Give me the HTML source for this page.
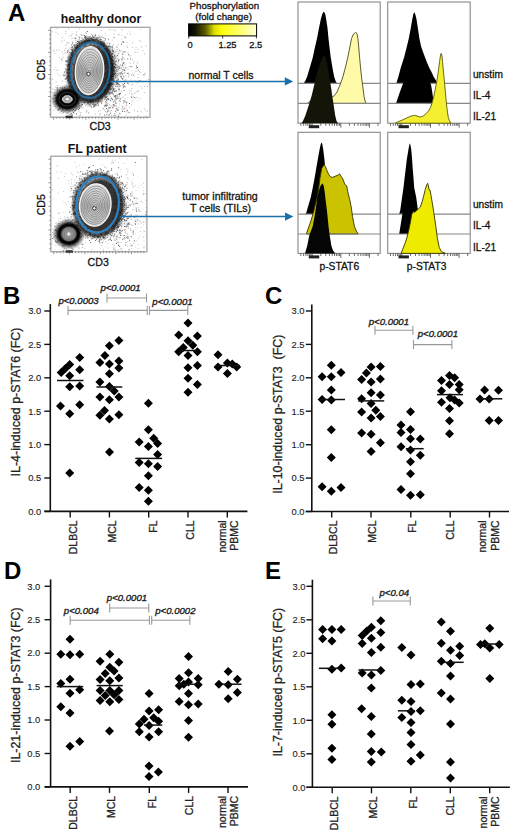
<!DOCTYPE html>
<html><head><meta charset="utf-8"><style>
html,body{margin:0;padding:0;background:#fff;}
svg{display:block;}
text{font-family:"Liberation Sans", sans-serif;}
</style></head><body>
<svg width="520" height="835" viewBox="0 0 520 835">
<defs>
<filter id="bl1" x="-30%" y="-30%" width="160%" height="160%"><feGaussianBlur stdDeviation="1.6"/></filter>
<filter id="bl05" x="-30%" y="-30%" width="160%" height="160%"><feGaussianBlur stdDeviation="0.8"/></filter>
</defs>
<rect width="520" height="835" fill="#fff"/>
<text x="8" y="21" font-size="24" text-anchor="start" fill="#000" font-weight="bold">A</text>
<text x="101" y="22.6" font-size="12.2" text-anchor="middle" fill="#111" font-weight="bold">healthy donor</text>
<text x="97.2" y="152.6" font-size="12.4" text-anchor="middle" fill="#111" font-weight="bold">FL patient</text>
<rect x="50.6" y="27.3" width="99.4" height="89.9" fill="#fff" stroke="#aaa" stroke-width="1.4"/>
<defs><radialGradient id="hg1" cx="0.5" cy="0.5" r="0.5"><stop offset="0" stop-color="#222" stop-opacity="0.9"/><stop offset="0.70" stop-color="#111" stop-opacity="0.85"/><stop offset="0.80" stop-color="#222" stop-opacity="0.5"/><stop offset="0.90" stop-color="#444" stop-opacity="0.15"/><stop offset="1" stop-color="#666" stop-opacity="0"/></radialGradient><radialGradient id="sg1" cx="0.5" cy="0.5" r="0.5"><stop offset="0" stop-color="#fafafa"/><stop offset="0.015" stop-color="#ddd"/><stop offset="0.045" stop-color="#a0a0a0"/><stop offset="0.090" stop-color="#8a8a8a"/><stop offset="0.140" stop-color="#1a1a1a"/><stop offset="0.200" stop-color="#000"/><stop offset="0.64" stop-color="#000" stop-opacity="0.95"/><stop offset="0.78" stop-color="#222" stop-opacity="0.55"/><stop offset="1" stop-color="#444" stop-opacity="0"/></radialGradient><linearGradient id="ig1" x1="0" y1="0" x2="0" y2="1"><stop offset="0" stop-color="#dedede"/><stop offset="0.5" stop-color="#c0c0c0"/><stop offset="1" stop-color="#d0d0d0"/></linearGradient></defs>
<path d="M58.7 75.4h0.9v0.9h-0.9zM57.2 72.9h0.9v0.9h-0.9zM93.8 34.4h0.9v0.9h-0.9zM92.9 101.0h0.9v0.9h-0.9zM56.1 103.8h0.9v0.9h-0.9zM113.8 61.0h0.9v0.9h-0.9zM57.7 33.5h0.9v0.9h-0.9zM117.9 65.9h0.9v0.9h-0.9zM108.6 68.1h0.9v0.9h-0.9zM129.0 89.7h0.9v0.9h-0.9zM107.5 74.5h0.9v0.9h-0.9zM66.4 71.3h0.9v0.9h-0.9zM116.7 95.5h0.9v0.9h-0.9zM109.5 79.3h0.9v0.9h-0.9zM79.3 62.2h0.9v0.9h-0.9zM53.8 68.9h0.9v0.9h-0.9zM64.2 50.1h0.9v0.9h-0.9zM66.3 43.8h0.9v0.9h-0.9zM74.3 70.9h0.9v0.9h-0.9zM87.6 78.1h0.9v0.9h-0.9zM118.9 73.6h0.9v0.9h-0.9zM89.8 63.4h0.9v0.9h-0.9zM113.4 33.8h0.9v0.9h-0.9zM71.9 42.6h0.9v0.9h-0.9zM56.7 28.3h0.9v0.9h-0.9zM61.5 60.3h0.9v0.9h-0.9zM136.8 82.3h0.9v0.9h-0.9zM76.2 58.8h0.9v0.9h-0.9zM97.0 70.8h0.9v0.9h-0.9zM61.6 58.4h0.9v0.9h-0.9zM132.3 42.5h0.9v0.9h-0.9zM144.2 74.7h0.9v0.9h-0.9zM77.0 60.5h0.9v0.9h-0.9zM131.3 93.3h0.9v0.9h-0.9zM102.0 59.6h0.9v0.9h-0.9zM54.3 52.9h0.9v0.9h-0.9zM119.1 112.4h0.9v0.9h-0.9zM87.1 47.7h0.9v0.9h-0.9zM115.2 98.6h0.9v0.9h-0.9zM124.7 70.3h0.9v0.9h-0.9zM143.8 92.0h0.9v0.9h-0.9zM147.1 86.1h0.9v0.9h-0.9zM105.0 39.8h0.9v0.9h-0.9zM132.1 46.9h0.9v0.9h-0.9zM76.9 65.1h0.9v0.9h-0.9zM108.4 107.8h0.9v0.9h-0.9zM105.8 57.0h0.9v0.9h-0.9zM105.7 97.2h0.9v0.9h-0.9zM106.2 50.1h0.9v0.9h-0.9zM126.8 72.9h0.9v0.9h-0.9zM125.6 108.5h0.9v0.9h-0.9zM111.3 72.7h0.9v0.9h-0.9zM119.1 68.1h0.9v0.9h-0.9zM137.0 111.1h0.9v0.9h-0.9zM58.7 49.5h0.9v0.9h-0.9zM73.0 112.0h0.9v0.9h-0.9zM67.3 66.2h0.9v0.9h-0.9zM84.6 45.5h0.9v0.9h-0.9zM112.4 73.3h0.9v0.9h-0.9zM61.8 51.6h0.9v0.9h-0.9zM127.5 52.1h0.9v0.9h-0.9zM107.2 89.9h0.9v0.9h-0.9zM57.2 88.8h0.9v0.9h-0.9zM84.6 76.9h0.9v0.9h-0.9zM74.8 37.9h0.9v0.9h-0.9zM81.3 95.1h0.9v0.9h-0.9zM100.3 43.9h0.9v0.9h-0.9zM53.4 50.3h0.9v0.9h-0.9zM123.0 76.7h0.9v0.9h-0.9zM97.8 110.5h0.9v0.9h-0.9zM131.4 66.3h0.9v0.9h-0.9zM132.9 62.9h0.9v0.9h-0.9zM118.6 114.7h0.9v0.9h-0.9zM91.0 58.8h0.9v0.9h-0.9zM76.5 42.6h0.9v0.9h-0.9zM79.1 49.6h0.9v0.9h-0.9zM96.4 42.1h0.9v0.9h-0.9zM81.7 59.6h0.9v0.9h-0.9zM88.8 70.0h0.9v0.9h-0.9zM71.2 72.7h0.9v0.9h-0.9zM74.3 79.8h0.9v0.9h-0.9zM124.7 86.1h0.9v0.9h-0.9zM137.2 62.5h0.9v0.9h-0.9zM100.7 101.7h0.9v0.9h-0.9zM118.1 89.2h0.9v0.9h-0.9zM112.7 83.3h0.9v0.9h-0.9zM124.5 72.5h0.9v0.9h-0.9zM76.2 34.8h0.9v0.9h-0.9zM98.3 88.4h0.9v0.9h-0.9zM111.7 84.8h0.9v0.9h-0.9zM81.3 78.2h0.9v0.9h-0.9zM119.0 87.7h0.9v0.9h-0.9zM101.9 69.1h0.9v0.9h-0.9zM63.1 106.9h0.9v0.9h-0.9zM146.9 110.6h0.9v0.9h-0.9zM95.4 51.9h0.9v0.9h-0.9zM64.5 100.4h0.9v0.9h-0.9zM138.0 90.1h0.9v0.9h-0.9zM139.0 71.0h0.9v0.9h-0.9zM81.0 40.7h0.9v0.9h-0.9zM82.4 102.2h0.9v0.9h-0.9zM124.7 102.1h0.9v0.9h-0.9zM79.8 61.0h0.9v0.9h-0.9zM93.3 52.5h0.9v0.9h-0.9zM61.5 101.7h0.9v0.9h-0.9zM142.7 50.2h0.9v0.9h-0.9zM101.4 45.0h0.9v0.9h-0.9zM105.1 91.6h0.9v0.9h-0.9zM114.4 53.5h0.9v0.9h-0.9zM80.9 77.3h0.9v0.9h-0.9zM67.9 42.5h0.9v0.9h-0.9zM139.8 72.0h0.9v0.9h-0.9zM65.2 45.2h0.9v0.9h-0.9zM84.9 36.3h0.9v0.9h-0.9zM124.6 64.6h0.9v0.9h-0.9zM102.7 61.4h0.9v0.9h-0.9zM135.6 47.3h0.9v0.9h-0.9zM75.8 63.4h0.9v0.9h-0.9zM75.8 37.9h0.9v0.9h-0.9zM102.5 88.3h0.9v0.9h-0.9zM121.9 85.2h0.9v0.9h-0.9zM96.1 76.8h0.9v0.9h-0.9zM114.5 55.0h0.9v0.9h-0.9zM76.1 84.2h0.9v0.9h-0.9zM108.4 62.4h0.9v0.9h-0.9zM110.1 29.2h0.9v0.9h-0.9zM137.7 70.1h0.9v0.9h-0.9zM117.3 65.2h0.9v0.9h-0.9zM116.6 109.6h0.9v0.9h-0.9zM123.6 72.7h0.9v0.9h-0.9zM80.3 112.0h0.9v0.9h-0.9zM69.8 47.9h0.9v0.9h-0.9zM116.4 111.7h0.9v0.9h-0.9zM65.4 32.9h0.9v0.9h-0.9zM88.5 61.2h0.9v0.9h-0.9zM85.8 112.3h0.9v0.9h-0.9zM131.6 100.6h0.9v0.9h-0.9zM56.4 69.9h0.9v0.9h-0.9zM130.7 95.7h0.9v0.9h-0.9zM82.4 52.5h0.9v0.9h-0.9zM89.2 50.4h0.9v0.9h-0.9zM99.7 109.9h0.9v0.9h-0.9zM126.9 81.7h0.9v0.9h-0.9zM75.7 34.0h0.9v0.9h-0.9zM137.7 115.1h0.9v0.9h-0.9zM120.7 67.6h0.9v0.9h-0.9zM92.2 82.8h0.9v0.9h-0.9zM63.4 102.2h0.9v0.9h-0.9zM106.8 61.1h0.9v0.9h-0.9zM71.0 50.0h0.9v0.9h-0.9zM115.2 115.4h0.9v0.9h-0.9zM97.8 100.3h0.9v0.9h-0.9zM108.4 110.1h0.9v0.9h-0.9zM136.0 67.8h0.9v0.9h-0.9zM127.4 111.4h0.9v0.9h-0.9zM109.7 82.8h0.9v0.9h-0.9zM87.5 40.7h0.9v0.9h-0.9zM76.4 81.0h0.9v0.9h-0.9zM117.7 44.6h0.9v0.9h-0.9zM71.4 98.2h0.9v0.9h-0.9zM105.2 84.5h0.9v0.9h-0.9zM67.5 89.4h0.9v0.9h-0.9zM82.0 78.1h0.9v0.9h-0.9zM92.9 100.4h0.9v0.9h-0.9zM137.6 68.8h0.9v0.9h-0.9zM87.7 72.6h0.9v0.9h-0.9zM145.8 45.6h0.9v0.9h-0.9zM67.2 97.4h0.9v0.9h-0.9zM69.4 47.5h0.9v0.9h-0.9zM102.0 62.0h0.9v0.9h-0.9zM55.3 102.0h0.9v0.9h-0.9zM110.0 76.6h0.9v0.9h-0.9zM81.4 65.2h0.9v0.9h-0.9zM93.1 86.2h0.9v0.9h-0.9zM127.6 68.6h0.9v0.9h-0.9zM97.7 37.7h0.9v0.9h-0.9zM88.4 111.9h0.9v0.9h-0.9zM67.1 107.1h0.9v0.9h-0.9zM141.2 46.6h0.9v0.9h-0.9zM100.9 56.3h0.9v0.9h-0.9zM117.8 107.0h0.9v0.9h-0.9zM105.7 79.3h0.9v0.9h-0.9zM90.0 98.4h0.9v0.9h-0.9zM148.1 79.0h0.9v0.9h-0.9zM126.1 67.2h0.9v0.9h-0.9zM108.7 86.6h0.9v0.9h-0.9zM51.8 31.3h0.9v0.9h-0.9zM111.6 66.3h0.9v0.9h-0.9zM138.8 39.9h0.9v0.9h-0.9zM115.2 30.3h0.9v0.9h-0.9zM86.2 37.6h0.9v0.9h-0.9zM73.4 79.6h0.9v0.9h-0.9zM71.5 83.1h0.9v0.9h-0.9zM64.7 110.6h0.9v0.9h-0.9zM136.5 97.1h0.9v0.9h-0.9zM106.4 59.1h0.9v0.9h-0.9zM75.8 107.7h0.9v0.9h-0.9zM103.4 64.0h0.9v0.9h-0.9zM57.3 96.8h0.9v0.9h-0.9zM105.3 111.0h0.9v0.9h-0.9zM71.0 81.8h0.9v0.9h-0.9zM114.1 99.8h0.9v0.9h-0.9zM81.7 54.7h0.9v0.9h-0.9zM96.9 93.5h0.9v0.9h-0.9zM73.6 37.6h0.9v0.9h-0.9zM77.5 77.0h0.9v0.9h-0.9zM128.4 74.3h0.9v0.9h-0.9zM114.1 113.1h0.9v0.9h-0.9zM113.0 89.2h0.9v0.9h-0.9zM119.5 103.7h0.9v0.9h-0.9zM122.2 78.4h0.9v0.9h-0.9zM72.2 83.0h0.9v0.9h-0.9zM140.3 41.0h0.9v0.9h-0.9zM62.0 110.0h0.9v0.9h-0.9zM65.4 30.8h0.9v0.9h-0.9zM119.1 84.0h0.9v0.9h-0.9zM87.0 100.2h0.9v0.9h-0.9zM140.7 111.3h0.9v0.9h-0.9zM71.6 38.1h0.9v0.9h-0.9zM132.0 83.8h0.9v0.9h-0.9zM71.6 56.4h0.9v0.9h-0.9zM53.6 50.9h0.9v0.9h-0.9zM121.3 60.6h0.9v0.9h-0.9zM94.1 96.2h0.9v0.9h-0.9zM120.2 75.6h0.9v0.9h-0.9zM68.2 28.4h0.9v0.9h-0.9zM125.8 114.3h0.9v0.9h-0.9zM99.4 71.5h0.9v0.9h-0.9zM69.6 71.8h0.9v0.9h-0.9zM128.2 83.5h0.9v0.9h-0.9zM60.0 106.4h0.9v0.9h-0.9zM100.4 61.6h0.9v0.9h-0.9zM74.4 68.8h0.9v0.9h-0.9zM125.1 94.5h0.9v0.9h-0.9zM85.5 57.0h0.9v0.9h-0.9zM108.0 39.4h0.9v0.9h-0.9zM137.8 49.2h0.9v0.9h-0.9zM81.0 90.1h0.9v0.9h-0.9zM66.7 42.0h0.9v0.9h-0.9zM83.4 74.2h0.9v0.9h-0.9zM129.0 92.8h0.9v0.9h-0.9zM70.7 84.4h0.9v0.9h-0.9zM71.7 62.4h0.9v0.9h-0.9zM90.5 97.8h0.9v0.9h-0.9zM100.3 83.9h0.9v0.9h-0.9zM65.4 81.4h0.9v0.9h-0.9zM123.8 108.1h0.9v0.9h-0.9zM107.5 94.1h0.9v0.9h-0.9zM117.8 84.7h0.9v0.9h-0.9zM82.1 83.5h0.9v0.9h-0.9zM92.5 97.1h0.9v0.9h-0.9zM112.9 50.3h0.9v0.9h-0.9zM95.9 82.9h0.9v0.9h-0.9zM117.4 110.1h0.9v0.9h-0.9zM115.3 96.7h0.9v0.9h-0.9zM99.3 114.0h0.9v0.9h-0.9zM143.2 73.9h0.9v0.9h-0.9zM107.6 75.9h0.9v0.9h-0.9zM101.5 84.5h0.9v0.9h-0.9zM72.1 88.5h0.9v0.9h-0.9zM86.2 33.3h0.9v0.9h-0.9zM92.6 89.7h0.9v0.9h-0.9zM143.1 74.6h0.9v0.9h-0.9zM129.7 62.8h0.9v0.9h-0.9zM113.4 69.5h0.9v0.9h-0.9zM73.6 113.0h0.9v0.9h-0.9zM97.2 54.2h0.9v0.9h-0.9zM63.8 101.6h0.9v0.9h-0.9zM134.5 51.8h0.9v0.9h-0.9zM76.3 65.8h0.9v0.9h-0.9zM51.9 91.7h0.9v0.9h-0.9zM75.5 54.8h0.9v0.9h-0.9zM93.3 84.3h0.9v0.9h-0.9zM113.3 29.6h0.9v0.9h-0.9zM144.3 86.0h0.9v0.9h-0.9zM61.5 40.8h0.9v0.9h-0.9zM127.2 58.8h0.9v0.9h-0.9zM139.7 97.9h0.9v0.9h-0.9zM103.3 93.5h0.9v0.9h-0.9zM137.6 77.1h0.9v0.9h-0.9zM57.3 69.4h0.9v0.9h-0.9zM99.5 72.1h0.9v0.9h-0.9zM97.2 77.7h0.9v0.9h-0.9zM133.5 61.3h0.9v0.9h-0.9zM118.1 110.2h0.9v0.9h-0.9zM87.3 70.0h0.9v0.9h-0.9zM126.7 46.8h0.9v0.9h-0.9zM92.7 77.0h0.9v0.9h-0.9zM80.1 101.1h0.9v0.9h-0.9zM100.7 52.2h0.9v0.9h-0.9zM83.8 56.2h0.9v0.9h-0.9zM108.7 84.1h0.9v0.9h-0.9zM104.7 32.7h0.9v0.9h-0.9zM110.9 86.1h0.9v0.9h-0.9zM112.7 89.5h0.9v0.9h-0.9zM96.2 95.3h0.9v0.9h-0.9zM140.6 85.9h0.9v0.9h-0.9zM131.7 97.4h0.9v0.9h-0.9zM76.7 54.8h0.9v0.9h-0.9zM82.6 66.2h0.9v0.9h-0.9zM107.6 109.0h0.9v0.9h-0.9zM72.3 41.6h0.9v0.9h-0.9zM52.1 88.4h0.9v0.9h-0.9zM75.2 92.8h0.9v0.9h-0.9zM134.9 92.4h0.9v0.9h-0.9zM112.8 90.6h0.9v0.9h-0.9zM121.5 29.3h0.9v0.9h-0.9zM115.0 100.1h0.9v0.9h-0.9zM81.9 92.4h0.9v0.9h-0.9zM135.5 71.0h0.9v0.9h-0.9zM87.4 78.8h0.9v0.9h-0.9zM87.0 85.0h0.9v0.9h-0.9zM92.3 62.2h0.9v0.9h-0.9zM120.1 101.0h0.9v0.9h-0.9zM110.2 55.4h0.9v0.9h-0.9zM79.2 28.4h0.9v0.9h-0.9zM92.8 79.9h0.9v0.9h-0.9zM118.3 108.6h0.9v0.9h-0.9zM74.4 81.6h0.9v0.9h-0.9zM96.9 46.5h0.9v0.9h-0.9zM124.8 97.9h0.9v0.9h-0.9zM137.8 74.2h0.9v0.9h-0.9zM109.0 44.9h0.9v0.9h-0.9zM69.2 89.9h0.9v0.9h-0.9zM106.6 63.7h0.9v0.9h-0.9zM85.2 74.0h0.9v0.9h-0.9zM99.0 78.2h0.9v0.9h-0.9zM76.3 31.6h0.9v0.9h-0.9zM69.2 35.7h0.9v0.9h-0.9zM105.9 104.8h0.9v0.9h-0.9zM143.9 108.3h0.9v0.9h-0.9zM109.9 63.2h0.9v0.9h-0.9zM89.9 67.7h0.9v0.9h-0.9zM145.7 115.5h0.9v0.9h-0.9zM114.6 114.9h0.9v0.9h-0.9zM117.5 54.6h0.9v0.9h-0.9zM125.4 37.6h0.9v0.9h-0.9zM68.0 49.3h0.9v0.9h-0.9zM112.8 68.1h0.9v0.9h-0.9zM65.5 47.8h0.9v0.9h-0.9zM121.1 76.9h0.9v0.9h-0.9zM84.2 43.0h0.9v0.9h-0.9zM82.6 107.7h0.9v0.9h-0.9zM116.7 46.9h0.9v0.9h-0.9zM79.5 51.0h0.9v0.9h-0.9zM80.2 114.3h0.9v0.9h-0.9zM130.2 58.3h0.9v0.9h-0.9zM72.9 78.5h0.9v0.9h-0.9zM70.8 35.3h0.9v0.9h-0.9zM110.9 71.9h0.9v0.9h-0.9zM71.7 82.1h0.9v0.9h-0.9zM130.6 79.5h0.9v0.9h-0.9zM58.0 92.7h0.9v0.9h-0.9zM98.0 105.0h0.9v0.9h-0.9zM69.7 101.4h0.9v0.9h-0.9zM131.1 104.4h0.9v0.9h-0.9zM99.8 73.4h0.9v0.9h-0.9zM73.4 44.3h0.9v0.9h-0.9zM76.0 100.1h0.9v0.9h-0.9zM61.0 89.7h0.9v0.9h-0.9zM102.5 90.1h0.9v0.9h-0.9zM136.3 91.3h0.9v0.9h-0.9zM63.6 71.7h0.9v0.9h-0.9zM78.8 39.0h0.9v0.9h-0.9zM89.5 65.3h0.9v0.9h-0.9zM127.3 58.1h0.9v0.9h-0.9zM144.9 110.4h0.9v0.9h-0.9zM92.7 83.9h0.9v0.9h-0.9zM100.8 30.1h0.9v0.9h-0.9zM77.5 87.9h0.9v0.9h-0.9zM104.4 109.6h0.9v0.9h-0.9zM76.0 74.0h0.9v0.9h-0.9zM144.2 53.6h0.9v0.9h-0.9zM144.7 73.5h0.9v0.9h-0.9zM97.0 75.2h0.9v0.9h-0.9zM63.7 39.8h0.9v0.9h-0.9zM91.2 53.6h0.9v0.9h-0.9zM111.0 78.4h0.9v0.9h-0.9zM71.2 90.7h0.9v0.9h-0.9zM105.0 82.2h0.9v0.9h-0.9zM81.8 49.6h0.9v0.9h-0.9zM101.5 62.0h0.9v0.9h-0.9zM74.8 77.2h0.9v0.9h-0.9zM79.3 115.1h0.9v0.9h-0.9zM126.8 42.2h0.9v0.9h-0.9zM136.5 67.0h0.9v0.9h-0.9zM89.4 67.0h0.9v0.9h-0.9zM123.5 41.9h0.9v0.9h-0.9zM85.9 87.7h0.9v0.9h-0.9zM97.9 97.3h0.9v0.9h-0.9zM100.1 112.9h0.9v0.9h-0.9zM92.3 97.2h0.9v0.9h-0.9zM110.8 61.7h0.9v0.9h-0.9zM96.2 91.9h0.9v0.9h-0.9zM89.7 77.1h0.9v0.9h-0.9zM100.3 67.3h0.9v0.9h-0.9zM140.3 29.2h0.9v0.9h-0.9zM106.6 72.0h0.9v0.9h-0.9zM102.0 73.8h0.9v0.9h-0.9zM89.5 59.7h0.9v0.9h-0.9zM102.8 37.0h0.9v0.9h-0.9zM90.6 77.6h0.9v0.9h-0.9zM94.5 83.2h0.9v0.9h-0.9zM85.0 74.9h0.9v0.9h-0.9zM132.1 73.4h0.9v0.9h-0.9zM100.8 44.8h0.9v0.9h-0.9zM113.0 81.3h0.9v0.9h-0.9zM148.4 84.2h0.9v0.9h-0.9zM91.7 97.5h0.9v0.9h-0.9zM70.8 72.1h0.9v0.9h-0.9zM77.5 85.2h0.9v0.9h-0.9zM62.0 37.1h0.9v0.9h-0.9zM102.5 100.7h0.9v0.9h-0.9zM130.2 33.8h0.9v0.9h-0.9zM86.1 43.2h0.9v0.9h-0.9zM85.6 67.8h0.9v0.9h-0.9zM75.3 62.6h0.9v0.9h-0.9zM98.8 98.0h0.9v0.9h-0.9zM68.5 59.8h0.9v0.9h-0.9zM62.8 75.2h0.9v0.9h-0.9zM90.9 34.1h0.9v0.9h-0.9zM132.0 59.2h0.9v0.9h-0.9zM70.2 53.2h0.9v0.9h-0.9zM55.0 86.7h0.9v0.9h-0.9zM66.8 90.3h0.9v0.9h-0.9zM77.9 101.7h0.9v0.9h-0.9zM94.8 101.8h0.9v0.9h-0.9zM88.3 112.5h0.9v0.9h-0.9zM144.2 72.7h0.9v0.9h-0.9zM77.0 107.4h0.9v0.9h-0.9zM87.4 49.9h0.9v0.9h-0.9zM72.3 105.0h0.9v0.9h-0.9zM101.6 76.0h0.9v0.9h-0.9zM106.9 55.6h0.9v0.9h-0.9zM82.9 86.6h0.9v0.9h-0.9zM106.3 60.1h0.9v0.9h-0.9zM80.5 34.1h0.9v0.9h-0.9zM64.5 52.6h0.9v0.9h-0.9zM117.8 86.6h0.9v0.9h-0.9zM91.8 86.2h0.9v0.9h-0.9zM75.8 102.7h0.9v0.9h-0.9zM112.8 44.3h0.9v0.9h-0.9zM55.5 31.8h0.9v0.9h-0.9zM70.9 54.9h0.9v0.9h-0.9zM69.1 102.1h0.9v0.9h-0.9zM121.4 50.7h0.9v0.9h-0.9zM118.3 59.0h0.9v0.9h-0.9zM132.9 96.6h0.9v0.9h-0.9zM56.2 49.8h0.9v0.9h-0.9zM89.9 94.0h0.9v0.9h-0.9zM123.5 101.3h0.9v0.9h-0.9zM93.3 73.3h0.9v0.9h-0.9zM64.0 95.3h0.9v0.9h-0.9zM120.0 99.1h0.9v0.9h-0.9zM104.6 50.2h0.9v0.9h-0.9zM86.5 64.5h0.9v0.9h-0.9zM116.9 49.2h0.9v0.9h-0.9zM101.8 67.4h0.9v0.9h-0.9zM65.4 77.8h0.9v0.9h-0.9zM68.1 86.9h0.9v0.9h-0.9zM96.5 95.6h0.9v0.9h-0.9zM62.8 53.7h0.9v0.9h-0.9zM71.7 33.6h0.9v0.9h-0.9zM70.8 90.0h0.9v0.9h-0.9zM62.6 56.8h0.9v0.9h-0.9zM87.0 43.1h0.9v0.9h-0.9zM93.9 45.0h0.9v0.9h-0.9zM76.1 49.9h0.9v0.9h-0.9zM134.0 109.8h0.9v0.9h-0.9zM82.8 60.7h0.9v0.9h-0.9zM87.6 101.4h0.9v0.9h-0.9zM59.4 88.8h0.9v0.9h-0.9zM94.8 113.5h0.9v0.9h-0.9zM55.5 66.9h0.9v0.9h-0.9zM134.9 97.5h0.9v0.9h-0.9zM79.2 86.5h0.9v0.9h-0.9zM92.6 58.1h0.9v0.9h-0.9zM67.6 54.3h0.9v0.9h-0.9zM106.5 58.9h0.9v0.9h-0.9zM110.9 54.4h0.9v0.9h-0.9zM87.8 79.3h0.9v0.9h-0.9zM103.2 77.9h0.9v0.9h-0.9zM76.1 71.3h0.9v0.9h-0.9zM73.7 78.6h0.9v0.9h-0.9zM101.6 80.0h0.9v0.9h-0.9zM106.4 96.4h0.9v0.9h-0.9zM127.2 33.4h0.9v0.9h-0.9zM93.1 106.4h0.9v0.9h-0.9zM84.9 95.4h0.9v0.9h-0.9zM55.8 81.4h0.9v0.9h-0.9zM105.1 98.9h0.9v0.9h-0.9zM141.7 87.7h0.9v0.9h-0.9zM108.2 38.3h0.9v0.9h-0.9zM62.4 98.7h0.9v0.9h-0.9zM105.6 53.8h0.9v0.9h-0.9zM104.0 88.9h0.9v0.9h-0.9zM129.6 31.4h0.9v0.9h-0.9zM131.3 88.0h0.9v0.9h-0.9zM89.9 105.0h0.9v0.9h-0.9zM59.0 57.2h0.9v0.9h-0.9zM138.7 80.1h0.9v0.9h-0.9zM68.1 60.0h0.9v0.9h-0.9zM107.8 62.4h0.9v0.9h-0.9zM52.2 79.2h0.9v0.9h-0.9zM78.2 52.3h0.9v0.9h-0.9z" fill="#666" opacity="0.55"/>
<path d="M108.6 80.7h1v1h-1zM109.3 68.2h1v1h-1zM77.3 95.8h1v1h-1zM101.2 98.5h1v1h-1zM121.0 43.8h1v1h-1zM114.3 90.5h1v1h-1zM100.7 95.4h1v1h-1zM106.2 97.0h1v1h-1zM115.2 57.5h1v1h-1zM119.6 72.3h1v1h-1zM111.6 66.0h1v1h-1zM118.8 94.3h1v1h-1zM68.4 88.9h1v1h-1zM75.6 101.9h1v1h-1zM100.7 92.7h1v1h-1zM113.4 105.5h1v1h-1zM105.5 45.4h1v1h-1zM116.8 75.2h1v1h-1zM109.7 74.5h1v1h-1zM69.1 110.6h1v1h-1zM108.0 67.4h1v1h-1zM87.9 38.4h1v1h-1zM123.3 100.2h1v1h-1zM105.3 92.5h1v1h-1zM116.3 68.9h1v1h-1zM90.4 37.7h1v1h-1zM108.8 53.6h1v1h-1zM77.4 101.1h1v1h-1zM106.1 48.4h1v1h-1zM112.1 93.3h1v1h-1zM80.7 88.0h1v1h-1zM104.9 89.9h1v1h-1zM76.0 91.5h1v1h-1zM66.7 91.5h1v1h-1zM91.4 100.0h1v1h-1zM102.9 42.7h1v1h-1zM115.0 63.8h1v1h-1zM71.1 46.8h1v1h-1zM115.8 108.3h1v1h-1zM109.4 57.5h1v1h-1zM67.3 74.7h1v1h-1zM123.1 62.8h1v1h-1zM96.5 98.7h1v1h-1zM105.6 75.6h1v1h-1zM116.1 98.4h1v1h-1zM68.0 85.2h1v1h-1zM106.3 45.9h1v1h-1zM109.9 85.1h1v1h-1zM108.4 70.5h1v1h-1zM139.7 80.4h1v1h-1zM127.5 72.8h1v1h-1zM75.3 101.9h1v1h-1zM111.8 71.0h1v1h-1zM112.7 104.1h1v1h-1zM101.8 42.6h1v1h-1zM72.6 55.9h1v1h-1zM97.7 36.9h1v1h-1zM76.6 46.5h1v1h-1zM79.2 37.2h1v1h-1zM57.8 93.3h1v1h-1zM95.5 39.0h1v1h-1zM77.0 45.2h1v1h-1zM55.5 100.5h1v1h-1zM66.8 77.1h1v1h-1zM115.2 77.4h1v1h-1zM90.2 44.0h1v1h-1zM109.0 75.5h1v1h-1zM71.5 51.9h1v1h-1zM75.5 50.9h1v1h-1zM124.4 36.6h1v1h-1zM90.9 100.7h1v1h-1zM101.4 89.7h1v1h-1zM104.1 114.5h1v1h-1zM117.7 78.8h1v1h-1zM111.1 67.4h1v1h-1zM80.7 39.9h1v1h-1zM106.4 66.7h1v1h-1zM73.3 89.7h1v1h-1zM106.8 61.3h1v1h-1zM80.8 96.3h1v1h-1zM74.2 97.0h1v1h-1zM111.1 76.2h1v1h-1zM91.1 99.8h1v1h-1zM66.9 92.5h1v1h-1zM79.0 96.0h1v1h-1zM73.7 58.4h1v1h-1zM109.3 43.0h1v1h-1zM105.0 91.2h1v1h-1zM107.2 110.8h1v1h-1zM73.7 45.2h1v1h-1zM100.9 41.2h1v1h-1zM96.6 37.4h1v1h-1zM109.2 56.2h1v1h-1zM114.6 67.2h1v1h-1zM84.9 44.8h1v1h-1zM111.3 83.2h1v1h-1zM113.8 69.7h1v1h-1zM106.1 92.2h1v1h-1zM115.1 73.1h1v1h-1zM55.8 100.2h1v1h-1zM59.0 105.9h1v1h-1zM116.9 54.9h1v1h-1zM111.9 65.5h1v1h-1zM109.3 57.5h1v1h-1zM105.2 101.1h1v1h-1zM63.9 87.5h1v1h-1zM111.3 97.6h1v1h-1zM124.3 51.2h1v1h-1zM116.6 80.5h1v1h-1zM108.4 73.3h1v1h-1zM107.2 98.0h1v1h-1zM116.9 85.7h1v1h-1zM106.4 47.8h1v1h-1zM55.8 103.1h1v1h-1zM81.3 95.4h1v1h-1zM126.7 109.9h1v1h-1zM71.8 86.4h1v1h-1zM98.7 46.4h1v1h-1zM110.7 78.5h1v1h-1zM83.1 43.9h1v1h-1zM116.4 72.7h1v1h-1zM92.9 38.9h1v1h-1zM113.7 114.7h1v1h-1zM119.4 113.2h1v1h-1zM114.1 72.3h1v1h-1zM128.0 54.3h1v1h-1zM78.7 46.8h1v1h-1zM102.8 46.2h1v1h-1zM113.2 80.2h1v1h-1zM69.4 77.8h1v1h-1zM117.9 68.8h1v1h-1zM130.9 96.8h1v1h-1zM110.1 67.4h1v1h-1zM80.5 105.8h1v1h-1zM109.8 60.7h1v1h-1zM56.9 90.4h1v1h-1zM110.1 63.1h1v1h-1zM114.8 96.4h1v1h-1zM105.4 104.2h1v1h-1zM103.8 50.5h1v1h-1zM92.3 100.5h1v1h-1zM123.0 41.5h1v1h-1zM113.7 73.9h1v1h-1zM112.0 86.4h1v1h-1zM67.2 91.4h1v1h-1zM94.5 105.2h1v1h-1zM64.6 74.4h1v1h-1zM71.7 110.3h1v1h-1zM105.8 77.2h1v1h-1zM82.6 39.5h1v1h-1zM88.3 98.4h1v1h-1zM105.3 77.9h1v1h-1zM67.5 50.6h1v1h-1zM110.9 46.5h1v1h-1zM79.7 45.2h1v1h-1zM106.4 99.2h1v1h-1zM122.7 84.1h1v1h-1zM124.2 110.9h1v1h-1zM86.5 41.3h1v1h-1zM111.9 55.9h1v1h-1zM86.6 46.2h1v1h-1zM70.7 78.2h1v1h-1zM76.5 94.0h1v1h-1zM111.2 67.3h1v1h-1zM105.5 58.0h1v1h-1zM109.0 88.2h1v1h-1zM104.7 84.2h1v1h-1zM100.3 98.2h1v1h-1zM129.0 103.1h1v1h-1zM108.2 71.7h1v1h-1zM107.0 63.7h1v1h-1zM108.6 90.4h1v1h-1zM100.3 97.6h1v1h-1zM113.8 95.8h1v1h-1zM71.3 114.7h1v1h-1zM110.3 83.9h1v1h-1zM113.3 50.4h1v1h-1zM104.4 89.7h1v1h-1zM87.9 40.4h1v1h-1zM121.6 78.1h1v1h-1zM74.7 99.2h1v1h-1zM57.6 109.4h1v1h-1zM119.1 100.4h1v1h-1zM109.0 79.9h1v1h-1zM85.7 39.8h1v1h-1zM108.2 49.1h1v1h-1zM60.5 109.3h1v1h-1zM101.7 97.0h1v1h-1zM67.4 69.3h1v1h-1zM53.1 101.5h1v1h-1zM110.0 85.1h1v1h-1zM105.6 51.8h1v1h-1zM107.0 55.6h1v1h-1zM106.1 93.7h1v1h-1zM117.2 83.4h1v1h-1zM109.2 85.5h1v1h-1zM57.2 103.1h1v1h-1zM60.3 94.6h1v1h-1zM83.9 95.0h1v1h-1zM112.2 107.3h1v1h-1zM62.2 96.5h1v1h-1zM116.1 90.4h1v1h-1zM108.2 84.3h1v1h-1zM113.0 101.4h1v1h-1zM104.8 94.4h1v1h-1zM112.0 49.6h1v1h-1zM82.5 45.1h1v1h-1zM66.8 59.9h1v1h-1zM62.5 91.4h1v1h-1zM97.2 103.0h1v1h-1zM89.6 36.1h1v1h-1zM103.4 93.5h1v1h-1zM91.1 38.7h1v1h-1zM109.8 83.3h1v1h-1zM107.2 85.4h1v1h-1zM113.9 91.3h1v1h-1zM110.3 83.1h1v1h-1zM69.8 68.9h1v1h-1zM89.2 40.1h1v1h-1zM117.8 52.7h1v1h-1zM82.3 99.5h1v1h-1zM73.4 87.5h1v1h-1zM74.6 103.9h1v1h-1zM104.0 43.7h1v1h-1zM104.3 90.9h1v1h-1zM85.7 43.4h1v1h-1zM58.8 90.5h1v1h-1zM56.7 87.3h1v1h-1zM104.9 66.7h1v1h-1zM69.0 64.0h1v1h-1zM107.3 57.9h1v1h-1zM82.1 89.2h1v1h-1zM112.3 65.0h1v1h-1zM76.2 88.7h1v1h-1zM74.2 87.4h1v1h-1zM75.3 90.5h1v1h-1zM68.3 107.3h1v1h-1zM109.9 77.6h1v1h-1zM74.7 83.1h1v1h-1zM95.3 47.6h1v1h-1zM90.4 50.5h1v1h-1zM117.6 78.5h1v1h-1zM80.4 93.7h1v1h-1zM79.5 47.1h1v1h-1zM70.5 90.2h1v1h-1zM104.7 105.5h1v1h-1zM110.6 98.2h1v1h-1zM116.7 94.4h1v1h-1zM110.3 74.9h1v1h-1zM108.9 83.2h1v1h-1zM122.0 53.7h1v1h-1zM58.6 108.9h1v1h-1zM109.2 60.3h1v1h-1zM93.7 41.2h1v1h-1zM123.6 90.0h1v1h-1zM69.0 68.4h1v1h-1zM103.9 48.3h1v1h-1zM87.1 40.0h1v1h-1zM90.4 105.7h1v1h-1zM107.0 84.7h1v1h-1zM94.4 105.8h1v1h-1zM108.3 58.2h1v1h-1zM92.9 37.1h1v1h-1zM79.1 97.8h1v1h-1zM83.8 98.4h1v1h-1zM122.6 62.8h1v1h-1zM86.9 31.0h1v1h-1zM105.8 53.2h1v1h-1zM69.5 105.7h1v1h-1zM73.3 94.3h1v1h-1zM94.3 104.0h1v1h-1zM89.9 101.1h1v1h-1zM122.7 87.3h1v1h-1zM61.0 102.8h1v1h-1zM106.2 100.1h1v1h-1zM86.3 98.0h1v1h-1zM78.7 95.4h1v1h-1zM109.4 55.6h1v1h-1zM73.0 109.2h1v1h-1zM113.8 54.8h1v1h-1zM69.9 57.0h1v1h-1zM85.2 36.4h1v1h-1zM114.9 110.7h1v1h-1zM111.5 62.4h1v1h-1zM124.7 67.5h1v1h-1zM105.0 97.3h1v1h-1zM109.0 57.1h1v1h-1zM104.4 61.6h1v1h-1zM78.1 109.1h1v1h-1zM106.7 53.4h1v1h-1zM78.4 98.4h1v1h-1zM72.1 92.3h1v1h-1zM67.5 108.1h1v1h-1zM77.3 100.0h1v1h-1zM73.7 92.1h1v1h-1zM119.9 73.5h1v1h-1zM107.7 75.2h1v1h-1zM115.6 105.4h1v1h-1zM108.7 92.5h1v1h-1zM72.0 63.0h1v1h-1zM124.0 83.1h1v1h-1zM74.8 110.0h1v1h-1zM118.7 93.5h1v1h-1zM79.6 94.0h1v1h-1zM112.0 91.6h1v1h-1zM88.7 38.4h1v1h-1zM66.8 109.5h1v1h-1zM112.9 66.6h1v1h-1zM97.8 101.4h1v1h-1zM103.9 85.9h1v1h-1zM107.4 58.9h1v1h-1zM55.0 94.7h1v1h-1zM106.6 80.7h1v1h-1zM69.8 72.6h1v1h-1zM121.6 59.1h1v1h-1zM112.5 88.3h1v1h-1zM105.8 62.4h1v1h-1zM109.6 107.2h1v1h-1zM117.4 66.9h1v1h-1zM105.3 53.3h1v1h-1zM118.1 83.5h1v1h-1zM112.8 105.5h1v1h-1zM107.0 85.0h1v1h-1zM113.6 73.1h1v1h-1zM76.5 91.9h1v1h-1zM90.2 97.6h1v1h-1zM109.9 82.8h1v1h-1zM79.8 55.0h1v1h-1zM119.2 92.9h1v1h-1zM68.3 64.6h1v1h-1zM103.8 52.5h1v1h-1zM78.6 106.7h1v1h-1zM122.6 51.4h1v1h-1zM107.6 64.2h1v1h-1zM70.8 113.0h1v1h-1zM71.1 85.7h1v1h-1zM109.7 76.9h1v1h-1zM75.2 80.8h1v1h-1zM73.1 54.3h1v1h-1zM81.1 94.3h1v1h-1zM115.4 81.8h1v1h-1zM119.3 49.8h1v1h-1zM92.8 98.3h1v1h-1zM99.8 37.6h1v1h-1zM107.4 67.0h1v1h-1zM71.8 59.7h1v1h-1zM72.3 46.5h1v1h-1zM112.2 72.9h1v1h-1zM98.3 101.0h1v1h-1zM136.9 67.1h1v1h-1zM111.8 76.0h1v1h-1zM109.9 83.2h1v1h-1zM98.8 45.2h1v1h-1zM86.3 99.7h1v1h-1zM106.5 82.0h1v1h-1zM86.2 110.6h1v1h-1zM67.5 112.3h1v1h-1zM111.7 59.2h1v1h-1zM110.2 112.8h1v1h-1zM101.7 94.5h1v1h-1zM74.1 86.5h1v1h-1zM118.6 89.0h1v1h-1zM111.5 66.9h1v1h-1zM107.8 61.0h1v1h-1zM98.5 49.1h1v1h-1zM115.2 61.2h1v1h-1zM71.0 89.2h1v1h-1zM108.8 114.2h1v1h-1zM113.6 37.1h1v1h-1zM116.0 60.8h1v1h-1zM109.7 80.9h1v1h-1zM75.2 54.0h1v1h-1zM78.9 96.3h1v1h-1zM80.8 89.9h1v1h-1zM115.3 67.0h1v1h-1zM105.8 73.5h1v1h-1zM122.4 57.3h1v1h-1zM79.1 108.0h1v1h-1zM107.8 53.9h1v1h-1zM110.8 92.2h1v1h-1zM98.4 45.5h1v1h-1zM112.6 52.6h1v1h-1zM106.6 76.9h1v1h-1zM78.3 90.3h1v1h-1zM90.7 42.1h1v1h-1zM71.8 114.3h1v1h-1zM104.9 63.0h1v1h-1zM54.2 94.9h1v1h-1zM77.0 43.3h1v1h-1zM77.7 103.2h1v1h-1zM108.4 78.3h1v1h-1zM107.9 74.5h1v1h-1zM90.3 100.5h1v1h-1zM106.3 67.0h1v1h-1zM56.7 97.3h1v1h-1zM117.4 97.9h1v1h-1zM107.4 72.3h1v1h-1zM110.7 58.1h1v1h-1zM78.6 104.9h1v1h-1zM109.9 68.2h1v1h-1zM114.6 66.6h1v1h-1zM119.4 85.8h1v1h-1zM76.0 113.6h1v1h-1zM106.3 60.5h1v1h-1zM71.0 87.1h1v1h-1zM111.8 70.7h1v1h-1zM75.1 96.4h1v1h-1zM101.4 43.9h1v1h-1zM82.3 90.2h1v1h-1zM96.0 42.8h1v1h-1zM67.4 91.0h1v1h-1zM108.1 90.6h1v1h-1zM75.6 98.8h1v1h-1zM105.5 84.8h1v1h-1zM67.8 91.9h1v1h-1zM108.4 74.5h1v1h-1zM68.0 73.4h1v1h-1zM106.5 96.1h1v1h-1zM89.4 46.0h1v1h-1zM111.9 45.7h1v1h-1zM67.2 72.9h1v1h-1zM91.7 103.7h1v1h-1zM105.5 80.9h1v1h-1zM90.3 46.9h1v1h-1zM69.6 113.7h1v1h-1zM100.5 43.6h1v1h-1zM110.5 88.0h1v1h-1zM109.4 51.5h1v1h-1zM107.9 65.8h1v1h-1zM104.6 81.2h1v1h-1zM79.6 48.5h1v1h-1zM59.5 95.4h1v1h-1zM120.8 76.0h1v1h-1zM118.7 67.4h1v1h-1zM81.2 94.2h1v1h-1zM93.8 95.1h1v1h-1zM66.2 78.1h1v1h-1zM68.1 77.6h1v1h-1zM64.5 90.6h1v1h-1zM71.9 56.6h1v1h-1zM104.6 105.0h1v1h-1zM120.1 92.7h1v1h-1zM99.9 91.5h1v1h-1zM112.0 64.6h1v1h-1zM109.3 66.4h1v1h-1zM69.9 60.3h1v1h-1zM103.4 45.8h1v1h-1zM117.5 73.4h1v1h-1zM112.8 89.1h1v1h-1zM62.5 107.3h1v1h-1zM114.3 56.0h1v1h-1zM74.3 44.3h1v1h-1zM123.2 85.7h1v1h-1zM70.4 85.5h1v1h-1zM82.0 104.3h1v1h-1zM109.3 45.9h1v1h-1zM73.6 83.6h1v1h-1zM72.9 111.9h1v1h-1zM115.2 102.6h1v1h-1zM121.9 110.9h1v1h-1zM84.7 40.8h1v1h-1zM109.8 87.1h1v1h-1zM78.3 42.5h1v1h-1zM68.6 110.7h1v1h-1zM103.9 91.2h1v1h-1zM79.9 95.2h1v1h-1zM115.4 86.0h1v1h-1zM107.1 66.5h1v1h-1zM97.4 40.2h1v1h-1zM69.5 69.2h1v1h-1zM57.3 94.4h1v1h-1zM111.4 74.1h1v1h-1zM111.9 99.1h1v1h-1zM106.5 82.2h1v1h-1zM115.8 83.9h1v1h-1zM73.4 88.7h1v1h-1zM116.9 81.6h1v1h-1zM106.0 108.1h1v1h-1zM69.9 113.8h1v1h-1zM119.4 93.5h1v1h-1zM127.3 82.9h1v1h-1zM69.0 67.5h1v1h-1zM107.2 98.5h1v1h-1zM115.3 85.8h1v1h-1zM121.3 72.8h1v1h-1zM68.8 75.8h1v1h-1zM81.8 95.5h1v1h-1zM122.3 69.2h1v1h-1zM115.8 98.6h1v1h-1zM110.1 77.4h1v1h-1zM105.6 102.2h1v1h-1zM84.1 35.0h1v1h-1zM85.2 41.9h1v1h-1zM102.9 89.0h1v1h-1zM109.7 74.3h1v1h-1zM128.6 112.0h1v1h-1zM61.9 87.4h1v1h-1zM66.2 93.6h1v1h-1zM73.2 73.5h1v1h-1zM111.3 68.4h1v1h-1zM109.4 93.7h1v1h-1zM79.9 98.7h1v1h-1zM104.7 83.7h1v1h-1zM106.7 93.0h1v1h-1zM110.6 88.2h1v1h-1zM69.5 93.5h1v1h-1zM77.9 89.1h1v1h-1zM77.8 98.1h1v1h-1zM111.0 67.2h1v1h-1zM107.5 76.3h1v1h-1zM114.0 66.0h1v1h-1zM107.6 91.0h1v1h-1zM110.5 84.2h1v1h-1zM70.0 89.8h1v1h-1zM94.3 46.5h1v1h-1zM104.5 65.6h1v1h-1zM70.4 76.3h1v1h-1zM107.3 49.9h1v1h-1zM79.9 95.1h1v1h-1zM110.1 63.8h1v1h-1zM122.0 64.7h1v1h-1zM57.5 94.4h1v1h-1zM108.3 74.0h1v1h-1zM93.0 44.9h1v1h-1zM79.0 45.8h1v1h-1zM115.0 75.3h1v1h-1zM106.0 89.0h1v1h-1zM102.7 108.3h1v1h-1zM124.0 70.1h1v1h-1zM115.0 95.1h1v1h-1zM76.1 51.9h1v1h-1zM98.9 94.5h1v1h-1zM104.9 67.5h1v1h-1zM118.1 60.2h1v1h-1zM110.5 84.9h1v1h-1zM76.6 47.6h1v1h-1zM112.8 93.6h1v1h-1zM72.4 49.9h1v1h-1zM104.7 58.4h1v1h-1zM68.5 65.6h1v1h-1zM121.8 41.6h1v1h-1zM76.0 108.4h1v1h-1zM118.0 115.7h1v1h-1zM68.3 73.5h1v1h-1zM109.8 69.3h1v1h-1zM136.0 65.6h1v1h-1zM114.7 95.4h1v1h-1zM107.6 62.6h1v1h-1zM75.1 100.0h1v1h-1zM72.9 64.0h1v1h-1zM108.8 65.4h1v1h-1zM121.8 73.8h1v1h-1zM77.3 44.9h1v1h-1zM103.8 51.7h1v1h-1zM103.3 44.4h1v1h-1zM75.2 106.5h1v1h-1zM115.6 76.2h1v1h-1zM126.1 102.3h1v1h-1zM110.6 82.8h1v1h-1zM109.4 71.4h1v1h-1zM122.1 78.6h1v1h-1zM75.8 55.7h1v1h-1zM119.1 93.6h1v1h-1zM59.5 105.5h1v1h-1zM109.8 100.0h1v1h-1zM103.4 42.2h1v1h-1zM74.2 110.6h1v1h-1zM77.9 48.9h1v1h-1zM107.6 88.6h1v1h-1zM61.8 106.4h1v1h-1zM95.8 38.5h1v1h-1zM93.3 106.3h1v1h-1zM70.8 91.9h1v1h-1zM108.2 99.0h1v1h-1zM113.0 76.1h1v1h-1zM72.0 63.5h1v1h-1zM107.5 78.0h1v1h-1zM71.6 89.4h1v1h-1zM104.9 38.4h1v1h-1zM89.4 103.9h1v1h-1zM106.2 50.7h1v1h-1zM104.4 65.8h1v1h-1zM107.2 76.6h1v1h-1zM116.6 96.5h1v1h-1zM106.3 114.2h1v1h-1zM76.9 40.7h1v1h-1zM106.2 105.4h1v1h-1zM67.4 79.4h1v1h-1zM114.3 88.4h1v1h-1zM108.9 67.7h1v1h-1zM104.6 78.8h1v1h-1z" fill="#000" opacity="0.6"/>
<path d="M68.8 90.7h1v1h-1zM123.0 66.5h1v1h-1zM103.2 50.6h1v1h-1zM106.3 57.7h1v1h-1zM96.6 89.2h1v1h-1zM108.5 66.2h1v1h-1zM108.5 56.9h1v1h-1zM122.4 96.8h1v1h-1zM115.4 51.0h1v1h-1zM109.3 81.1h1v1h-1zM107.1 48.4h1v1h-1zM105.0 73.3h1v1h-1zM115.5 103.1h1v1h-1zM108.5 77.5h1v1h-1zM109.0 65.6h1v1h-1zM129.4 65.9h1v1h-1zM112.5 60.1h1v1h-1zM68.2 107.3h1v1h-1zM112.9 66.5h1v1h-1zM55.2 101.0h1v1h-1zM102.5 95.8h1v1h-1zM77.2 99.4h1v1h-1zM106.3 82.3h1v1h-1zM115.6 67.0h1v1h-1zM90.9 42.5h1v1h-1zM66.5 75.9h1v1h-1zM81.9 98.7h1v1h-1zM97.6 104.3h1v1h-1zM108.6 53.1h1v1h-1zM104.9 91.3h1v1h-1zM79.4 106.5h1v1h-1zM130.7 90.7h1v1h-1zM80.8 105.0h1v1h-1zM105.4 58.6h1v1h-1zM108.6 74.6h1v1h-1zM112.4 73.4h1v1h-1zM107.7 46.4h1v1h-1zM80.7 106.2h1v1h-1zM54.7 106.1h1v1h-1zM97.3 45.7h1v1h-1zM95.5 103.1h1v1h-1zM103.8 83.5h1v1h-1zM118.7 90.4h1v1h-1zM60.5 106.3h1v1h-1zM118.2 59.8h1v1h-1zM110.0 56.0h1v1h-1zM67.3 50.1h1v1h-1zM121.0 72.1h1v1h-1zM105.0 89.3h1v1h-1zM81.1 101.9h1v1h-1zM111.3 59.0h1v1h-1zM88.7 104.5h1v1h-1zM104.2 49.6h1v1h-1zM60.0 92.0h1v1h-1zM66.1 69.7h1v1h-1zM78.3 36.2h1v1h-1zM76.2 48.9h1v1h-1zM117.8 82.2h1v1h-1zM75.7 48.1h1v1h-1zM109.7 66.0h1v1h-1zM96.8 94.0h1v1h-1zM97.6 99.1h1v1h-1zM65.3 89.5h1v1h-1zM94.0 39.0h1v1h-1zM104.7 87.2h1v1h-1zM61.9 80.4h1v1h-1zM109.4 87.2h1v1h-1zM116.1 55.7h1v1h-1zM86.3 35.4h1v1h-1zM107.0 71.0h1v1h-1zM104.0 59.5h1v1h-1zM108.9 104.2h1v1h-1zM109.7 72.8h1v1h-1zM84.2 94.9h1v1h-1zM76.7 91.8h1v1h-1zM90.4 102.2h1v1h-1zM104.1 82.8h1v1h-1zM108.9 84.5h1v1h-1zM111.6 84.1h1v1h-1zM108.5 85.3h1v1h-1zM78.2 42.0h1v1h-1zM104.7 74.0h1v1h-1zM104.0 64.7h1v1h-1zM108.7 51.7h1v1h-1zM132.9 74.8h1v1h-1zM113.4 63.2h1v1h-1zM112.9 87.9h1v1h-1zM113.1 77.7h1v1h-1zM113.2 77.7h1v1h-1zM115.3 101.6h1v1h-1zM117.6 79.3h1v1h-1zM80.3 94.1h1v1h-1zM66.1 72.0h1v1h-1zM68.8 86.2h1v1h-1zM107.0 81.4h1v1h-1zM70.6 69.0h1v1h-1zM74.4 89.7h1v1h-1zM79.4 42.5h1v1h-1zM114.1 80.5h1v1h-1zM72.6 98.4h1v1h-1zM104.1 105.9h1v1h-1zM111.3 114.9h1v1h-1zM108.0 98.3h1v1h-1zM103.6 50.7h1v1h-1zM70.3 52.8h1v1h-1zM121.2 90.7h1v1h-1zM66.7 65.1h1v1h-1zM108.5 46.6h1v1h-1zM87.1 97.1h1v1h-1zM133.8 97.0h1v1h-1zM58.4 104.7h1v1h-1zM118.3 88.3h1v1h-1zM70.5 88.6h1v1h-1zM72.3 85.8h1v1h-1zM123.1 102.7h1v1h-1zM104.5 96.4h1v1h-1zM118.6 33.8h1v1h-1zM69.2 82.2h1v1h-1zM114.2 57.4h1v1h-1zM97.9 92.0h1v1h-1zM125.2 79.4h1v1h-1zM121.3 65.2h1v1h-1zM116.7 109.7h1v1h-1zM91.9 34.7h1v1h-1zM87.6 40.3h1v1h-1zM66.3 77.9h1v1h-1zM69.8 75.7h1v1h-1zM78.5 88.6h1v1h-1zM105.4 51.2h1v1h-1zM110.7 105.6h1v1h-1zM59.7 91.7h1v1h-1zM110.1 72.0h1v1h-1zM107.6 78.3h1v1h-1zM62.4 109.5h1v1h-1zM71.3 53.4h1v1h-1zM110.5 60.0h1v1h-1zM109.5 80.8h1v1h-1zM63.7 75.6h1v1h-1zM72.5 88.5h1v1h-1zM112.9 79.0h1v1h-1zM108.8 61.1h1v1h-1zM109.8 46.5h1v1h-1zM104.8 65.1h1v1h-1zM104.9 56.3h1v1h-1zM61.7 101.2h1v1h-1zM106.1 74.2h1v1h-1zM85.0 104.8h1v1h-1zM74.2 47.3h1v1h-1zM75.3 93.2h1v1h-1zM108.3 106.9h1v1h-1zM71.7 106.2h1v1h-1zM108.9 62.5h1v1h-1zM110.4 60.4h1v1h-1zM94.4 46.9h1v1h-1zM105.3 68.2h1v1h-1zM117.4 66.1h1v1h-1zM107.5 49.2h1v1h-1zM99.4 45.4h1v1h-1zM124.3 85.7h1v1h-1zM81.4 35.0h1v1h-1zM95.1 104.2h1v1h-1zM87.9 41.4h1v1h-1zM107.1 56.6h1v1h-1zM69.6 90.3h1v1h-1zM108.2 86.1h1v1h-1zM110.7 63.5h1v1h-1zM77.1 46.4h1v1h-1zM52.5 98.2h1v1h-1zM105.0 53.0h1v1h-1zM116.2 70.5h1v1h-1zM69.2 58.8h1v1h-1zM119.4 51.2h1v1h-1zM81.8 93.7h1v1h-1zM115.5 70.1h1v1h-1zM109.3 69.8h1v1h-1zM112.2 63.6h1v1h-1zM113.9 79.4h1v1h-1zM67.0 66.2h1v1h-1zM77.9 92.1h1v1h-1zM83.7 45.2h1v1h-1zM109.0 107.5h1v1h-1zM108.4 93.1h1v1h-1zM106.0 60.2h1v1h-1zM116.9 58.0h1v1h-1zM70.8 91.9h1v1h-1zM104.4 46.2h1v1h-1zM84.3 37.2h1v1h-1zM123.1 61.8h1v1h-1zM69.2 89.7h1v1h-1zM83.3 98.9h1v1h-1zM109.1 84.2h1v1h-1zM111.2 61.3h1v1h-1zM71.6 71.6h1v1h-1zM71.4 62.9h1v1h-1zM109.2 65.5h1v1h-1zM106.7 78.0h1v1h-1zM103.6 40.2h1v1h-1zM103.8 91.9h1v1h-1zM98.4 35.3h1v1h-1zM107.2 87.4h1v1h-1zM78.0 41.1h1v1h-1zM108.5 45.8h1v1h-1zM57.0 88.4h1v1h-1zM111.8 53.6h1v1h-1zM68.3 69.8h1v1h-1zM56.3 100.4h1v1h-1zM69.3 67.4h1v1h-1zM90.5 42.5h1v1h-1zM68.7 106.0h1v1h-1zM69.2 71.4h1v1h-1zM93.7 44.1h1v1h-1zM110.6 67.3h1v1h-1zM99.5 101.6h1v1h-1zM123.8 58.4h1v1h-1zM59.9 86.9h1v1h-1zM95.5 35.6h1v1h-1zM113.6 84.6h1v1h-1zM64.6 110.4h1v1h-1zM80.1 96.5h1v1h-1zM69.3 92.7h1v1h-1zM112.8 63.2h1v1h-1zM107.7 63.3h1v1h-1zM105.8 58.6h1v1h-1zM110.3 69.5h1v1h-1zM79.4 99.4h1v1h-1zM121.9 106.5h1v1h-1zM107.5 45.7h1v1h-1zM91.4 95.8h1v1h-1zM53.1 98.3h1v1h-1zM71.9 60.8h1v1h-1zM111.2 92.0h1v1h-1zM68.1 57.4h1v1h-1zM85.4 32.2h1v1h-1zM122.7 75.4h1v1h-1zM108.0 98.7h1v1h-1zM61.8 108.4h1v1h-1zM91.6 37.1h1v1h-1zM109.3 55.4h1v1h-1zM67.3 64.3h1v1h-1zM77.9 44.9h1v1h-1zM121.8 71.0h1v1h-1zM78.2 107.2h1v1h-1zM60.9 110.9h1v1h-1zM104.5 55.9h1v1h-1zM92.0 101.6h1v1h-1zM88.3 46.2h1v1h-1zM61.9 88.2h1v1h-1zM107.9 91.5h1v1h-1zM110.0 51.9h1v1h-1zM70.1 65.0h1v1h-1zM66.2 110.0h1v1h-1zM110.5 59.5h1v1h-1zM118.1 60.5h1v1h-1zM70.5 63.5h1v1h-1zM107.9 56.6h1v1h-1zM91.8 99.1h1v1h-1zM82.1 96.6h1v1h-1zM72.0 43.4h1v1h-1zM77.5 106.2h1v1h-1zM69.9 65.8h1v1h-1zM104.0 80.1h1v1h-1zM127.8 76.2h1v1h-1zM110.1 68.9h1v1h-1zM113.3 84.0h1v1h-1zM108.0 80.8h1v1h-1zM89.0 101.9h1v1h-1zM105.3 54.6h1v1h-1zM99.9 40.6h1v1h-1zM110.9 59.9h1v1h-1zM71.6 56.8h1v1h-1zM86.8 97.4h1v1h-1zM74.1 55.3h1v1h-1zM110.3 79.7h1v1h-1zM114.1 58.2h1v1h-1zM106.7 75.7h1v1h-1zM71.5 80.0h1v1h-1zM113.4 75.3h1v1h-1zM96.2 100.4h1v1h-1zM71.7 93.4h1v1h-1zM59.6 90.8h1v1h-1zM77.5 47.3h1v1h-1zM98.2 43.3h1v1h-1zM54.5 100.8h1v1h-1zM108.3 70.0h1v1h-1zM115.4 67.7h1v1h-1zM76.2 108.5h1v1h-1zM76.1 92.7h1v1h-1zM104.6 80.9h1v1h-1zM124.4 100.6h1v1h-1zM70.5 54.7h1v1h-1zM90.1 102.7h1v1h-1zM110.9 63.8h1v1h-1zM75.2 94.6h1v1h-1zM79.9 52.3h1v1h-1zM57.9 100.9h1v1h-1zM105.5 85.8h1v1h-1zM111.3 48.4h1v1h-1zM72.8 85.8h1v1h-1zM104.7 49.5h1v1h-1zM75.8 102.7h1v1h-1zM123.4 69.6h1v1h-1zM58.4 108.9h1v1h-1zM57.0 97.3h1v1h-1zM65.5 108.2h1v1h-1zM108.0 86.5h1v1h-1zM109.8 88.4h1v1h-1zM59.0 106.7h1v1h-1zM110.9 67.1h1v1h-1zM101.2 41.7h1v1h-1zM112.6 87.8h1v1h-1zM83.6 34.8h1v1h-1zM66.3 76.1h1v1h-1zM75.6 87.8h1v1h-1zM82.5 45.6h1v1h-1zM109.2 60.7h1v1h-1zM117.3 71.0h1v1h-1zM122.1 64.3h1v1h-1zM60.0 104.4h1v1h-1zM110.4 92.8h1v1h-1zM92.4 99.6h1v1h-1zM106.7 104.2h1v1h-1zM90.5 37.1h1v1h-1zM111.5 52.8h1v1h-1zM75.4 51.7h1v1h-1zM122.1 109.6h1v1h-1zM115.9 80.3h1v1h-1zM107.1 104.9h1v1h-1zM105.5 67.9h1v1h-1zM56.3 88.7h1v1h-1zM115.2 91.3h1v1h-1zM66.6 113.3h1v1h-1zM107.4 78.7h1v1h-1zM114.3 90.8h1v1h-1zM108.0 92.7h1v1h-1zM106.7 52.9h1v1h-1zM105.3 63.2h1v1h-1zM111.5 71.1h1v1h-1zM64.6 87.0h1v1h-1zM71.1 104.5h1v1h-1zM97.0 43.9h1v1h-1zM59.2 107.7h1v1h-1zM119.3 65.8h1v1h-1zM106.9 78.5h1v1h-1zM108.4 76.6h1v1h-1zM107.0 72.6h1v1h-1zM96.1 101.9h1v1h-1zM65.2 64.3h1v1h-1zM111.1 69.3h1v1h-1zM54.3 89.1h1v1h-1zM62.8 91.6h1v1h-1zM104.8 54.9h1v1h-1zM61.0 58.8h1v1h-1zM78.7 96.3h1v1h-1zM110.6 109.9h1v1h-1zM110.7 66.6h1v1h-1zM111.9 72.7h1v1h-1zM130.4 66.1h1v1h-1zM119.6 97.7h1v1h-1zM107.0 46.7h1v1h-1zM97.1 95.9h1v1h-1zM79.1 102.6h1v1h-1zM53.5 92.5h1v1h-1zM72.4 78.3h1v1h-1zM107.0 55.3h1v1h-1zM105.5 72.3h1v1h-1zM71.6 60.7h1v1h-1zM77.0 103.2h1v1h-1zM60.7 105.5h1v1h-1zM75.2 39.8h1v1h-1zM131.2 74.4h1v1h-1zM121.0 58.5h1v1h-1zM81.5 97.4h1v1h-1zM113.9 104.6h1v1h-1zM94.7 104.9h1v1h-1zM111.2 63.0h1v1h-1zM129.7 55.3h1v1h-1zM116.1 46.5h1v1h-1zM93.9 38.9h1v1h-1zM112.0 90.2h1v1h-1zM71.0 70.3h1v1h-1zM111.4 55.5h1v1h-1zM86.8 37.6h1v1h-1zM79.5 93.6h1v1h-1zM59.1 90.2h1v1h-1zM104.2 79.7h1v1h-1zM119.8 64.3h1v1h-1zM84.9 100.1h1v1h-1zM76.9 92.7h1v1h-1zM113.0 78.0h1v1h-1zM67.5 90.3h1v1h-1zM109.8 47.7h1v1h-1zM104.5 92.6h1v1h-1zM109.7 58.5h1v1h-1zM110.6 84.3h1v1h-1zM62.4 110.3h1v1h-1zM63.1 89.7h1v1h-1zM111.3 60.1h1v1h-1zM95.8 37.6h1v1h-1zM97.6 52.0h1v1h-1zM82.9 92.8h1v1h-1zM65.3 60.0h1v1h-1zM65.6 84.2h1v1h-1zM109.7 58.5h1v1h-1zM100.9 39.1h1v1h-1zM56.8 85.1h1v1h-1zM84.5 42.5h1v1h-1zM110.0 69.1h1v1h-1zM78.0 102.5h1v1h-1z" fill="#444" opacity="0.5"/>
<path d="M71.1 59.3h1v1h-1zM62.7 90.3h1v1h-1zM81.4 94.3h1v1h-1zM116.8 65.4h1v1h-1zM115.5 76.9h1v1h-1zM92.9 103.0h1v1h-1zM112.6 86.9h1v1h-1zM109.7 84.8h1v1h-1zM111.7 72.3h1v1h-1zM118.3 71.7h1v1h-1zM137.4 91.2h1v1h-1zM118.2 60.0h1v1h-1zM101.0 99.4h1v1h-1zM111.5 69.6h1v1h-1zM69.1 86.1h1v1h-1zM85.3 41.0h1v1h-1zM112.0 91.0h1v1h-1zM107.7 76.7h1v1h-1zM108.8 72.3h1v1h-1zM105.4 71.9h1v1h-1zM71.1 58.4h1v1h-1zM112.1 91.6h1v1h-1zM111.6 81.9h1v1h-1zM114.9 90.0h1v1h-1zM106.6 95.2h1v1h-1zM111.3 59.2h1v1h-1zM80.3 94.8h1v1h-1zM67.3 57.4h1v1h-1zM110.8 92.9h1v1h-1zM105.1 84.5h1v1h-1zM75.1 108.9h1v1h-1zM104.1 69.9h1v1h-1zM109.8 80.1h1v1h-1zM126.5 45.6h1v1h-1zM117.7 73.5h1v1h-1zM103.7 82.0h1v1h-1zM118.8 58.8h1v1h-1zM126.3 111.5h1v1h-1zM108.9 70.3h1v1h-1zM111.8 92.3h1v1h-1zM100.8 91.8h1v1h-1zM120.5 68.0h1v1h-1zM111.6 88.7h1v1h-1zM85.0 45.2h1v1h-1zM104.5 85.2h1v1h-1zM72.1 59.9h1v1h-1zM71.1 97.4h1v1h-1zM113.3 85.4h1v1h-1zM108.3 75.0h1v1h-1zM72.7 90.4h1v1h-1zM53.5 94.7h1v1h-1zM107.0 85.0h1v1h-1zM75.0 52.0h1v1h-1zM108.2 67.1h1v1h-1zM108.2 47.8h1v1h-1zM106.5 56.2h1v1h-1zM88.7 104.4h1v1h-1zM71.0 105.7h1v1h-1zM109.2 64.0h1v1h-1zM101.2 83.8h1v1h-1zM71.9 87.3h1v1h-1zM59.0 107.7h1v1h-1zM74.6 95.4h1v1h-1zM106.4 73.7h1v1h-1zM69.0 82.4h1v1h-1zM109.8 96.1h1v1h-1zM90.9 96.0h1v1h-1zM112.6 74.9h1v1h-1zM108.0 50.3h1v1h-1zM68.0 75.2h1v1h-1zM109.9 60.4h1v1h-1zM111.8 62.8h1v1h-1zM114.5 57.2h1v1h-1zM109.2 87.8h1v1h-1zM105.5 111.7h1v1h-1zM105.8 102.7h1v1h-1zM83.4 94.4h1v1h-1zM76.2 95.7h1v1h-1zM124.1 80.3h1v1h-1zM123.1 76.4h1v1h-1zM79.0 111.5h1v1h-1zM111.0 60.5h1v1h-1zM107.5 88.3h1v1h-1zM113.7 73.5h1v1h-1zM104.0 51.8h1v1h-1zM79.0 89.0h1v1h-1zM57.1 96.2h1v1h-1zM110.1 84.8h1v1h-1zM68.7 51.8h1v1h-1zM112.6 89.5h1v1h-1zM67.2 78.7h1v1h-1zM73.6 85.3h1v1h-1zM112.7 86.2h1v1h-1zM108.1 115.1h1v1h-1zM71.3 82.4h1v1h-1zM75.0 88.9h1v1h-1zM93.5 103.9h1v1h-1zM97.6 98.6h1v1h-1zM53.2 110.1h1v1h-1zM111.6 74.4h1v1h-1zM81.9 98.8h1v1h-1zM100.1 100.3h1v1h-1zM66.8 63.8h1v1h-1zM125.4 79.2h1v1h-1zM114.2 52.1h1v1h-1zM53.6 103.8h1v1h-1zM60.6 102.1h1v1h-1zM115.6 77.6h1v1h-1zM106.6 54.5h1v1h-1zM96.8 102.2h1v1h-1zM101.2 44.3h1v1h-1zM137.2 51.9h1v1h-1zM63.1 95.6h1v1h-1zM121.4 35.1h1v1h-1zM102.1 45.8h1v1h-1zM87.8 104.3h1v1h-1zM65.7 73.8h1v1h-1zM116.9 83.9h1v1h-1zM110.7 75.2h1v1h-1zM53.9 104.1h1v1h-1zM64.1 85.8h1v1h-1zM77.2 99.0h1v1h-1zM108.3 58.4h1v1h-1zM83.7 95.5h1v1h-1zM92.8 106.2h1v1h-1zM111.4 54.1h1v1h-1zM75.8 93.0h1v1h-1zM91.6 42.1h1v1h-1zM115.3 74.8h1v1h-1zM81.1 95.6h1v1h-1zM72.1 54.4h1v1h-1zM99.0 94.2h1v1h-1zM113.0 94.5h1v1h-1zM82.9 97.3h1v1h-1zM103.3 54.7h1v1h-1zM78.7 88.5h1v1h-1zM107.1 109.6h1v1h-1zM105.6 65.9h1v1h-1zM99.2 39.0h1v1h-1zM114.4 70.6h1v1h-1zM99.1 47.4h1v1h-1zM110.1 56.8h1v1h-1zM107.0 65.3h1v1h-1zM104.4 55.0h1v1h-1zM107.0 75.8h1v1h-1zM104.5 91.5h1v1h-1zM93.5 104.4h1v1h-1zM83.6 98.4h1v1h-1zM120.4 76.3h1v1h-1zM69.9 74.7h1v1h-1zM73.5 82.4h1v1h-1zM66.7 103.8h1v1h-1zM108.2 95.0h1v1h-1zM122.5 63.6h1v1h-1zM107.8 103.1h1v1h-1zM107.1 64.8h1v1h-1zM101.5 43.4h1v1h-1zM88.7 98.6h1v1h-1zM68.4 81.8h1v1h-1zM108.4 28.7h1v1h-1zM113.6 60.7h1v1h-1zM68.4 58.2h1v1h-1zM104.3 104.7h1v1h-1zM133.9 92.7h1v1h-1zM77.5 91.7h1v1h-1zM94.8 33.6h1v1h-1zM105.4 35.2h1v1h-1zM66.5 52.5h1v1h-1zM111.2 83.5h1v1h-1zM107.0 78.5h1v1h-1zM66.7 76.2h1v1h-1zM103.8 64.7h1v1h-1zM76.3 98.2h1v1h-1zM65.1 70.6h1v1h-1zM63.8 72.8h1v1h-1zM77.2 104.2h1v1h-1zM116.6 79.1h1v1h-1zM86.6 39.6h1v1h-1zM121.1 38.6h1v1h-1zM114.1 59.4h1v1h-1zM104.3 92.7h1v1h-1zM111.7 55.4h1v1h-1zM57.9 109.3h1v1h-1zM81.2 42.1h1v1h-1zM108.6 67.2h1v1h-1zM58.4 89.3h1v1h-1zM104.6 96.1h1v1h-1zM118.0 96.4h1v1h-1zM79.1 93.5h1v1h-1zM118.9 95.8h1v1h-1zM67.3 67.5h1v1h-1zM78.5 38.5h1v1h-1zM70.4 85.9h1v1h-1zM80.4 93.0h1v1h-1zM120.8 68.7h1v1h-1zM68.4 77.0h1v1h-1zM120.0 85.0h1v1h-1zM70.0 62.2h1v1h-1zM83.9 36.5h1v1h-1zM76.7 53.8h1v1h-1zM121.8 83.2h1v1h-1zM75.5 47.6h1v1h-1zM75.9 50.9h1v1h-1zM106.1 81.5h1v1h-1zM117.2 67.9h1v1h-1zM104.1 90.4h1v1h-1zM107.5 95.9h1v1h-1zM111.5 79.8h1v1h-1zM109.9 69.6h1v1h-1zM87.2 105.7h1v1h-1zM117.1 64.8h1v1h-1zM107.6 90.5h1v1h-1zM65.0 60.9h1v1h-1zM111.9 83.3h1v1h-1zM85.5 44.0h1v1h-1zM107.7 74.7h1v1h-1zM104.5 95.7h1v1h-1zM75.1 88.4h1v1h-1zM78.1 99.9h1v1h-1zM88.5 99.4h1v1h-1zM81.2 96.8h1v1h-1zM117.5 76.6h1v1h-1zM109.7 97.6h1v1h-1zM111.0 65.0h1v1h-1zM71.9 41.7h1v1h-1zM69.2 81.8h1v1h-1zM96.8 98.0h1v1h-1zM130.9 84.8h1v1h-1zM110.4 75.9h1v1h-1zM102.6 94.4h1v1h-1zM79.8 45.9h1v1h-1zM105.8 97.8h1v1h-1zM70.4 83.5h1v1h-1zM117.0 79.9h1v1h-1zM113.3 57.1h1v1h-1zM112.5 60.0h1v1h-1zM104.3 67.1h1v1h-1zM74.2 87.4h1v1h-1zM132.0 93.7h1v1h-1zM70.1 85.7h1v1h-1zM82.2 95.8h1v1h-1zM121.7 67.6h1v1h-1zM108.1 54.8h1v1h-1zM58.9 106.8h1v1h-1zM76.0 91.4h1v1h-1zM124.5 51.4h1v1h-1zM73.5 111.6h1v1h-1zM69.3 73.4h1v1h-1zM111.8 47.1h1v1h-1zM97.2 93.6h1v1h-1zM114.5 60.7h1v1h-1zM111.2 76.9h1v1h-1zM113.2 68.0h1v1h-1zM122.9 78.6h1v1h-1zM58.8 95.5h1v1h-1zM88.5 105.5h1v1h-1zM123.0 53.5h1v1h-1zM97.1 39.2h1v1h-1zM56.1 96.4h1v1h-1zM112.4 61.5h1v1h-1zM117.1 84.0h1v1h-1zM109.2 47.3h1v1h-1zM63.5 107.8h1v1h-1zM104.7 85.6h1v1h-1zM106.2 86.3h1v1h-1zM79.1 42.9h1v1h-1zM67.4 75.0h1v1h-1zM117.6 56.2h1v1h-1zM53.4 98.0h1v1h-1zM71.1 71.7h1v1h-1zM109.4 111.5h1v1h-1zM116.0 66.1h1v1h-1zM106.8 87.2h1v1h-1zM102.8 45.6h1v1h-1zM70.5 67.4h1v1h-1zM124.6 100.7h1v1h-1zM109.3 67.9h1v1h-1zM112.2 76.6h1v1h-1zM73.4 100.4h1v1h-1zM81.8 89.4h1v1h-1zM118.6 65.7h1v1h-1zM75.8 46.2h1v1h-1zM58.4 111.5h1v1h-1zM82.0 100.1h1v1h-1zM109.0 56.7h1v1h-1zM115.4 62.0h1v1h-1zM89.9 45.8h1v1h-1zM119.3 70.0h1v1h-1zM104.6 85.8h1v1h-1zM94.4 37.2h1v1h-1zM110.4 71.6h1v1h-1zM115.6 49.7h1v1h-1zM110.9 54.1h1v1h-1zM75.5 67.0h1v1h-1zM111.7 76.6h1v1h-1zM105.8 102.5h1v1h-1zM93.0 102.5h1v1h-1zM103.1 90.9h1v1h-1zM77.9 110.6h1v1h-1zM123.6 72.4h1v1h-1zM75.8 95.2h1v1h-1zM121.3 108.3h1v1h-1zM112.0 47.3h1v1h-1zM100.5 58.2h1v1h-1zM74.1 93.4h1v1h-1zM72.8 109.1h1v1h-1zM54.5 97.4h1v1h-1zM137.3 99.5h1v1h-1zM110.1 65.7h1v1h-1zM89.0 43.2h1v1h-1zM68.3 53.0h1v1h-1zM72.1 87.6h1v1h-1zM107.1 102.6h1v1h-1zM67.1 73.0h1v1h-1zM125.3 75.2h1v1h-1zM72.7 61.3h1v1h-1zM106.9 87.3h1v1h-1zM105.0 47.1h1v1h-1zM78.6 102.8h1v1h-1zM110.8 84.5h1v1h-1zM108.4 74.1h1v1h-1zM109.8 84.7h1v1h-1zM131.1 70.3h1v1h-1z" fill="#888" opacity="0.45"/>
<path d="M95.5 44.3h1v1h-1zM117.0 109.8h1v1h-1zM108.3 54.3h1v1h-1zM108.8 69.1h1v1h-1zM76.6 101.1h1v1h-1zM111.6 63.8h1v1h-1zM118.3 74.7h1v1h-1zM99.3 47.3h1v1h-1zM114.3 100.9h1v1h-1zM116.8 83.1h1v1h-1zM71.6 87.9h1v1h-1zM84.4 37.3h1v1h-1zM59.7 112.6h1v1h-1zM107.0 51.1h1v1h-1zM101.8 100.3h1v1h-1zM96.9 101.9h1v1h-1zM104.0 68.0h1v1h-1zM77.9 92.8h1v1h-1zM115.4 59.7h1v1h-1zM112.4 99.8h1v1h-1zM84.8 45.6h1v1h-1zM94.2 105.0h1v1h-1zM111.5 77.3h1v1h-1zM71.5 61.0h1v1h-1zM123.5 108.7h1v1h-1zM78.3 103.5h1v1h-1zM57.1 87.0h1v1h-1zM97.3 42.3h1v1h-1zM104.1 55.8h1v1h-1zM66.6 85.8h1v1h-1zM107.4 79.8h1v1h-1zM119.5 66.7h1v1h-1zM112.2 79.2h1v1h-1zM79.3 92.6h1v1h-1zM115.1 52.3h1v1h-1zM105.0 80.0h1v1h-1zM107.3 79.5h1v1h-1zM115.5 113.5h1v1h-1zM65.7 85.9h1v1h-1zM129.2 106.4h1v1h-1zM104.3 89.8h1v1h-1zM105.8 72.0h1v1h-1zM66.6 89.1h1v1h-1zM102.0 90.0h1v1h-1zM115.5 83.9h1v1h-1zM113.9 48.4h1v1h-1zM85.6 38.9h1v1h-1zM102.5 97.0h1v1h-1zM68.0 63.7h1v1h-1zM110.6 77.6h1v1h-1zM98.6 45.4h1v1h-1zM76.8 96.6h1v1h-1zM75.1 45.4h1v1h-1zM116.8 108.4h1v1h-1zM89.6 45.3h1v1h-1zM113.8 69.7h1v1h-1zM113.7 83.4h1v1h-1zM90.3 99.3h1v1h-1zM64.2 75.4h1v1h-1zM68.6 90.3h1v1h-1zM56.5 93.2h1v1h-1zM65.2 115.7h1v1h-1zM92.3 38.2h1v1h-1zM84.7 40.4h1v1h-1zM106.1 54.4h1v1h-1zM69.9 72.5h1v1h-1zM106.0 90.4h1v1h-1zM68.4 115.6h1v1h-1zM70.5 110.1h1v1h-1zM109.7 64.8h1v1h-1zM79.7 97.2h1v1h-1zM112.1 86.5h1v1h-1zM109.5 56.4h1v1h-1zM110.3 62.1h1v1h-1zM65.6 69.4h1v1h-1zM110.2 107.4h1v1h-1zM71.2 62.2h1v1h-1zM97.1 97.5h1v1h-1zM117.2 77.2h1v1h-1zM89.3 41.1h1v1h-1zM112.9 68.0h1v1h-1zM85.2 41.3h1v1h-1zM87.4 36.1h1v1h-1zM115.9 95.3h1v1h-1zM110.6 54.1h1v1h-1zM126.0 105.1h1v1h-1zM70.5 67.3h1v1h-1zM111.4 78.3h1v1h-1zM103.4 43.5h1v1h-1zM94.8 38.5h1v1h-1zM123.4 107.3h1v1h-1zM116.8 79.9h1v1h-1zM82.2 101.2h1v1h-1zM106.9 87.1h1v1h-1zM126.0 103.4h1v1h-1zM83.5 40.2h1v1h-1zM117.6 93.3h1v1h-1zM75.9 106.1h1v1h-1zM55.3 108.6h1v1h-1zM105.4 80.9h1v1h-1zM117.3 69.7h1v1h-1zM108.6 92.1h1v1h-1zM109.2 93.4h1v1h-1zM105.6 84.1h1v1h-1zM110.3 81.7h1v1h-1zM108.2 49.7h1v1h-1zM113.0 79.9h1v1h-1zM63.0 111.7h1v1h-1zM111.7 49.3h1v1h-1zM110.7 89.7h1v1h-1zM72.1 61.5h1v1h-1zM60.2 107.5h1v1h-1zM97.8 100.5h1v1h-1zM107.0 52.1h1v1h-1zM106.5 42.0h1v1h-1zM78.1 94.2h1v1h-1zM101.6 102.5h1v1h-1zM65.7 51.6h1v1h-1zM124.0 85.6h1v1h-1zM104.2 88.1h1v1h-1zM97.4 94.5h1v1h-1zM116.8 81.4h1v1h-1zM93.1 39.1h1v1h-1zM109.1 73.0h1v1h-1zM97.5 102.7h1v1h-1zM109.4 80.7h1v1h-1zM102.2 98.8h1v1h-1zM120.2 76.7h1v1h-1zM86.3 42.9h1v1h-1zM107.2 43.1h1v1h-1zM69.9 68.8h1v1h-1zM105.5 69.3h1v1h-1zM119.2 98.5h1v1h-1zM56.6 86.9h1v1h-1zM66.5 57.4h1v1h-1zM116.3 89.5h1v1h-1zM98.9 48.8h1v1h-1zM114.5 54.2h1v1h-1zM73.1 82.6h1v1h-1zM111.4 65.5h1v1h-1zM104.7 87.8h1v1h-1zM104.1 81.7h1v1h-1zM98.7 45.1h1v1h-1zM110.3 90.5h1v1h-1zM110.6 82.6h1v1h-1zM109.3 92.2h1v1h-1zM134.9 80.4h1v1h-1zM57.3 109.4h1v1h-1zM101.7 34.4h1v1h-1zM67.1 77.1h1v1h-1zM111.8 71.1h1v1h-1zM104.0 56.6h1v1h-1zM106.4 74.3h1v1h-1zM109.7 65.2h1v1h-1zM127.4 73.3h1v1h-1zM112.8 75.1h1v1h-1zM67.0 84.5h1v1h-1zM69.1 98.2h1v1h-1zM76.4 46.3h1v1h-1zM109.0 94.0h1v1h-1zM112.8 75.4h1v1h-1zM91.0 98.2h1v1h-1zM78.9 97.5h1v1h-1zM103.3 51.7h1v1h-1zM112.5 107.2h1v1h-1zM72.3 103.2h1v1h-1zM70.6 80.4h1v1h-1zM114.9 97.5h1v1h-1zM114.9 77.3h1v1h-1zM76.8 51.4h1v1h-1zM75.8 97.9h1v1h-1zM115.9 59.1h1v1h-1zM109.0 67.2h1v1h-1zM71.5 63.9h1v1h-1zM112.1 75.2h1v1h-1zM101.8 96.1h1v1h-1zM113.9 104.7h1v1h-1zM106.5 112.0h1v1h-1zM71.7 68.2h1v1h-1zM74.5 81.4h1v1h-1zM116.8 50.8h1v1h-1zM61.7 113.3h1v1h-1zM130.1 58.9h1v1h-1z" fill="#a44" opacity="0.4"/>
<path d="M76.6 61.2h1v1h-1zM82.6 98.6h1v1h-1zM66.4 62.1h1v1h-1zM104.2 97.6h1v1h-1zM103.9 61.9h1v1h-1zM126.5 101.0h1v1h-1zM63.0 111.6h1v1h-1zM70.1 83.6h1v1h-1zM101.8 90.8h1v1h-1zM72.9 112.1h1v1h-1zM71.3 54.5h1v1h-1zM57.3 104.4h1v1h-1zM84.5 98.8h1v1h-1zM112.7 53.6h1v1h-1zM110.1 80.8h1v1h-1zM76.0 55.5h1v1h-1zM110.0 45.2h1v1h-1zM101.0 95.3h1v1h-1zM62.6 112.3h1v1h-1zM109.4 75.1h1v1h-1zM69.0 78.4h1v1h-1zM107.6 92.0h1v1h-1zM70.9 70.3h1v1h-1zM67.1 64.5h1v1h-1zM111.2 63.2h1v1h-1zM124.4 62.0h1v1h-1zM110.0 50.2h1v1h-1zM71.2 89.4h1v1h-1zM76.6 48.8h1v1h-1zM112.4 67.9h1v1h-1zM105.0 91.2h1v1h-1zM119.3 66.7h1v1h-1zM109.0 92.6h1v1h-1zM92.1 36.0h1v1h-1zM113.8 95.7h1v1h-1zM70.8 64.7h1v1h-1zM78.8 105.6h1v1h-1zM106.3 86.3h1v1h-1zM89.6 46.3h1v1h-1zM75.3 105.0h1v1h-1zM104.8 90.0h1v1h-1zM111.9 39.6h1v1h-1zM108.3 68.6h1v1h-1zM105.1 98.2h1v1h-1zM69.5 53.3h1v1h-1zM103.0 62.2h1v1h-1zM77.2 47.7h1v1h-1zM91.1 97.2h1v1h-1zM88.9 100.8h1v1h-1zM73.4 93.3h1v1h-1zM107.5 111.0h1v1h-1zM112.6 89.9h1v1h-1zM107.3 75.4h1v1h-1zM75.2 47.3h1v1h-1zM119.3 85.5h1v1h-1zM87.8 98.8h1v1h-1zM109.1 43.9h1v1h-1zM112.6 52.5h1v1h-1zM113.3 90.8h1v1h-1zM105.2 60.9h1v1h-1zM109.4 72.3h1v1h-1zM109.9 81.4h1v1h-1zM105.9 86.2h1v1h-1zM117.4 34.6h1v1h-1zM83.0 97.6h1v1h-1zM67.9 113.8h1v1h-1zM81.6 34.4h1v1h-1zM78.2 89.8h1v1h-1zM87.3 42.9h1v1h-1zM80.8 97.0h1v1h-1zM98.2 104.5h1v1h-1zM71.8 62.9h1v1h-1zM109.9 81.6h1v1h-1zM106.7 92.2h1v1h-1zM105.9 67.8h1v1h-1zM109.8 91.4h1v1h-1zM86.5 99.5h1v1h-1zM104.5 86.4h1v1h-1zM105.9 88.4h1v1h-1zM66.5 82.6h1v1h-1zM71.8 54.3h1v1h-1zM110.0 69.9h1v1h-1zM111.3 81.5h1v1h-1zM112.8 59.6h1v1h-1zM104.0 93.8h1v1h-1zM108.8 69.6h1v1h-1zM71.3 48.7h1v1h-1zM57.3 95.3h1v1h-1zM123.8 68.9h1v1h-1zM79.7 100.5h1v1h-1zM99.9 41.0h1v1h-1zM81.1 91.0h1v1h-1zM110.2 75.9h1v1h-1zM112.4 64.1h1v1h-1zM115.1 67.9h1v1h-1zM78.2 93.6h1v1h-1zM123.6 62.7h1v1h-1zM106.9 62.4h1v1h-1zM94.7 101.1h1v1h-1zM75.2 86.2h1v1h-1zM114.2 64.6h1v1h-1zM65.4 112.2h1v1h-1zM108.3 38.7h1v1h-1zM65.7 84.4h1v1h-1zM120.3 98.1h1v1h-1zM80.2 96.4h1v1h-1zM110.6 91.1h1v1h-1zM108.8 56.3h1v1h-1zM81.7 93.8h1v1h-1zM111.0 86.1h1v1h-1zM124.4 86.8h1v1h-1zM55.2 97.0h1v1h-1zM68.3 82.8h1v1h-1zM59.2 105.0h1v1h-1zM104.3 51.4h1v1h-1zM56.8 104.8h1v1h-1zM73.6 103.5h1v1h-1zM76.7 107.0h1v1h-1zM124.4 75.5h1v1h-1zM109.6 62.0h1v1h-1zM133.9 72.6h1v1h-1zM105.4 82.6h1v1h-1zM111.1 87.5h1v1h-1zM78.2 94.1h1v1h-1zM106.7 87.6h1v1h-1zM105.5 93.4h1v1h-1zM57.9 96.9h1v1h-1zM81.4 47.2h1v1h-1zM106.0 53.4h1v1h-1zM107.6 80.9h1v1h-1zM133.7 75.4h1v1h-1zM100.3 94.3h1v1h-1zM117.4 75.1h1v1h-1zM122.1 56.0h1v1h-1zM75.6 97.7h1v1h-1zM68.9 61.2h1v1h-1zM82.5 100.2h1v1h-1zM58.0 108.3h1v1h-1zM125.4 106.2h1v1h-1zM70.0 80.9h1v1h-1zM66.1 60.8h1v1h-1zM112.8 79.9h1v1h-1zM109.3 85.7h1v1h-1zM121.4 81.3h1v1h-1zM122.6 105.1h1v1h-1zM110.5 100.6h1v1h-1zM81.9 107.6h1v1h-1zM71.3 89.0h1v1h-1zM110.4 55.1h1v1h-1zM111.1 77.1h1v1h-1zM123.9 81.5h1v1h-1zM112.8 83.3h1v1h-1zM85.0 97.0h1v1h-1zM98.4 41.4h1v1h-1zM86.8 39.5h1v1h-1zM62.9 109.5h1v1h-1zM122.2 106.5h1v1h-1zM118.5 83.2h1v1h-1zM104.8 104.7h1v1h-1zM112.9 66.3h1v1h-1zM110.5 79.3h1v1h-1zM118.9 84.6h1v1h-1zM106.5 69.4h1v1h-1zM106.6 67.7h1v1h-1z" fill="#48a" opacity="0.4"/>
<ellipse cx="92.0" cy="71.7" rx="25.6" ry="35.0" fill="url(#hg1)" transform="rotate(4 90.2 70.2)"/>
<ellipse cx="90.7" cy="70.7" rx="22.0" ry="30.4" fill="none" stroke="#000" stroke-width="3.5" opacity="0.75" filter="url(#bl05)" transform="rotate(4 90.2 70.2)"/>
<path d="M102.8 43.9h1v1h-1zM70.0 79.1h1v1h-1zM114.5 81.2h1v1h-1zM91.6 38.5h1v1h-1zM97.0 97.9h1v1h-1zM81.3 97.5h1v1h-1zM69.9 66.4h1v1h-1zM104.1 43.6h1v1h-1zM111.5 69.9h1v1h-1zM104.0 92.0h1v1h-1zM78.5 40.6h1v1h-1zM114.1 81.5h1v1h-1zM112.4 81.1h1v1h-1zM70.9 60.4h1v1h-1zM71.7 52.6h1v1h-1zM75.0 92.8h1v1h-1zM88.6 40.5h1v1h-1zM100.8 100.7h1v1h-1zM68.7 77.5h1v1h-1zM77.7 94.4h1v1h-1zM74.4 50.6h1v1h-1zM82.8 43.3h1v1h-1zM64.5 78.6h1v1h-1zM107.9 87.1h1v1h-1zM71.8 52.3h1v1h-1zM84.6 37.3h1v1h-1zM69.9 86.3h1v1h-1zM82.6 38.5h1v1h-1zM71.2 58.9h1v1h-1zM91.2 106.8h1v1h-1zM82.3 42.6h1v1h-1zM108.9 52.4h1v1h-1zM80.7 100.5h1v1h-1zM111.4 65.1h1v1h-1zM105.9 50.7h1v1h-1zM67.6 78.5h1v1h-1zM71.8 54.6h1v1h-1zM109.1 51.3h1v1h-1zM94.8 100.1h1v1h-1zM100.0 95.7h1v1h-1zM84.0 101.9h1v1h-1zM74.5 49.6h1v1h-1zM73.1 88.5h1v1h-1zM80.3 40.4h1v1h-1zM108.0 85.1h1v1h-1zM101.5 95.0h1v1h-1zM103.8 44.6h1v1h-1zM73.2 92.5h1v1h-1zM78.7 41.1h1v1h-1zM114.3 62.9h1v1h-1zM117.6 62.4h1v1h-1zM92.3 35.8h1v1h-1zM86.3 100.4h1v1h-1zM103.6 43.6h1v1h-1zM109.8 89.2h1v1h-1zM70.7 52.6h1v1h-1zM71.2 87.4h1v1h-1zM85.4 39.9h1v1h-1zM69.7 80.9h1v1h-1zM113.1 88.5h1v1h-1zM112.4 73.8h1v1h-1zM98.5 43.0h1v1h-1zM73.3 86.5h1v1h-1zM71.4 82.9h1v1h-1zM73.3 53.0h1v1h-1zM85.4 98.4h1v1h-1zM105.2 50.6h1v1h-1zM71.4 88.0h1v1h-1zM72.0 85.0h1v1h-1zM76.1 94.9h1v1h-1zM69.5 69.5h1v1h-1zM89.9 38.0h1v1h-1zM67.0 69.3h1v1h-1zM70.8 57.5h1v1h-1zM92.9 101.9h1v1h-1zM75.0 93.9h1v1h-1zM98.9 97.2h1v1h-1zM107.9 53.7h1v1h-1zM110.2 88.5h1v1h-1zM71.9 86.4h1v1h-1zM74.4 48.2h1v1h-1zM110.9 81.5h1v1h-1zM97.5 100.6h1v1h-1zM90.8 38.4h1v1h-1zM72.8 90.0h1v1h-1zM67.6 56.5h1v1h-1zM109.0 54.5h1v1h-1zM81.9 41.0h1v1h-1zM111.8 51.2h1v1h-1zM106.9 89.2h1v1h-1zM75.7 46.2h1v1h-1zM83.0 101.9h1v1h-1zM98.3 97.3h1v1h-1zM84.2 37.3h1v1h-1zM108.5 54.7h1v1h-1zM97.8 42.8h1v1h-1zM89.4 99.7h1v1h-1zM67.6 81.3h1v1h-1zM111.0 75.9h1v1h-1zM65.4 78.7h1v1h-1zM106.2 49.8h1v1h-1zM114.2 66.7h1v1h-1zM113.8 70.7h1v1h-1zM111.6 80.5h1v1h-1zM106.0 47.5h1v1h-1zM87.1 102.1h1v1h-1zM73.3 91.4h1v1h-1zM100.2 96.0h1v1h-1zM79.6 44.4h1v1h-1zM111.2 65.2h1v1h-1zM106.6 88.3h1v1h-1zM75.1 93.8h1v1h-1zM68.6 72.0h1v1h-1zM71.2 56.9h1v1h-1zM75.6 49.8h1v1h-1zM68.2 81.0h1v1h-1zM106.1 51.0h1v1h-1zM112.0 83.8h1v1h-1zM76.5 93.7h1v1h-1zM72.0 90.4h1v1h-1zM74.2 44.7h1v1h-1zM81.7 42.7h1v1h-1zM109.8 92.5h1v1h-1zM88.4 102.0h1v1h-1zM67.9 64.4h1v1h-1zM71.8 90.5h1v1h-1zM76.4 97.7h1v1h-1zM112.8 69.9h1v1h-1zM78.3 97.6h1v1h-1zM104.3 48.4h1v1h-1zM75.9 92.2h1v1h-1zM68.8 62.2h1v1h-1zM87.4 101.4h1v1h-1zM111.2 61.3h1v1h-1zM69.6 57.6h1v1h-1zM111.8 56.7h1v1h-1zM82.5 41.5h1v1h-1zM72.5 48.2h1v1h-1zM104.6 94.1h1v1h-1zM75.7 43.9h1v1h-1zM83.3 97.7h1v1h-1zM79.8 99.8h1v1h-1zM111.2 68.7h1v1h-1zM103.7 41.8h1v1h-1zM81.4 37.4h1v1h-1zM111.5 51.2h1v1h-1zM78.9 41.8h1v1h-1zM111.2 78.8h1v1h-1zM107.4 50.4h1v1h-1zM66.6 77.1h1v1h-1zM98.0 40.0h1v1h-1zM90.1 99.4h1v1h-1zM72.2 50.5h1v1h-1zM109.3 50.8h1v1h-1zM72.6 85.7h1v1h-1zM100.8 45.2h1v1h-1zM69.5 76.0h1v1h-1zM106.7 87.8h1v1h-1zM111.4 70.3h1v1h-1zM81.0 96.7h1v1h-1zM68.1 75.4h1v1h-1zM77.2 46.6h1v1h-1zM76.2 47.0h1v1h-1zM84.4 97.9h1v1h-1zM106.9 87.9h1v1h-1zM112.3 76.1h1v1h-1zM97.7 42.5h1v1h-1zM100.2 38.9h1v1h-1zM97.2 38.6h1v1h-1zM102.7 46.5h1v1h-1zM74.6 47.0h1v1h-1zM100.1 42.5h1v1h-1zM68.1 63.7h1v1h-1zM67.2 75.9h1v1h-1zM99.1 99.4h1v1h-1zM75.5 42.1h1v1h-1zM115.1 72.4h1v1h-1zM106.1 93.6h1v1h-1zM68.2 69.2h1v1h-1zM78.6 98.6h1v1h-1zM111.0 73.3h1v1h-1zM72.3 52.0h1v1h-1zM69.8 65.8h1v1h-1zM111.8 65.2h1v1h-1zM89.9 40.0h1v1h-1zM86.1 40.5h1v1h-1zM74.4 91.2h1v1h-1zM69.1 88.4h1v1h-1zM112.6 59.8h1v1h-1zM85.5 40.8h1v1h-1zM103.4 95.5h1v1h-1zM107.0 50.4h1v1h-1zM104.6 95.4h1v1h-1zM91.6 101.9h1v1h-1zM69.8 81.4h1v1h-1zM88.2 36.6h1v1h-1zM82.0 43.1h1v1h-1zM71.9 55.5h1v1h-1zM108.7 84.7h1v1h-1zM112.4 56.7h1v1h-1zM100.1 40.9h1v1h-1zM64.9 68.6h1v1h-1zM83.9 102.5h1v1h-1zM79.0 43.7h1v1h-1zM74.1 46.3h1v1h-1zM108.3 56.1h1v1h-1zM72.1 93.9h1v1h-1zM92.1 35.4h1v1h-1zM109.1 50.7h1v1h-1zM101.8 94.3h1v1h-1zM66.7 71.7h1v1h-1zM94.8 42.0h1v1h-1zM90.2 101.2h1v1h-1zM85.8 98.8h1v1h-1zM100.3 44.5h1v1h-1zM86.4 103.7h1v1h-1zM71.0 87.0h1v1h-1zM99.5 44.0h1v1h-1zM110.8 59.1h1v1h-1zM111.2 75.0h1v1h-1zM71.0 80.9h1v1h-1zM113.9 62.2h1v1h-1zM111.6 67.9h1v1h-1zM71.7 88.2h1v1h-1zM112.8 83.3h1v1h-1zM80.6 99.6h1v1h-1zM100.9 102.7h1v1h-1zM76.8 46.1h1v1h-1zM107.5 89.9h1v1h-1zM98.3 42.7h1v1h-1zM67.1 87.4h1v1h-1zM83.6 99.9h1v1h-1zM68.3 80.2h1v1h-1zM70.1 63.0h1v1h-1zM76.7 45.2h1v1h-1zM68.8 85.7h1v1h-1zM102.5 40.8h1v1h-1zM70.3 56.6h1v1h-1zM83.1 41.7h1v1h-1zM76.1 92.8h1v1h-1zM78.4 100.7h1v1h-1zM69.6 65.7h1v1h-1zM69.6 73.8h1v1h-1zM105.4 91.5h1v1h-1zM84.7 35.9h1v1h-1zM68.2 68.7h1v1h-1zM112.2 63.8h1v1h-1zM77.5 96.3h1v1h-1zM71.1 82.0h1v1h-1zM85.7 38.4h1v1h-1zM110.6 68.6h1v1h-1zM89.0 37.6h1v1h-1zM66.9 71.4h1v1h-1zM110.4 58.2h1v1h-1zM114.2 67.6h1v1h-1zM107.8 88.6h1v1h-1zM69.5 57.8h1v1h-1zM93.5 40.7h1v1h-1zM89.6 99.6h1v1h-1zM71.3 52.5h1v1h-1zM94.4 35.8h1v1h-1zM68.8 65.8h1v1h-1zM91.0 100.4h1v1h-1zM88.8 37.6h1v1h-1zM100.0 98.0h1v1h-1zM76.0 47.9h1v1h-1zM73.1 86.9h1v1h-1zM73.0 95.3h1v1h-1zM70.7 53.4h1v1h-1zM75.8 44.4h1v1h-1zM92.0 99.8h1v1h-1zM111.8 64.9h1v1h-1zM66.7 60.4h1v1h-1zM95.2 100.5h1v1h-1zM87.7 39.2h1v1h-1zM82.3 41.3h1v1h-1zM91.6 40.5h1v1h-1zM112.1 63.6h1v1h-1zM113.0 51.1h1v1h-1zM113.5 68.9h1v1h-1zM78.3 94.8h1v1h-1zM67.6 72.2h1v1h-1zM103.0 93.2h1v1h-1zM115.6 74.2h1v1h-1zM71.4 48.8h1v1h-1zM88.9 101.7h1v1h-1zM69.9 74.1h1v1h-1zM104.0 48.1h1v1h-1zM75.2 93.2h1v1h-1zM71.3 96.4h1v1h-1zM68.5 62.3h1v1h-1zM106.5 48.1h1v1h-1zM100.7 41.9h1v1h-1zM93.4 105.2h1v1h-1zM112.5 80.6h1v1h-1zM67.4 61.1h1v1h-1zM75.9 91.7h1v1h-1zM72.6 50.8h1v1h-1zM69.4 86.3h1v1h-1zM100.1 100.5h1v1h-1zM96.6 42.6h1v1h-1zM67.4 79.5h1v1h-1zM96.8 100.9h1v1h-1zM73.5 93.8h1v1h-1zM69.8 58.5h1v1h-1zM101.8 96.4h1v1h-1zM91.9 39.8h1v1h-1zM105.0 49.1h1v1h-1zM101.9 94.1h1v1h-1zM69.5 59.0h1v1h-1zM95.0 34.8h1v1h-1zM83.8 41.3h1v1h-1zM101.6 42.4h1v1h-1zM108.5 87.1h1v1h-1zM88.5 100.7h1v1h-1zM108.3 52.3h1v1h-1zM101.2 43.9h1v1h-1zM71.4 84.0h1v1h-1zM100.9 44.5h1v1h-1zM112.6 74.2h1v1h-1zM68.2 63.8h1v1h-1zM89.0 99.6h1v1h-1zM74.8 46.9h1v1h-1zM107.8 45.9h1v1h-1zM69.8 85.4h1v1h-1zM83.6 100.8h1v1h-1zM107.1 88.5h1v1h-1zM86.9 102.7h1v1h-1zM90.6 100.2h1v1h-1zM73.8 99.0h1v1h-1zM72.1 55.1h1v1h-1zM69.3 54.6h1v1h-1zM82.2 100.3h1v1h-1zM112.2 78.6h1v1h-1zM106.3 90.8h1v1h-1zM69.8 61.7h1v1h-1zM69.3 51.7h1v1h-1zM70.7 49.1h1v1h-1zM93.6 36.8h1v1h-1zM112.5 56.0h1v1h-1zM71.5 53.5h1v1h-1zM68.2 83.1h1v1h-1zM103.8 98.8h1v1h-1zM96.0 41.9h1v1h-1zM112.2 47.6h1v1h-1zM75.4 91.6h1v1h-1zM114.0 74.0h1v1h-1zM93.4 39.9h1v1h-1zM92.8 103.9h1v1h-1zM97.9 97.8h1v1h-1zM103.3 45.8h1v1h-1zM69.3 66.3h1v1h-1zM93.2 40.4h1v1h-1zM116.7 83.0h1v1h-1zM104.7 96.5h1v1h-1zM71.7 51.3h1v1h-1zM108.5 56.7h1v1h-1zM69.4 63.3h1v1h-1zM76.5 95.4h1v1h-1zM106.7 49.5h1v1h-1zM85.4 99.7h1v1h-1zM85.0 102.1h1v1h-1zM107.6 55.0h1v1h-1zM98.4 99.7h1v1h-1zM83.7 41.7h1v1h-1zM107.4 91.5h1v1h-1zM71.6 52.8h1v1h-1zM76.9 43.5h1v1h-1zM116.3 70.5h1v1h-1zM105.1 47.7h1v1h-1zM108.1 85.5h1v1h-1zM102.0 42.3h1v1h-1zM82.3 98.3h1v1h-1zM107.4 53.9h1v1h-1zM115.7 82.7h1v1h-1zM85.7 36.8h1v1h-1zM111.7 52.9h1v1h-1zM112.2 50.2h1v1h-1zM86.9 99.6h1v1h-1zM96.4 105.2h1v1h-1zM73.9 88.7h1v1h-1zM111.5 53.9h1v1h-1zM69.9 82.6h1v1h-1zM87.0 99.3h1v1h-1zM104.9 49.5h1v1h-1zM99.1 36.6h1v1h-1zM71.7 57.9h1v1h-1zM105.4 89.7h1v1h-1zM103.6 37.8h1v1h-1zM86.0 100.6h1v1h-1zM111.6 57.9h1v1h-1zM108.3 54.0h1v1h-1zM99.3 43.1h1v1h-1zM108.0 89.6h1v1h-1zM98.6 96.6h1v1h-1zM69.9 56.9h1v1h-1zM81.6 98.0h1v1h-1zM72.0 96.1h1v1h-1zM114.6 70.8h1v1h-1zM110.5 75.6h1v1h-1zM67.8 58.8h1v1h-1zM74.8 50.2h1v1h-1zM69.2 62.7h1v1h-1zM116.2 64.2h1v1h-1zM101.2 36.5h1v1h-1zM74.1 94.1h1v1h-1zM65.9 61.1h1v1h-1zM101.7 97.8h1v1h-1zM93.8 102.5h1v1h-1zM111.8 68.5h1v1h-1zM78.1 97.6h1v1h-1zM104.8 50.0h1v1h-1zM110.6 88.9h1v1h-1zM101.3 45.4h1v1h-1zM77.8 101.1h1v1h-1zM115.2 64.4h1v1h-1zM69.2 57.8h1v1h-1zM87.2 37.7h1v1h-1zM80.9 42.8h1v1h-1zM85.3 39.3h1v1h-1zM77.9 93.5h1v1h-1zM69.6 60.2h1v1h-1zM100.3 95.9h1v1h-1zM74.2 92.9h1v1h-1zM69.2 86.6h1v1h-1zM70.2 61.3h1v1h-1zM69.1 90.3h1v1h-1zM68.3 65.9h1v1h-1zM68.6 67.9h1v1h-1zM95.3 99.8h1v1h-1zM107.6 85.6h1v1h-1zM71.8 85.2h1v1h-1zM68.3 55.7h1v1h-1zM67.3 79.9h1v1h-1zM72.0 46.4h1v1h-1zM80.4 42.0h1v1h-1zM106.7 91.7h1v1h-1zM89.8 40.6h1v1h-1zM76.1 91.2h1v1h-1zM111.3 67.6h1v1h-1zM105.2 89.8h1v1h-1zM116.6 81.6h1v1h-1zM69.2 87.9h1v1h-1zM94.7 40.1h1v1h-1zM110.9 65.5h1v1h-1zM94.9 99.5h1v1h-1zM111.1 71.1h1v1h-1zM109.7 49.7h1v1h-1zM107.4 87.5h1v1h-1zM67.1 51.7h1v1h-1zM72.9 87.8h1v1h-1zM94.5 98.9h1v1h-1zM72.4 48.6h1v1h-1zM99.2 42.7h1v1h-1zM111.4 70.6h1v1h-1zM72.0 49.8h1v1h-1zM88.2 40.0h1v1h-1zM77.9 97.3h1v1h-1zM70.9 44.6h1v1h-1zM68.3 64.6h1v1h-1zM71.1 54.5h1v1h-1zM66.7 71.8h1v1h-1zM74.8 37.5h1v1h-1zM81.0 103.7h1v1h-1zM64.0 71.4h1v1h-1zM70.1 60.3h1v1h-1zM82.9 98.7h1v1h-1zM69.3 84.4h1v1h-1zM71.5 82.1h1v1h-1zM68.7 55.7h1v1h-1zM108.7 89.1h1v1h-1zM98.5 101.3h1v1h-1zM90.4 102.5h1v1h-1zM80.6 43.8h1v1h-1zM69.7 87.3h1v1h-1zM112.0 78.8h1v1h-1zM116.3 82.1h1v1h-1zM84.6 42.2h1v1h-1zM70.9 79.9h1v1h-1zM76.8 46.0h1v1h-1zM92.2 40.5h1v1h-1zM86.6 99.4h1v1h-1zM84.7 42.0h1v1h-1zM108.1 49.4h1v1h-1zM72.9 90.0h1v1h-1zM106.2 51.7h1v1h-1zM84.0 40.4h1v1h-1zM73.0 88.7h1v1h-1zM62.9 74.4h1v1h-1zM69.1 64.4h1v1h-1zM88.1 103.0h1v1h-1zM109.6 58.1h1v1h-1zM85.4 37.9h1v1h-1zM77.3 41.1h1v1h-1zM110.8 80.9h1v1h-1zM69.2 86.7h1v1h-1zM95.6 104.1h1v1h-1zM78.7 42.9h1v1h-1zM82.1 103.7h1v1h-1zM103.5 93.8h1v1h-1z" fill="#111" opacity="0.55"/>
<ellipse cx="67.3" cy="99.2" rx="16.6" ry="14.7" fill="url(#sg1)"/>
<ellipse cx="67.3" cy="99.2" rx="8.2" ry="6.8" fill="none" stroke="#555" stroke-width="0.5"/>
<ellipse cx="67.3" cy="99.2" rx="5" ry="3.6" fill="#b8b8b8" stroke="#ddd" stroke-width="0.8"/>
<ellipse cx="67.3" cy="99.2" rx="3.0" ry="2.2" fill="none" stroke="#777" stroke-width="0.5"/>
<ellipse cx="67.3" cy="99.2" rx="1.5" ry="1.1" fill="#fff"/>
<g transform="rotate(4 89.5 70.6)">
<ellipse cx="89.5" cy="70.6" rx="14.2" ry="24" fill="url(#ig1)" stroke="#f4f4f4" stroke-width="1.3"/>
<ellipse cx="89.5" cy="72.4" rx="1.4" ry="2.4" fill="none" stroke="#3a3a3a" stroke-width="0.45" opacity="0.8"/>
<ellipse cx="89.5" cy="72.2" rx="2.8" ry="4.8" fill="none" stroke="#3a3a3a" stroke-width="0.45" opacity="0.8"/>
<ellipse cx="89.5" cy="72.0" rx="4.3" ry="7.2" fill="none" stroke="#3a3a3a" stroke-width="0.45" opacity="0.8"/>
<ellipse cx="89.5" cy="71.8" rx="5.7" ry="9.6" fill="none" stroke="#3a3a3a" stroke-width="0.45" opacity="0.8"/>
<ellipse cx="89.5" cy="71.6" rx="7.1" ry="12.0" fill="none" stroke="#3a3a3a" stroke-width="0.45" opacity="0.8"/>
<ellipse cx="89.5" cy="71.4" rx="8.5" ry="14.4" fill="none" stroke="#3a3a3a" stroke-width="0.45" opacity="0.8"/>
<ellipse cx="89.5" cy="71.2" rx="9.9" ry="16.8" fill="none" stroke="#3a3a3a" stroke-width="0.45" opacity="0.8"/>
<ellipse cx="89.5" cy="71.0" rx="11.4" ry="19.2" fill="none" stroke="#3a3a3a" stroke-width="0.45" opacity="0.8"/>
<ellipse cx="89.5" cy="70.8" rx="12.8" ry="21.6" fill="none" stroke="#3a3a3a" stroke-width="0.45" opacity="0.8"/>
</g>
<ellipse cx="88.5" cy="73.89999999999999" rx="1.7" ry="1.7" fill="#fff" stroke="#222" stroke-width="0.9"/>
<ellipse cx="90.2" cy="70.2" rx="19.4" ry="27.8" fill="none" stroke="#1c6ea6" stroke-width="1.7" transform="rotate(4 90.2 70.2)"/>
<path d="M110 81.4H285.2" stroke="#1a6fab" stroke-width="1.5"/>
<path d="M293.2 81.4L284.8 77.2V85.60000000000001Z" fill="#1a6fab"/>
<path d="M53.6 117.2v2.5M56.8 117.2v1.5M60.0 117.2v1.5M63.3 117.2v1.5M66.5 117.2v1.5M69.7 117.2v2.5M72.9 117.2v1.5M76.1 117.2v1.5M79.4 117.2v1.5M82.6 117.2v1.5M85.8 117.2v2.5M89.0 117.2v1.5M92.2 117.2v1.5M95.5 117.2v1.5M98.7 117.2v1.5M101.9 117.2v2.5M105.1 117.2v1.5M108.4 117.2v1.5M111.6 117.2v1.5M114.8 117.2v1.5M118.0 117.2v2.5M121.2 117.2v1.5M124.5 117.2v1.5M127.7 117.2v1.5M130.9 117.2v1.5M134.1 117.2v2.5M137.3 117.2v1.5M140.6 117.2v1.5M143.8 117.2v1.5M147.0 117.2v1.5M50.6 30.3h-2.5M50.6 34.7h-1.5M50.6 39.1h-1.5M50.6 43.5h-1.5M50.6 48.0h-1.5M50.6 52.4h-2.5M50.6 56.8h-1.5M50.6 61.2h-1.5M50.6 65.6h-1.5M50.6 70.0h-1.5M50.6 74.5h-2.5M50.6 78.9h-1.5M50.6 83.3h-1.5M50.6 87.7h-1.5M50.6 92.1h-1.5M50.6 96.5h-2.5M50.6 101.0h-1.5M50.6 105.4h-1.5M50.6 109.8h-1.5M50.6 114.2h-1.5" stroke="#555" stroke-width="0.6"/>
<rect x="65.6" y="115.7" width="7" height="2.5" fill="#333"/>
<rect x="50.8" y="156.2" width="96.10000000000001" height="95.5" fill="#fff" stroke="#aaa" stroke-width="1.4"/>
<defs><radialGradient id="hg2" cx="0.5" cy="0.5" r="0.5"><stop offset="0" stop-color="#222" stop-opacity="0.9"/><stop offset="0.70" stop-color="#111" stop-opacity="0.85"/><stop offset="0.80" stop-color="#222" stop-opacity="0.5"/><stop offset="0.90" stop-color="#444" stop-opacity="0.15"/><stop offset="1" stop-color="#666" stop-opacity="0"/></radialGradient><radialGradient id="sg2" cx="0.5" cy="0.5" r="0.5"><stop offset="0" stop-color="#fafafa"/><stop offset="0.066" stop-color="#ddd"/><stop offset="0.198" stop-color="#a0a0a0"/><stop offset="0.396" stop-color="#8a8a8a"/><stop offset="0.480" stop-color="#1a1a1a"/><stop offset="0.540" stop-color="#000"/><stop offset="0.64" stop-color="#000" stop-opacity="0.95"/><stop offset="0.78" stop-color="#222" stop-opacity="0.55"/><stop offset="1" stop-color="#444" stop-opacity="0"/></radialGradient><linearGradient id="ig2" x1="0" y1="0" x2="0" y2="1"><stop offset="0" stop-color="#dedede"/><stop offset="0.5" stop-color="#c0c0c0"/><stop offset="1" stop-color="#d0d0d0"/></linearGradient></defs>
<path d="M127.1 245.8h0.9v0.9h-0.9zM99.6 187.3h0.9v0.9h-0.9zM137.3 203.0h0.9v0.9h-0.9zM126.8 183.8h0.9v0.9h-0.9zM116.8 172.5h0.9v0.9h-0.9zM122.0 221.4h0.9v0.9h-0.9zM100.8 169.1h0.9v0.9h-0.9zM84.2 190.6h0.9v0.9h-0.9zM127.7 178.5h0.9v0.9h-0.9zM107.2 158.2h0.9v0.9h-0.9zM121.6 219.5h0.9v0.9h-0.9zM105.5 206.5h0.9v0.9h-0.9zM92.7 229.2h0.9v0.9h-0.9zM125.0 226.1h0.9v0.9h-0.9zM83.7 192.4h0.9v0.9h-0.9zM128.0 217.1h0.9v0.9h-0.9zM108.7 228.8h0.9v0.9h-0.9zM144.5 222.2h0.9v0.9h-0.9zM107.4 210.2h0.9v0.9h-0.9zM142.6 221.4h0.9v0.9h-0.9zM89.0 223.1h0.9v0.9h-0.9zM140.6 227.1h0.9v0.9h-0.9zM92.1 194.1h0.9v0.9h-0.9zM98.4 241.2h0.9v0.9h-0.9zM121.8 228.2h0.9v0.9h-0.9zM106.8 247.6h0.9v0.9h-0.9zM85.2 241.9h0.9v0.9h-0.9zM83.9 218.0h0.9v0.9h-0.9zM69.6 239.9h0.9v0.9h-0.9zM127.3 177.3h0.9v0.9h-0.9zM74.1 232.2h0.9v0.9h-0.9zM88.8 193.2h0.9v0.9h-0.9zM71.6 221.8h0.9v0.9h-0.9zM144.8 193.2h0.9v0.9h-0.9zM143.3 224.6h0.9v0.9h-0.9zM89.3 178.3h0.9v0.9h-0.9zM96.2 217.1h0.9v0.9h-0.9zM84.2 219.5h0.9v0.9h-0.9zM89.9 193.0h0.9v0.9h-0.9zM86.2 207.6h0.9v0.9h-0.9zM97.4 198.1h0.9v0.9h-0.9zM62.7 201.2h0.9v0.9h-0.9zM101.3 203.9h0.9v0.9h-0.9zM91.5 249.0h0.9v0.9h-0.9zM87.8 194.5h0.9v0.9h-0.9zM78.1 210.0h0.9v0.9h-0.9zM64.2 225.8h0.9v0.9h-0.9zM62.0 221.5h0.9v0.9h-0.9zM118.2 162.2h0.9v0.9h-0.9zM133.5 205.4h0.9v0.9h-0.9zM143.3 230.5h0.9v0.9h-0.9zM118.2 193.2h0.9v0.9h-0.9zM81.3 178.4h0.9v0.9h-0.9zM87.5 209.6h0.9v0.9h-0.9zM139.5 235.7h0.9v0.9h-0.9zM129.9 217.2h0.9v0.9h-0.9zM87.3 222.5h0.9v0.9h-0.9zM52.0 231.9h0.9v0.9h-0.9zM98.8 198.4h0.9v0.9h-0.9zM111.7 230.8h0.9v0.9h-0.9zM74.9 229.3h0.9v0.9h-0.9zM77.8 184.2h0.9v0.9h-0.9zM135.2 232.9h0.9v0.9h-0.9zM114.5 159.8h0.9v0.9h-0.9zM86.8 216.5h0.9v0.9h-0.9zM55.8 237.0h0.9v0.9h-0.9zM56.9 165.2h0.9v0.9h-0.9zM78.7 211.3h0.9v0.9h-0.9zM78.7 205.4h0.9v0.9h-0.9zM51.8 243.5h0.9v0.9h-0.9zM104.0 174.8h0.9v0.9h-0.9zM131.3 248.3h0.9v0.9h-0.9zM103.5 190.1h0.9v0.9h-0.9zM99.6 248.2h0.9v0.9h-0.9zM122.1 187.4h0.9v0.9h-0.9zM76.8 224.4h0.9v0.9h-0.9zM81.0 199.1h0.9v0.9h-0.9zM61.0 242.1h0.9v0.9h-0.9zM89.2 219.8h0.9v0.9h-0.9zM92.6 212.0h0.9v0.9h-0.9zM126.1 225.9h0.9v0.9h-0.9zM55.6 228.8h0.9v0.9h-0.9zM104.9 182.2h0.9v0.9h-0.9zM108.9 210.0h0.9v0.9h-0.9zM57.8 192.6h0.9v0.9h-0.9zM119.6 197.3h0.9v0.9h-0.9zM73.1 232.6h0.9v0.9h-0.9zM137.8 237.8h0.9v0.9h-0.9zM79.3 232.1h0.9v0.9h-0.9zM75.0 221.5h0.9v0.9h-0.9zM86.7 181.3h0.9v0.9h-0.9zM52.6 217.2h0.9v0.9h-0.9zM136.3 221.6h0.9v0.9h-0.9zM100.3 174.3h0.9v0.9h-0.9zM102.1 241.7h0.9v0.9h-0.9zM121.1 213.3h0.9v0.9h-0.9zM112.8 203.0h0.9v0.9h-0.9zM123.7 196.0h0.9v0.9h-0.9zM51.9 189.2h0.9v0.9h-0.9zM84.7 204.0h0.9v0.9h-0.9zM85.2 204.5h0.9v0.9h-0.9zM99.0 235.8h0.9v0.9h-0.9zM64.0 216.2h0.9v0.9h-0.9zM68.5 183.3h0.9v0.9h-0.9zM127.7 199.2h0.9v0.9h-0.9zM83.2 233.7h0.9v0.9h-0.9zM59.1 223.0h0.9v0.9h-0.9zM97.1 174.4h0.9v0.9h-0.9zM113.5 225.8h0.9v0.9h-0.9zM103.7 215.1h0.9v0.9h-0.9zM121.3 232.7h0.9v0.9h-0.9zM76.7 223.7h0.9v0.9h-0.9zM132.9 229.6h0.9v0.9h-0.9zM67.9 218.7h0.9v0.9h-0.9zM98.4 183.0h0.9v0.9h-0.9zM113.3 216.4h0.9v0.9h-0.9zM137.2 214.5h0.9v0.9h-0.9zM135.4 227.0h0.9v0.9h-0.9zM131.5 193.3h0.9v0.9h-0.9zM93.3 235.9h0.9v0.9h-0.9zM64.1 176.1h0.9v0.9h-0.9zM90.5 175.3h0.9v0.9h-0.9zM65.0 239.4h0.9v0.9h-0.9zM91.0 192.6h0.9v0.9h-0.9zM132.5 225.1h0.9v0.9h-0.9zM99.9 224.2h0.9v0.9h-0.9zM78.7 193.8h0.9v0.9h-0.9zM113.7 243.2h0.9v0.9h-0.9zM117.5 235.7h0.9v0.9h-0.9zM143.7 245.7h0.9v0.9h-0.9zM68.9 228.8h0.9v0.9h-0.9zM83.8 248.1h0.9v0.9h-0.9zM58.1 220.5h0.9v0.9h-0.9zM137.8 226.7h0.9v0.9h-0.9zM121.8 192.8h0.9v0.9h-0.9zM135.6 219.3h0.9v0.9h-0.9zM58.6 217.9h0.9v0.9h-0.9zM74.3 161.7h0.9v0.9h-0.9zM112.4 213.8h0.9v0.9h-0.9zM129.8 243.5h0.9v0.9h-0.9zM143.3 186.9h0.9v0.9h-0.9zM125.2 186.0h0.9v0.9h-0.9zM111.7 159.8h0.9v0.9h-0.9zM126.4 158.5h0.9v0.9h-0.9zM58.3 211.7h0.9v0.9h-0.9zM125.6 199.4h0.9v0.9h-0.9zM137.7 248.1h0.9v0.9h-0.9zM86.1 231.4h0.9v0.9h-0.9zM75.9 224.8h0.9v0.9h-0.9zM91.5 224.8h0.9v0.9h-0.9zM65.0 173.4h0.9v0.9h-0.9zM124.0 220.2h0.9v0.9h-0.9zM76.3 231.5h0.9v0.9h-0.9zM93.4 221.2h0.9v0.9h-0.9zM114.2 194.6h0.9v0.9h-0.9zM115.8 237.9h0.9v0.9h-0.9zM125.1 235.6h0.9v0.9h-0.9zM101.8 172.3h0.9v0.9h-0.9zM69.9 212.3h0.9v0.9h-0.9zM57.9 177.8h0.9v0.9h-0.9zM133.2 237.9h0.9v0.9h-0.9zM84.3 222.7h0.9v0.9h-0.9zM82.8 171.2h0.9v0.9h-0.9zM118.8 241.9h0.9v0.9h-0.9zM72.8 206.3h0.9v0.9h-0.9zM97.8 204.1h0.9v0.9h-0.9zM125.3 250.4h0.9v0.9h-0.9zM97.3 199.3h0.9v0.9h-0.9zM110.1 208.6h0.9v0.9h-0.9zM135.6 190.2h0.9v0.9h-0.9zM68.4 180.0h0.9v0.9h-0.9zM94.5 205.9h0.9v0.9h-0.9zM135.6 196.5h0.9v0.9h-0.9zM97.1 196.8h0.9v0.9h-0.9zM91.8 176.1h0.9v0.9h-0.9zM84.7 215.7h0.9v0.9h-0.9zM118.1 214.2h0.9v0.9h-0.9zM99.0 235.1h0.9v0.9h-0.9zM107.4 216.2h0.9v0.9h-0.9zM57.0 236.3h0.9v0.9h-0.9zM77.4 180.5h0.9v0.9h-0.9zM105.9 203.1h0.9v0.9h-0.9zM71.1 182.5h0.9v0.9h-0.9zM102.1 183.8h0.9v0.9h-0.9zM119.1 178.3h0.9v0.9h-0.9zM100.3 194.6h0.9v0.9h-0.9zM86.5 172.6h0.9v0.9h-0.9zM120.2 216.5h0.9v0.9h-0.9zM111.9 205.2h0.9v0.9h-0.9zM137.8 207.0h0.9v0.9h-0.9zM90.0 232.4h0.9v0.9h-0.9zM108.2 182.6h0.9v0.9h-0.9zM80.4 194.3h0.9v0.9h-0.9zM90.1 237.7h0.9v0.9h-0.9zM111.7 224.7h0.9v0.9h-0.9zM143.0 189.9h0.9v0.9h-0.9zM70.9 172.8h0.9v0.9h-0.9zM80.3 196.3h0.9v0.9h-0.9zM132.7 203.4h0.9v0.9h-0.9zM102.5 201.0h0.9v0.9h-0.9zM103.9 210.8h0.9v0.9h-0.9zM82.0 196.1h0.9v0.9h-0.9zM127.8 198.4h0.9v0.9h-0.9zM96.4 171.1h0.9v0.9h-0.9zM103.0 248.8h0.9v0.9h-0.9zM141.6 221.8h0.9v0.9h-0.9zM114.1 185.0h0.9v0.9h-0.9zM112.0 244.1h0.9v0.9h-0.9zM145.6 207.1h0.9v0.9h-0.9zM70.9 179.5h0.9v0.9h-0.9zM74.2 219.2h0.9v0.9h-0.9zM76.9 196.4h0.9v0.9h-0.9zM56.6 165.7h0.9v0.9h-0.9zM135.5 214.6h0.9v0.9h-0.9zM89.6 197.2h0.9v0.9h-0.9zM56.9 171.8h0.9v0.9h-0.9zM71.4 188.1h0.9v0.9h-0.9zM109.7 175.9h0.9v0.9h-0.9zM117.0 203.7h0.9v0.9h-0.9zM125.2 199.1h0.9v0.9h-0.9zM55.8 222.0h0.9v0.9h-0.9zM79.2 165.0h0.9v0.9h-0.9zM131.3 180.4h0.9v0.9h-0.9zM139.9 200.7h0.9v0.9h-0.9zM118.3 178.1h0.9v0.9h-0.9zM134.9 246.7h0.9v0.9h-0.9zM143.1 182.8h0.9v0.9h-0.9zM85.0 202.3h0.9v0.9h-0.9zM127.5 241.1h0.9v0.9h-0.9zM109.5 238.7h0.9v0.9h-0.9zM99.5 243.0h0.9v0.9h-0.9zM126.5 232.7h0.9v0.9h-0.9zM116.7 221.9h0.9v0.9h-0.9zM100.7 232.9h0.9v0.9h-0.9zM103.6 236.8h0.9v0.9h-0.9zM118.6 157.8h0.9v0.9h-0.9zM109.6 197.4h0.9v0.9h-0.9zM87.7 223.9h0.9v0.9h-0.9zM133.0 243.0h0.9v0.9h-0.9zM76.2 166.5h0.9v0.9h-0.9zM107.4 170.8h0.9v0.9h-0.9zM99.0 173.3h0.9v0.9h-0.9zM136.1 216.1h0.9v0.9h-0.9zM111.6 161.7h0.9v0.9h-0.9zM125.7 174.5h0.9v0.9h-0.9zM113.1 220.3h0.9v0.9h-0.9zM116.0 242.6h0.9v0.9h-0.9zM89.1 221.3h0.9v0.9h-0.9zM140.8 184.7h0.9v0.9h-0.9zM85.0 234.2h0.9v0.9h-0.9zM74.5 237.5h0.9v0.9h-0.9zM131.9 202.8h0.9v0.9h-0.9zM126.5 173.9h0.9v0.9h-0.9zM144.0 231.1h0.9v0.9h-0.9zM69.4 218.8h0.9v0.9h-0.9zM92.8 171.2h0.9v0.9h-0.9zM97.4 207.9h0.9v0.9h-0.9zM52.2 190.4h0.9v0.9h-0.9zM103.8 172.7h0.9v0.9h-0.9zM131.9 172.8h0.9v0.9h-0.9zM98.9 176.3h0.9v0.9h-0.9zM141.0 201.1h0.9v0.9h-0.9zM108.7 239.7h0.9v0.9h-0.9zM126.1 168.3h0.9v0.9h-0.9zM63.2 191.0h0.9v0.9h-0.9zM113.7 244.9h0.9v0.9h-0.9zM106.2 195.6h0.9v0.9h-0.9zM119.8 231.9h0.9v0.9h-0.9zM93.3 195.6h0.9v0.9h-0.9zM89.8 207.2h0.9v0.9h-0.9zM79.5 196.3h0.9v0.9h-0.9zM136.3 240.5h0.9v0.9h-0.9zM64.6 202.2h0.9v0.9h-0.9zM95.2 200.2h0.9v0.9h-0.9zM66.1 203.9h0.9v0.9h-0.9zM102.8 231.7h0.9v0.9h-0.9zM98.5 158.6h0.9v0.9h-0.9zM132.3 182.6h0.9v0.9h-0.9zM75.0 212.3h0.9v0.9h-0.9zM105.8 211.8h0.9v0.9h-0.9zM141.4 159.0h0.9v0.9h-0.9zM75.0 245.4h0.9v0.9h-0.9zM105.5 217.7h0.9v0.9h-0.9zM134.6 241.2h0.9v0.9h-0.9zM66.7 216.8h0.9v0.9h-0.9zM145.4 219.4h0.9v0.9h-0.9zM62.8 250.7h0.9v0.9h-0.9zM111.6 208.0h0.9v0.9h-0.9zM139.7 210.9h0.9v0.9h-0.9zM76.6 171.6h0.9v0.9h-0.9zM88.5 228.3h0.9v0.9h-0.9zM81.4 176.5h0.9v0.9h-0.9zM137.9 186.7h0.9v0.9h-0.9zM135.1 223.8h0.9v0.9h-0.9zM130.8 244.8h0.9v0.9h-0.9zM126.7 195.5h0.9v0.9h-0.9zM106.1 182.1h0.9v0.9h-0.9zM104.3 204.8h0.9v0.9h-0.9zM67.9 200.8h0.9v0.9h-0.9zM87.3 174.6h0.9v0.9h-0.9zM102.9 175.3h0.9v0.9h-0.9zM101.4 245.1h0.9v0.9h-0.9zM109.8 190.0h0.9v0.9h-0.9zM111.3 163.1h0.9v0.9h-0.9zM101.3 213.8h0.9v0.9h-0.9zM89.1 206.7h0.9v0.9h-0.9zM111.0 202.0h0.9v0.9h-0.9zM140.5 222.9h0.9v0.9h-0.9zM76.8 223.0h0.9v0.9h-0.9zM118.7 229.1h0.9v0.9h-0.9zM71.1 216.8h0.9v0.9h-0.9zM84.3 217.9h0.9v0.9h-0.9zM103.1 240.4h0.9v0.9h-0.9zM116.6 186.2h0.9v0.9h-0.9zM72.6 240.9h0.9v0.9h-0.9zM69.8 211.2h0.9v0.9h-0.9zM145.3 214.9h0.9v0.9h-0.9zM101.5 186.7h0.9v0.9h-0.9zM93.7 233.8h0.9v0.9h-0.9zM76.1 234.8h0.9v0.9h-0.9zM60.4 241.4h0.9v0.9h-0.9zM117.8 231.4h0.9v0.9h-0.9zM135.6 228.9h0.9v0.9h-0.9zM78.2 172.1h0.9v0.9h-0.9zM102.7 206.3h0.9v0.9h-0.9zM101.7 164.6h0.9v0.9h-0.9zM64.4 239.7h0.9v0.9h-0.9zM78.4 220.9h0.9v0.9h-0.9zM143.3 221.9h0.9v0.9h-0.9zM140.0 231.0h0.9v0.9h-0.9zM136.2 209.4h0.9v0.9h-0.9zM95.1 190.7h0.9v0.9h-0.9zM72.4 174.6h0.9v0.9h-0.9zM117.5 234.9h0.9v0.9h-0.9zM84.8 201.1h0.9v0.9h-0.9zM107.6 243.0h0.9v0.9h-0.9zM142.3 201.9h0.9v0.9h-0.9zM52.9 198.3h0.9v0.9h-0.9zM62.6 212.2h0.9v0.9h-0.9zM91.8 210.5h0.9v0.9h-0.9zM109.5 214.4h0.9v0.9h-0.9zM109.8 205.9h0.9v0.9h-0.9zM94.5 223.3h0.9v0.9h-0.9zM104.0 225.8h0.9v0.9h-0.9zM108.5 193.1h0.9v0.9h-0.9zM113.5 198.9h0.9v0.9h-0.9zM101.8 216.8h0.9v0.9h-0.9zM100.8 216.1h0.9v0.9h-0.9zM113.7 218.3h0.9v0.9h-0.9zM97.9 199.6h0.9v0.9h-0.9zM102.9 250.3h0.9v0.9h-0.9zM57.8 212.8h0.9v0.9h-0.9zM79.4 191.3h0.9v0.9h-0.9zM120.9 190.8h0.9v0.9h-0.9zM143.6 240.4h0.9v0.9h-0.9zM93.2 197.9h0.9v0.9h-0.9zM72.9 239.8h0.9v0.9h-0.9zM105.9 190.9h0.9v0.9h-0.9zM81.6 234.1h0.9v0.9h-0.9zM99.0 204.7h0.9v0.9h-0.9zM67.7 239.3h0.9v0.9h-0.9zM60.7 171.3h0.9v0.9h-0.9zM87.1 194.0h0.9v0.9h-0.9zM82.6 173.5h0.9v0.9h-0.9zM121.8 248.6h0.9v0.9h-0.9zM118.8 200.4h0.9v0.9h-0.9zM81.4 188.9h0.9v0.9h-0.9zM109.7 218.2h0.9v0.9h-0.9zM53.2 233.6h0.9v0.9h-0.9zM59.0 213.0h0.9v0.9h-0.9zM130.9 236.1h0.9v0.9h-0.9zM55.4 223.1h0.9v0.9h-0.9z" fill="#666" opacity="0.4"/>
<path d="M111.3 235.1h1v1h-1zM67.5 219.8h1v1h-1zM130.4 195.6h1v1h-1zM124.1 225.9h1v1h-1zM88.6 166.9h1v1h-1zM80.9 222.5h1v1h-1zM126.7 212.6h1v1h-1zM135.9 210.7h1v1h-1zM119.6 218.3h1v1h-1zM131.6 245.3h1v1h-1zM132.0 201.3h1v1h-1zM113.8 213.8h1v1h-1zM79.5 216.6h1v1h-1zM120.5 219.2h1v1h-1zM107.5 170.6h1v1h-1zM55.2 234.9h1v1h-1zM124.2 201.1h1v1h-1zM129.0 223.6h1v1h-1zM110.6 184.0h1v1h-1zM114.6 211.3h1v1h-1zM104.5 173.9h1v1h-1zM126.0 190.0h1v1h-1zM120.8 222.7h1v1h-1zM82.6 173.9h1v1h-1zM119.5 215.6h1v1h-1zM94.7 172.6h1v1h-1zM78.0 221.6h1v1h-1zM108.4 171.5h1v1h-1zM124.3 186.0h1v1h-1zM122.5 218.2h1v1h-1zM121.0 209.1h1v1h-1zM127.3 217.7h1v1h-1zM104.8 232.9h1v1h-1zM111.7 233.4h1v1h-1zM108.9 179.1h1v1h-1zM84.6 173.8h1v1h-1zM60.7 240.6h1v1h-1zM77.2 240.9h1v1h-1zM126.8 197.1h1v1h-1zM89.1 239.9h1v1h-1zM106.6 172.4h1v1h-1zM106.7 236.8h1v1h-1zM74.4 206.6h1v1h-1zM63.2 250.1h1v1h-1zM117.9 225.9h1v1h-1zM119.8 186.8h1v1h-1zM133.8 240.3h1v1h-1zM128.6 249.2h1v1h-1zM104.9 231.3h1v1h-1zM78.9 215.9h1v1h-1zM121.1 211.1h1v1h-1zM97.0 236.3h1v1h-1zM116.5 213.5h1v1h-1zM116.6 226.9h1v1h-1zM113.4 177.6h1v1h-1zM117.0 198.0h1v1h-1zM118.6 210.4h1v1h-1zM57.9 229.5h1v1h-1zM114.8 207.2h1v1h-1zM80.7 217.0h1v1h-1zM126.0 204.8h1v1h-1zM143.2 193.4h1v1h-1zM119.0 220.3h1v1h-1zM116.4 228.6h1v1h-1zM119.6 223.4h1v1h-1zM118.7 226.0h1v1h-1zM76.3 221.6h1v1h-1zM92.1 229.2h1v1h-1zM103.5 236.9h1v1h-1zM126.5 187.8h1v1h-1zM138.3 209.6h1v1h-1zM69.6 222.1h1v1h-1zM84.8 180.4h1v1h-1zM118.2 220.9h1v1h-1zM118.2 167.3h1v1h-1zM84.5 224.8h1v1h-1zM92.4 177.0h1v1h-1zM80.7 188.2h1v1h-1zM75.8 182.3h1v1h-1zM72.1 223.6h1v1h-1zM120.8 216.4h1v1h-1zM81.0 189.6h1v1h-1zM112.1 225.0h1v1h-1zM114.2 231.1h1v1h-1zM97.7 236.4h1v1h-1zM123.5 211.3h1v1h-1zM116.0 236.2h1v1h-1zM127.3 237.8h1v1h-1zM123.8 235.0h1v1h-1zM81.7 226.3h1v1h-1zM77.3 210.5h1v1h-1zM69.0 211.6h1v1h-1zM145.5 214.3h1v1h-1zM55.7 229.4h1v1h-1zM115.5 203.1h1v1h-1zM91.6 176.4h1v1h-1zM75.5 198.2h1v1h-1zM121.1 203.2h1v1h-1zM83.2 226.5h1v1h-1zM130.0 193.5h1v1h-1zM55.0 240.6h1v1h-1zM100.7 227.4h1v1h-1zM86.2 229.8h1v1h-1zM75.2 195.7h1v1h-1zM90.0 233.7h1v1h-1zM129.0 239.7h1v1h-1zM85.1 234.4h1v1h-1zM57.8 240.4h1v1h-1zM80.5 185.2h1v1h-1zM110.8 185.7h1v1h-1zM105.0 229.5h1v1h-1zM121.8 186.6h1v1h-1zM120.7 210.0h1v1h-1zM81.3 219.9h1v1h-1zM106.8 171.2h1v1h-1zM68.7 246.5h1v1h-1zM122.2 205.7h1v1h-1zM114.5 225.6h1v1h-1zM83.5 177.1h1v1h-1zM100.5 181.1h1v1h-1zM134.2 197.9h1v1h-1zM78.6 201.1h1v1h-1zM98.6 241.0h1v1h-1zM83.0 230.6h1v1h-1zM71.6 248.3h1v1h-1zM96.0 238.8h1v1h-1zM92.4 174.1h1v1h-1zM73.9 222.1h1v1h-1zM125.1 209.5h1v1h-1zM117.1 229.9h1v1h-1zM63.1 245.4h1v1h-1zM122.4 204.7h1v1h-1zM114.0 221.3h1v1h-1zM117.3 189.7h1v1h-1zM124.6 220.1h1v1h-1zM129.6 205.3h1v1h-1zM127.8 222.8h1v1h-1zM114.3 192.0h1v1h-1zM126.8 218.1h1v1h-1zM116.2 222.6h1v1h-1zM145.8 211.4h1v1h-1zM95.5 232.2h1v1h-1zM72.0 205.0h1v1h-1zM110.6 169.9h1v1h-1zM62.2 245.6h1v1h-1zM77.3 187.1h1v1h-1zM102.7 238.3h1v1h-1zM120.9 175.7h1v1h-1zM64.1 241.9h1v1h-1zM117.8 196.8h1v1h-1zM117.6 225.6h1v1h-1zM123.3 199.1h1v1h-1zM122.1 229.9h1v1h-1zM114.1 234.6h1v1h-1zM88.0 167.4h1v1h-1zM119.4 237.3h1v1h-1zM115.9 186.4h1v1h-1zM75.0 199.1h1v1h-1zM121.9 213.3h1v1h-1zM109.6 184.0h1v1h-1zM85.5 231.5h1v1h-1zM120.3 193.7h1v1h-1zM68.2 241.9h1v1h-1zM73.1 213.0h1v1h-1zM111.9 175.7h1v1h-1zM75.1 201.9h1v1h-1zM126.8 206.8h1v1h-1zM119.8 218.5h1v1h-1zM101.2 234.3h1v1h-1zM123.3 210.4h1v1h-1zM115.6 202.5h1v1h-1zM127.5 226.1h1v1h-1zM69.1 243.0h1v1h-1zM77.3 229.4h1v1h-1zM117.1 174.5h1v1h-1zM118.7 177.1h1v1h-1zM121.0 226.3h1v1h-1zM116.4 222.4h1v1h-1zM78.0 195.6h1v1h-1zM126.3 236.8h1v1h-1zM135.7 208.5h1v1h-1zM113.9 193.5h1v1h-1zM116.5 212.0h1v1h-1zM113.3 248.7h1v1h-1zM81.3 193.7h1v1h-1zM118.0 218.0h1v1h-1zM135.1 221.1h1v1h-1zM80.1 187.3h1v1h-1zM108.5 239.2h1v1h-1zM125.4 184.5h1v1h-1zM113.4 224.5h1v1h-1zM124.1 204.2h1v1h-1zM118.2 216.3h1v1h-1zM120.0 203.4h1v1h-1zM75.8 190.3h1v1h-1zM119.9 208.5h1v1h-1zM111.1 177.2h1v1h-1zM106.3 226.5h1v1h-1zM122.1 218.4h1v1h-1zM119.2 246.1h1v1h-1zM59.3 230.3h1v1h-1zM87.2 170.3h1v1h-1zM89.2 187.2h1v1h-1zM121.6 210.2h1v1h-1zM76.2 220.5h1v1h-1zM73.9 200.6h1v1h-1zM119.8 232.6h1v1h-1zM61.9 241.9h1v1h-1zM121.0 199.1h1v1h-1zM135.0 223.4h1v1h-1zM80.1 229.7h1v1h-1zM113.3 202.1h1v1h-1zM116.6 228.7h1v1h-1zM80.2 171.1h1v1h-1zM74.5 211.9h1v1h-1zM125.9 208.4h1v1h-1zM104.9 178.3h1v1h-1zM86.9 181.5h1v1h-1zM84.4 180.3h1v1h-1zM116.0 243.1h1v1h-1zM127.5 235.7h1v1h-1zM116.7 196.6h1v1h-1zM78.2 222.7h1v1h-1zM73.3 224.2h1v1h-1zM114.9 218.9h1v1h-1zM106.1 180.5h1v1h-1zM111.3 182.4h1v1h-1zM103.6 237.0h1v1h-1zM94.3 234.4h1v1h-1zM80.0 225.6h1v1h-1zM126.0 236.8h1v1h-1zM115.6 222.3h1v1h-1zM76.2 193.9h1v1h-1zM80.4 224.0h1v1h-1zM133.5 203.4h1v1h-1zM121.8 195.6h1v1h-1zM124.2 211.4h1v1h-1zM75.7 210.3h1v1h-1zM80.8 221.7h1v1h-1zM54.4 225.8h1v1h-1zM132.5 231.6h1v1h-1zM78.2 237.5h1v1h-1zM85.2 230.7h1v1h-1zM74.6 221.3h1v1h-1zM117.7 227.0h1v1h-1zM116.0 188.0h1v1h-1zM118.5 207.3h1v1h-1zM119.0 176.8h1v1h-1zM123.9 218.9h1v1h-1zM72.8 202.3h1v1h-1zM115.4 210.1h1v1h-1zM124.7 215.0h1v1h-1zM71.2 214.1h1v1h-1zM52.1 238.0h1v1h-1zM117.6 206.6h1v1h-1zM112.4 230.2h1v1h-1zM119.7 230.6h1v1h-1zM73.8 229.8h1v1h-1zM77.6 233.2h1v1h-1zM65.9 224.6h1v1h-1zM113.0 196.3h1v1h-1zM89.2 232.0h1v1h-1zM107.6 232.9h1v1h-1zM75.2 212.9h1v1h-1zM84.5 232.0h1v1h-1zM87.1 229.0h1v1h-1zM59.3 235.1h1v1h-1zM118.0 244.7h1v1h-1zM130.7 236.3h1v1h-1zM103.2 231.5h1v1h-1zM114.0 177.3h1v1h-1zM116.5 217.2h1v1h-1zM57.7 224.8h1v1h-1zM83.8 232.4h1v1h-1zM104.5 189.6h1v1h-1zM127.7 237.5h1v1h-1zM89.2 166.5h1v1h-1zM69.2 244.6h1v1h-1zM76.1 212.0h1v1h-1zM83.4 227.9h1v1h-1zM135.5 203.0h1v1h-1zM78.3 247.4h1v1h-1zM76.9 232.1h1v1h-1zM114.0 203.9h1v1h-1zM125.6 242.1h1v1h-1zM114.4 209.1h1v1h-1zM78.4 210.5h1v1h-1zM120.4 190.0h1v1h-1zM92.9 232.3h1v1h-1zM108.9 230.6h1v1h-1zM120.3 214.9h1v1h-1zM94.9 178.6h1v1h-1zM71.1 224.5h1v1h-1zM75.8 216.6h1v1h-1zM116.1 218.7h1v1h-1zM55.6 241.2h1v1h-1zM65.1 219.7h1v1h-1zM134.8 162.0h1v1h-1zM117.4 191.6h1v1h-1zM121.0 219.8h1v1h-1zM85.6 182.9h1v1h-1zM116.4 191.6h1v1h-1zM111.2 229.8h1v1h-1zM113.1 235.7h1v1h-1zM84.9 233.5h1v1h-1zM85.3 184.1h1v1h-1zM72.7 205.2h1v1h-1zM118.2 196.3h1v1h-1zM121.7 215.0h1v1h-1zM113.5 214.3h1v1h-1zM71.8 219.5h1v1h-1zM76.7 233.3h1v1h-1zM112.6 210.4h1v1h-1zM114.5 203.4h1v1h-1zM121.1 210.7h1v1h-1zM114.3 199.3h1v1h-1zM121.6 182.7h1v1h-1zM120.4 189.0h1v1h-1zM118.5 212.3h1v1h-1zM114.5 210.7h1v1h-1zM114.7 219.2h1v1h-1zM118.3 182.4h1v1h-1zM114.9 217.8h1v1h-1zM124.6 190.6h1v1h-1zM89.9 170.7h1v1h-1zM122.2 238.7h1v1h-1zM88.6 231.2h1v1h-1zM111.0 240.0h1v1h-1zM115.8 198.3h1v1h-1zM116.8 226.7h1v1h-1zM77.8 233.7h1v1h-1zM119.4 229.9h1v1h-1zM132.6 233.4h1v1h-1zM60.3 240.6h1v1h-1zM125.1 244.4h1v1h-1zM95.2 175.3h1v1h-1zM126.0 220.1h1v1h-1zM119.2 204.4h1v1h-1zM62.0 239.6h1v1h-1zM87.0 228.0h1v1h-1zM88.8 233.4h1v1h-1zM88.6 179.5h1v1h-1zM121.3 201.1h1v1h-1zM74.5 212.4h1v1h-1zM56.5 241.9h1v1h-1zM128.1 223.8h1v1h-1zM85.3 237.6h1v1h-1zM55.0 230.1h1v1h-1zM112.5 218.0h1v1h-1zM100.7 180.0h1v1h-1zM76.0 196.2h1v1h-1zM83.0 189.0h1v1h-1zM116.0 204.3h1v1h-1zM84.1 233.4h1v1h-1zM90.1 242.1h1v1h-1zM101.8 242.3h1v1h-1zM130.0 199.5h1v1h-1zM105.8 173.3h1v1h-1zM72.0 228.1h1v1h-1zM118.8 219.1h1v1h-1zM81.8 243.7h1v1h-1zM117.8 209.3h1v1h-1zM116.9 207.3h1v1h-1zM73.0 225.5h1v1h-1zM116.8 220.7h1v1h-1zM118.2 188.1h1v1h-1zM80.4 224.2h1v1h-1zM80.5 236.4h1v1h-1zM104.2 238.4h1v1h-1zM81.5 227.8h1v1h-1zM121.2 190.5h1v1h-1zM57.6 232.5h1v1h-1zM116.7 200.4h1v1h-1zM112.8 227.9h1v1h-1zM129.2 215.6h1v1h-1zM117.4 241.8h1v1h-1zM118.9 203.5h1v1h-1zM113.6 180.6h1v1h-1zM117.7 210.1h1v1h-1zM132.9 174.6h1v1h-1zM120.1 234.8h1v1h-1zM100.4 239.2h1v1h-1zM100.9 233.2h1v1h-1zM92.7 164.9h1v1h-1zM99.7 168.2h1v1h-1zM127.8 206.9h1v1h-1zM91.1 173.7h1v1h-1zM91.5 172.4h1v1h-1zM111.1 168.2h1v1h-1z" fill="#000" opacity="0.6"/>
<path d="M119.0 198.8h1v1h-1zM133.7 217.0h1v1h-1zM115.2 221.3h1v1h-1zM80.1 196.4h1v1h-1zM124.2 220.0h1v1h-1zM76.1 211.4h1v1h-1zM114.5 204.1h1v1h-1zM119.0 217.3h1v1h-1zM122.7 188.3h1v1h-1zM100.5 230.5h1v1h-1zM81.8 233.6h1v1h-1zM103.9 231.0h1v1h-1zM122.3 223.5h1v1h-1zM111.3 226.6h1v1h-1zM99.7 177.9h1v1h-1zM78.1 210.3h1v1h-1zM111.6 180.0h1v1h-1zM81.3 223.9h1v1h-1zM71.3 189.7h1v1h-1zM126.0 206.6h1v1h-1zM120.5 212.1h1v1h-1zM115.1 185.4h1v1h-1zM104.0 180.0h1v1h-1zM81.9 247.1h1v1h-1zM114.2 177.2h1v1h-1zM57.2 235.7h1v1h-1zM68.6 243.0h1v1h-1zM112.8 211.6h1v1h-1zM127.5 194.7h1v1h-1zM113.7 218.3h1v1h-1zM87.2 222.5h1v1h-1zM116.5 177.1h1v1h-1zM130.9 214.7h1v1h-1zM70.6 226.6h1v1h-1zM120.9 221.3h1v1h-1zM110.3 234.4h1v1h-1zM100.0 237.3h1v1h-1zM97.3 235.7h1v1h-1zM85.5 234.1h1v1h-1zM105.6 177.9h1v1h-1zM116.0 179.4h1v1h-1zM121.1 230.7h1v1h-1zM65.0 237.7h1v1h-1zM74.9 187.6h1v1h-1zM137.1 218.7h1v1h-1zM120.1 213.8h1v1h-1zM132.1 194.7h1v1h-1zM67.6 222.3h1v1h-1zM113.6 195.2h1v1h-1zM85.9 177.2h1v1h-1zM120.5 235.1h1v1h-1zM113.4 202.1h1v1h-1zM70.2 186.4h1v1h-1zM111.3 180.3h1v1h-1zM104.5 237.7h1v1h-1zM127.7 227.8h1v1h-1zM112.8 209.7h1v1h-1zM137.1 203.1h1v1h-1zM115.6 201.3h1v1h-1zM73.3 209.5h1v1h-1zM118.3 244.7h1v1h-1zM114.5 221.9h1v1h-1zM115.1 223.4h1v1h-1zM106.4 175.1h1v1h-1zM73.4 213.7h1v1h-1zM116.0 215.1h1v1h-1zM83.4 181.2h1v1h-1zM71.4 235.6h1v1h-1zM112.6 198.7h1v1h-1zM121.1 202.8h1v1h-1zM124.2 186.8h1v1h-1zM112.4 217.3h1v1h-1zM124.2 204.9h1v1h-1zM125.1 207.8h1v1h-1zM104.6 230.7h1v1h-1zM116.8 177.3h1v1h-1zM84.6 228.0h1v1h-1zM115.9 199.3h1v1h-1zM131.7 183.6h1v1h-1zM57.5 241.7h1v1h-1zM137.6 223.5h1v1h-1zM88.7 221.7h1v1h-1zM82.6 232.2h1v1h-1zM104.0 177.0h1v1h-1zM123.9 197.1h1v1h-1zM109.8 238.2h1v1h-1zM121.2 199.3h1v1h-1zM57.1 235.0h1v1h-1zM117.2 236.7h1v1h-1zM123.5 216.9h1v1h-1zM113.3 247.2h1v1h-1zM119.3 189.8h1v1h-1zM119.5 225.1h1v1h-1zM123.2 238.3h1v1h-1zM115.8 191.7h1v1h-1zM129.2 199.4h1v1h-1zM90.3 232.5h1v1h-1zM81.8 235.2h1v1h-1zM104.2 166.4h1v1h-1zM94.4 233.6h1v1h-1zM120.4 248.3h1v1h-1zM117.8 202.3h1v1h-1zM124.3 214.3h1v1h-1zM117.1 219.4h1v1h-1zM73.0 249.1h1v1h-1zM115.0 217.6h1v1h-1zM132.9 230.7h1v1h-1zM107.4 234.8h1v1h-1zM105.0 221.6h1v1h-1zM79.6 175.6h1v1h-1zM119.6 192.0h1v1h-1zM90.7 235.1h1v1h-1zM122.1 207.4h1v1h-1zM113.7 227.0h1v1h-1zM71.1 246.6h1v1h-1zM64.4 248.5h1v1h-1zM74.5 245.2h1v1h-1zM83.0 184.3h1v1h-1zM87.7 232.1h1v1h-1zM102.9 237.0h1v1h-1zM124.8 214.4h1v1h-1zM131.0 218.9h1v1h-1zM67.4 217.0h1v1h-1zM90.8 228.6h1v1h-1zM130.4 204.1h1v1h-1zM57.8 223.1h1v1h-1zM115.5 209.8h1v1h-1zM95.6 173.1h1v1h-1zM78.7 182.1h1v1h-1zM124.0 229.8h1v1h-1zM118.2 220.0h1v1h-1zM114.3 227.8h1v1h-1zM116.1 195.5h1v1h-1zM118.0 180.9h1v1h-1zM115.7 239.0h1v1h-1zM79.1 202.3h1v1h-1zM55.9 226.9h1v1h-1zM120.6 225.1h1v1h-1zM115.2 196.2h1v1h-1zM119.2 221.1h1v1h-1zM116.9 192.7h1v1h-1zM132.8 186.3h1v1h-1zM72.4 207.2h1v1h-1zM124.3 196.9h1v1h-1zM117.6 226.0h1v1h-1zM79.5 180.1h1v1h-1zM112.6 162.0h1v1h-1zM87.5 228.1h1v1h-1zM79.4 184.8h1v1h-1zM61.8 245.1h1v1h-1zM102.2 231.5h1v1h-1zM133.4 197.0h1v1h-1zM127.9 218.1h1v1h-1zM87.8 178.9h1v1h-1zM113.1 197.3h1v1h-1zM57.3 239.6h1v1h-1zM78.2 231.0h1v1h-1zM92.2 174.0h1v1h-1zM76.1 176.2h1v1h-1zM120.3 211.4h1v1h-1zM126.5 213.3h1v1h-1zM120.7 217.3h1v1h-1zM109.5 176.7h1v1h-1zM97.7 169.5h1v1h-1zM112.6 209.2h1v1h-1zM101.0 238.9h1v1h-1zM118.3 196.1h1v1h-1zM114.7 240.1h1v1h-1zM125.9 224.7h1v1h-1zM74.4 185.2h1v1h-1zM125.5 214.1h1v1h-1zM126.6 219.2h1v1h-1zM68.6 227.3h1v1h-1zM89.3 178.5h1v1h-1zM55.2 229.4h1v1h-1zM112.3 220.3h1v1h-1zM91.8 235.8h1v1h-1zM125.8 226.7h1v1h-1zM82.8 229.1h1v1h-1zM124.8 232.3h1v1h-1zM107.4 177.4h1v1h-1zM120.0 203.9h1v1h-1zM77.1 217.6h1v1h-1zM66.9 221.8h1v1h-1zM118.8 217.5h1v1h-1zM122.4 202.3h1v1h-1zM76.5 182.5h1v1h-1zM120.3 233.2h1v1h-1zM96.9 172.6h1v1h-1zM70.0 207.1h1v1h-1zM119.4 180.4h1v1h-1zM76.4 231.4h1v1h-1zM123.9 237.0h1v1h-1zM82.0 186.3h1v1h-1zM77.7 219.4h1v1h-1zM118.8 233.5h1v1h-1zM80.7 227.5h1v1h-1zM119.3 211.3h1v1h-1zM124.0 206.9h1v1h-1zM120.3 196.0h1v1h-1zM125.6 225.7h1v1h-1zM76.8 220.5h1v1h-1zM95.3 233.0h1v1h-1zM108.4 175.5h1v1h-1zM70.8 221.4h1v1h-1zM110.2 182.2h1v1h-1zM121.2 209.7h1v1h-1zM103.3 176.2h1v1h-1zM127.3 223.4h1v1h-1zM131.4 191.4h1v1h-1zM128.5 221.7h1v1h-1zM70.0 207.0h1v1h-1zM110.4 236.5h1v1h-1zM81.1 236.0h1v1h-1zM100.0 233.3h1v1h-1zM123.9 223.2h1v1h-1zM118.7 217.0h1v1h-1zM120.7 197.0h1v1h-1zM111.6 220.5h1v1h-1zM64.4 247.8h1v1h-1zM118.9 229.5h1v1h-1zM130.1 228.2h1v1h-1zM112.6 226.8h1v1h-1zM121.8 214.2h1v1h-1zM72.7 244.0h1v1h-1zM130.7 213.8h1v1h-1zM119.6 229.8h1v1h-1zM89.0 231.9h1v1h-1zM72.1 198.7h1v1h-1zM83.0 226.9h1v1h-1zM72.7 207.0h1v1h-1zM79.9 232.2h1v1h-1zM122.4 218.2h1v1h-1zM117.4 201.0h1v1h-1zM116.0 193.1h1v1h-1zM116.8 182.0h1v1h-1zM57.4 236.8h1v1h-1zM80.1 194.8h1v1h-1zM120.0 194.4h1v1h-1zM123.2 203.0h1v1h-1zM80.3 226.8h1v1h-1zM121.4 200.5h1v1h-1zM115.4 173.4h1v1h-1zM105.8 178.1h1v1h-1zM121.9 181.8h1v1h-1zM85.0 177.2h1v1h-1zM124.4 237.9h1v1h-1zM115.2 178.9h1v1h-1zM84.4 183.5h1v1h-1zM117.4 185.6h1v1h-1zM125.9 224.7h1v1h-1zM143.3 236.6h1v1h-1zM114.9 226.3h1v1h-1zM119.6 189.9h1v1h-1zM95.1 232.0h1v1h-1zM66.0 248.5h1v1h-1zM119.3 212.5h1v1h-1zM123.5 215.2h1v1h-1zM113.2 190.2h1v1h-1zM87.3 236.9h1v1h-1zM120.7 210.9h1v1h-1zM122.0 198.0h1v1h-1zM89.7 235.5h1v1h-1zM143.4 247.3h1v1h-1zM58.6 231.3h1v1h-1zM117.1 229.9h1v1h-1zM106.0 226.9h1v1h-1z" fill="#444" opacity="0.5"/>
<path d="M81.4 225.8h1v1h-1zM75.8 204.4h1v1h-1zM115.8 197.1h1v1h-1zM119.2 211.5h1v1h-1zM89.7 175.8h1v1h-1zM114.7 220.7h1v1h-1zM99.8 172.2h1v1h-1zM79.8 226.3h1v1h-1zM117.3 239.4h1v1h-1zM80.5 184.6h1v1h-1zM112.6 198.9h1v1h-1zM74.7 243.6h1v1h-1zM72.7 203.9h1v1h-1zM86.8 174.8h1v1h-1zM73.6 214.5h1v1h-1zM52.6 229.1h1v1h-1zM127.1 171.5h1v1h-1zM82.1 226.5h1v1h-1zM125.5 196.1h1v1h-1zM114.5 223.6h1v1h-1zM119.4 188.3h1v1h-1zM126.3 208.0h1v1h-1zM115.6 225.0h1v1h-1zM90.6 230.2h1v1h-1zM126.3 221.2h1v1h-1zM119.2 232.5h1v1h-1zM81.6 227.2h1v1h-1zM112.9 235.5h1v1h-1zM90.4 180.0h1v1h-1zM83.0 173.5h1v1h-1zM120.4 222.1h1v1h-1zM120.2 213.2h1v1h-1zM113.7 209.7h1v1h-1zM137.2 219.9h1v1h-1zM91.5 176.7h1v1h-1zM77.5 217.0h1v1h-1zM110.3 192.6h1v1h-1zM75.5 222.1h1v1h-1zM69.8 190.4h1v1h-1zM118.2 184.7h1v1h-1zM82.7 183.6h1v1h-1zM60.5 249.6h1v1h-1zM108.9 185.7h1v1h-1zM111.2 231.4h1v1h-1zM117.1 222.8h1v1h-1zM120.6 224.2h1v1h-1zM76.6 228.1h1v1h-1zM117.0 216.7h1v1h-1zM115.6 236.5h1v1h-1zM117.1 220.8h1v1h-1zM137.6 244.0h1v1h-1zM74.3 221.0h1v1h-1zM73.3 242.2h1v1h-1zM111.4 186.8h1v1h-1zM113.6 221.8h1v1h-1zM118.3 195.2h1v1h-1zM58.7 244.2h1v1h-1zM98.3 175.2h1v1h-1zM119.7 214.2h1v1h-1zM89.6 171.0h1v1h-1zM133.5 209.5h1v1h-1zM72.2 208.3h1v1h-1zM126.1 207.2h1v1h-1zM77.0 229.8h1v1h-1zM73.1 206.9h1v1h-1zM135.6 207.1h1v1h-1zM114.6 226.0h1v1h-1zM99.5 170.6h1v1h-1zM69.7 219.8h1v1h-1zM73.7 193.3h1v1h-1zM110.5 226.7h1v1h-1zM124.3 202.2h1v1h-1zM125.3 193.6h1v1h-1zM81.6 207.1h1v1h-1zM81.3 243.5h1v1h-1zM78.4 228.1h1v1h-1zM120.5 250.4h1v1h-1zM78.0 213.0h1v1h-1zM135.0 185.4h1v1h-1zM112.6 206.0h1v1h-1zM77.3 185.2h1v1h-1zM93.5 180.0h1v1h-1zM77.8 215.0h1v1h-1zM117.6 200.5h1v1h-1zM124.6 211.5h1v1h-1zM72.3 209.7h1v1h-1zM113.8 245.0h1v1h-1zM124.5 219.1h1v1h-1zM120.1 198.1h1v1h-1zM73.1 203.5h1v1h-1zM60.0 218.1h1v1h-1zM57.6 227.9h1v1h-1zM61.5 240.1h1v1h-1zM115.7 224.4h1v1h-1zM133.0 231.9h1v1h-1zM56.3 225.5h1v1h-1zM76.5 196.5h1v1h-1zM98.6 237.1h1v1h-1zM124.1 199.0h1v1h-1zM114.7 250.0h1v1h-1zM123.0 218.6h1v1h-1zM106.2 167.3h1v1h-1zM127.2 196.4h1v1h-1zM55.8 237.5h1v1h-1zM122.1 206.0h1v1h-1zM113.7 239.2h1v1h-1zM121.4 230.2h1v1h-1zM112.2 230.4h1v1h-1zM81.7 175.6h1v1h-1zM116.9 214.6h1v1h-1zM128.3 201.7h1v1h-1zM106.2 180.0h1v1h-1zM79.4 228.2h1v1h-1zM104.6 174.2h1v1h-1zM90.5 172.5h1v1h-1zM116.6 229.6h1v1h-1zM130.1 229.6h1v1h-1zM113.9 200.5h1v1h-1zM75.3 226.1h1v1h-1zM109.3 228.5h1v1h-1zM98.6 240.1h1v1h-1zM63.2 239.8h1v1h-1zM94.9 235.5h1v1h-1zM115.2 208.3h1v1h-1zM80.4 222.4h1v1h-1zM70.6 241.3h1v1h-1zM115.0 226.6h1v1h-1zM115.4 237.9h1v1h-1zM108.5 187.2h1v1h-1zM85.4 234.9h1v1h-1zM75.5 196.6h1v1h-1zM57.5 241.9h1v1h-1zM119.4 216.2h1v1h-1zM87.7 224.9h1v1h-1zM124.9 209.5h1v1h-1zM124.5 208.7h1v1h-1zM90.6 173.2h1v1h-1zM123.7 228.7h1v1h-1zM120.9 191.3h1v1h-1zM83.4 164.3h1v1h-1zM121.7 204.0h1v1h-1zM116.1 180.9h1v1h-1zM120.9 214.6h1v1h-1zM122.8 207.2h1v1h-1zM139.3 221.4h1v1h-1zM113.3 229.2h1v1h-1zM109.3 221.1h1v1h-1zM145.8 199.8h1v1h-1zM121.8 221.2h1v1h-1zM80.6 226.0h1v1h-1zM123.4 217.1h1v1h-1zM128.2 211.4h1v1h-1zM99.1 178.4h1v1h-1zM117.9 189.4h1v1h-1zM124.8 221.6h1v1h-1zM117.6 191.4h1v1h-1zM126.4 223.6h1v1h-1zM104.5 229.3h1v1h-1zM77.0 219.6h1v1h-1zM105.1 241.2h1v1h-1zM117.8 215.6h1v1h-1zM129.7 245.6h1v1h-1zM113.8 197.3h1v1h-1zM96.9 170.0h1v1h-1zM125.0 230.4h1v1h-1zM134.3 223.2h1v1h-1zM120.2 197.5h1v1h-1zM87.5 234.9h1v1h-1zM115.4 192.8h1v1h-1zM116.4 187.9h1v1h-1zM128.8 203.8h1v1h-1zM120.1 194.6h1v1h-1zM72.6 220.3h1v1h-1zM110.9 223.4h1v1h-1zM118.5 215.7h1v1h-1zM111.3 235.4h1v1h-1zM91.1 177.5h1v1h-1zM76.9 211.4h1v1h-1zM77.0 191.0h1v1h-1zM122.6 213.3h1v1h-1zM120.2 202.7h1v1h-1zM136.0 201.5h1v1h-1zM74.5 237.2h1v1h-1zM98.6 181.7h1v1h-1zM115.1 250.1h1v1h-1zM89.2 227.5h1v1h-1zM61.5 225.6h1v1h-1zM115.6 179.9h1v1h-1zM122.3 215.7h1v1h-1zM116.4 234.4h1v1h-1zM118.7 224.4h1v1h-1zM62.4 242.1h1v1h-1zM115.6 193.9h1v1h-1zM122.3 191.4h1v1h-1zM58.5 224.8h1v1h-1zM120.3 168.9h1v1h-1zM75.0 202.9h1v1h-1zM109.6 236.4h1v1h-1zM112.9 208.7h1v1h-1zM94.5 176.9h1v1h-1zM117.3 187.3h1v1h-1zM114.2 181.2h1v1h-1zM98.9 239.3h1v1h-1zM114.6 224.0h1v1h-1zM75.1 240.4h1v1h-1zM123.9 211.9h1v1h-1zM125.0 216.2h1v1h-1zM63.9 244.7h1v1h-1zM121.3 224.7h1v1h-1zM73.1 206.0h1v1h-1zM65.5 225.8h1v1h-1zM79.4 218.9h1v1h-1zM125.1 185.7h1v1h-1zM123.3 202.8h1v1h-1zM108.7 175.9h1v1h-1zM121.4 212.9h1v1h-1zM113.0 181.4h1v1h-1z" fill="#888" opacity="0.45"/>
<path d="M123.9 222.2h1v1h-1zM114.4 225.2h1v1h-1zM80.6 235.4h1v1h-1zM120.9 199.3h1v1h-1zM114.1 210.4h1v1h-1zM75.8 215.6h1v1h-1zM126.6 201.7h1v1h-1zM122.8 234.9h1v1h-1zM120.3 228.7h1v1h-1zM87.5 178.5h1v1h-1zM100.3 231.1h1v1h-1zM126.6 181.9h1v1h-1zM128.0 205.5h1v1h-1zM124.9 228.9h1v1h-1zM115.8 212.2h1v1h-1zM137.6 198.2h1v1h-1zM97.6 178.9h1v1h-1zM104.6 231.6h1v1h-1zM77.9 214.3h1v1h-1zM74.9 199.2h1v1h-1zM98.7 236.0h1v1h-1zM62.3 247.4h1v1h-1zM117.7 249.2h1v1h-1zM124.2 204.3h1v1h-1zM121.0 211.0h1v1h-1zM112.0 231.5h1v1h-1zM121.0 201.5h1v1h-1zM78.0 238.2h1v1h-1zM113.9 208.5h1v1h-1zM53.5 236.6h1v1h-1zM123.1 188.0h1v1h-1zM64.0 234.4h1v1h-1zM78.9 235.9h1v1h-1zM115.2 224.8h1v1h-1zM83.5 183.8h1v1h-1zM120.0 212.9h1v1h-1zM56.0 230.9h1v1h-1zM84.4 227.9h1v1h-1zM92.7 235.7h1v1h-1zM101.9 228.1h1v1h-1zM64.6 245.4h1v1h-1zM73.3 204.9h1v1h-1zM131.0 224.7h1v1h-1zM136.0 210.4h1v1h-1zM106.0 172.2h1v1h-1zM103.7 177.8h1v1h-1zM115.3 203.5h1v1h-1zM114.5 218.7h1v1h-1zM74.3 187.6h1v1h-1zM119.1 198.5h1v1h-1zM114.1 208.2h1v1h-1zM118.9 197.2h1v1h-1zM81.6 228.3h1v1h-1zM72.6 186.3h1v1h-1zM63.1 243.5h1v1h-1zM76.7 224.6h1v1h-1zM75.5 230.5h1v1h-1zM119.9 188.4h1v1h-1zM114.7 184.0h1v1h-1zM111.0 169.1h1v1h-1zM123.8 163.0h1v1h-1zM117.1 227.8h1v1h-1zM80.2 229.9h1v1h-1zM135.4 215.6h1v1h-1zM115.2 217.6h1v1h-1zM116.3 227.0h1v1h-1zM89.4 235.6h1v1h-1zM122.9 203.5h1v1h-1zM63.7 247.4h1v1h-1zM72.7 206.3h1v1h-1zM117.5 197.8h1v1h-1zM116.2 219.0h1v1h-1zM123.5 210.5h1v1h-1zM58.5 230.8h1v1h-1zM91.8 228.7h1v1h-1zM120.4 242.0h1v1h-1zM125.8 213.1h1v1h-1zM114.8 249.3h1v1h-1zM86.2 169.8h1v1h-1zM56.4 229.7h1v1h-1zM107.6 178.6h1v1h-1zM122.7 198.0h1v1h-1zM103.1 179.0h1v1h-1zM105.1 178.0h1v1h-1zM114.2 224.8h1v1h-1zM126.9 233.5h1v1h-1zM134.4 220.1h1v1h-1zM118.6 191.4h1v1h-1zM82.8 244.0h1v1h-1zM136.0 198.0h1v1h-1zM104.6 233.2h1v1h-1zM109.5 233.2h1v1h-1zM119.9 183.4h1v1h-1zM117.1 214.9h1v1h-1zM112.0 174.5h1v1h-1zM57.4 236.8h1v1h-1zM122.0 210.0h1v1h-1zM82.9 225.5h1v1h-1zM126.2 217.4h1v1h-1zM130.6 224.1h1v1h-1z" fill="#a44" opacity="0.4"/>
<path d="M76.9 207.5h1v1h-1zM80.4 238.7h1v1h-1zM91.1 172.9h1v1h-1zM76.7 245.3h1v1h-1zM118.1 224.5h1v1h-1zM116.3 217.6h1v1h-1zM117.6 221.7h1v1h-1zM114.4 228.5h1v1h-1zM119.1 180.0h1v1h-1zM123.2 201.5h1v1h-1zM111.5 222.9h1v1h-1zM113.2 207.0h1v1h-1zM124.3 220.7h1v1h-1zM122.8 221.1h1v1h-1zM121.1 207.4h1v1h-1zM79.6 190.3h1v1h-1zM116.2 231.4h1v1h-1zM115.4 198.1h1v1h-1zM83.5 223.4h1v1h-1zM116.0 230.6h1v1h-1zM116.7 200.0h1v1h-1zM105.5 228.4h1v1h-1zM127.2 222.9h1v1h-1zM115.3 188.2h1v1h-1zM117.9 186.0h1v1h-1zM101.7 236.2h1v1h-1zM132.2 209.1h1v1h-1zM97.4 235.4h1v1h-1zM84.2 229.6h1v1h-1zM115.1 199.9h1v1h-1zM85.4 227.3h1v1h-1zM76.7 190.5h1v1h-1zM57.0 235.4h1v1h-1zM118.5 207.5h1v1h-1zM64.4 243.1h1v1h-1zM71.9 227.9h1v1h-1zM74.0 179.4h1v1h-1zM100.8 169.8h1v1h-1zM85.5 219.5h1v1h-1zM137.7 220.2h1v1h-1zM114.0 219.4h1v1h-1zM122.3 206.9h1v1h-1zM55.7 242.1h1v1h-1zM127.8 204.8h1v1h-1zM124.5 209.1h1v1h-1zM119.6 199.3h1v1h-1zM78.1 234.1h1v1h-1zM112.4 232.9h1v1h-1zM139.5 220.3h1v1h-1zM65.1 220.4h1v1h-1zM113.0 213.8h1v1h-1zM97.1 171.0h1v1h-1zM113.6 227.8h1v1h-1zM77.0 215.3h1v1h-1zM124.7 198.6h1v1h-1zM79.8 187.0h1v1h-1zM64.3 217.5h1v1h-1zM113.1 237.5h1v1h-1zM121.0 215.9h1v1h-1zM76.5 204.9h1v1h-1zM93.6 174.2h1v1h-1zM114.2 204.7h1v1h-1zM119.1 213.3h1v1h-1zM113.9 203.5h1v1h-1zM123.5 223.4h1v1h-1zM113.3 188.7h1v1h-1zM55.3 244.7h1v1h-1zM120.1 207.5h1v1h-1zM76.1 218.0h1v1h-1zM111.7 174.9h1v1h-1zM135.4 216.6h1v1h-1zM74.6 191.2h1v1h-1zM53.5 236.3h1v1h-1zM81.9 206.4h1v1h-1zM121.1 212.2h1v1h-1zM114.8 226.9h1v1h-1zM72.7 239.1h1v1h-1zM119.2 202.0h1v1h-1zM106.8 174.7h1v1h-1zM76.9 221.8h1v1h-1zM111.5 224.9h1v1h-1zM84.2 229.2h1v1h-1zM127.4 169.6h1v1h-1zM115.5 180.9h1v1h-1zM89.9 175.2h1v1h-1zM113.7 181.0h1v1h-1zM122.0 216.1h1v1h-1zM58.7 233.7h1v1h-1zM116.5 222.4h1v1h-1zM71.3 202.0h1v1h-1zM113.0 226.3h1v1h-1zM110.3 185.7h1v1h-1zM121.3 209.1h1v1h-1zM115.7 178.4h1v1h-1zM89.6 177.2h1v1h-1zM111.4 225.4h1v1h-1zM82.1 228.9h1v1h-1zM118.3 206.4h1v1h-1zM116.9 191.4h1v1h-1zM138.7 210.7h1v1h-1zM84.5 178.2h1v1h-1zM116.7 223.3h1v1h-1zM130.7 230.0h1v1h-1zM118.4 209.7h1v1h-1zM123.7 208.4h1v1h-1zM91.9 171.3h1v1h-1zM122.7 205.9h1v1h-1zM126.8 224.1h1v1h-1z" fill="#48a" opacity="0.4"/>
<ellipse cx="99.39999999999999" cy="205.9" rx="28.0" ry="35.4" fill="url(#hg2)" transform="rotate(6 97.6 204.4)"/>
<ellipse cx="98.1" cy="204.9" rx="23.8" ry="30.7" fill="none" stroke="#000" stroke-width="3" opacity="0.6" filter="url(#bl05)" transform="rotate(6 97.6 204.4)"/>
<path d="M79.9 186.7h1v1h-1zM105.9 175.0h1v1h-1zM95.1 236.4h1v1h-1zM116.7 222.4h1v1h-1zM94.6 175.2h1v1h-1zM124.5 206.6h1v1h-1zM77.5 230.7h1v1h-1zM116.4 220.9h1v1h-1zM75.0 217.7h1v1h-1zM72.9 214.1h1v1h-1zM86.7 234.5h1v1h-1zM119.5 211.9h1v1h-1zM88.1 230.8h1v1h-1zM82.2 229.2h1v1h-1zM93.5 236.3h1v1h-1zM100.2 236.9h1v1h-1zM121.1 195.2h1v1h-1zM94.1 174.4h1v1h-1zM84.5 179.7h1v1h-1zM92.2 173.6h1v1h-1zM80.1 226.5h1v1h-1zM114.3 233.5h1v1h-1zM87.2 178.2h1v1h-1zM118.4 184.1h1v1h-1zM81.5 181.0h1v1h-1zM92.4 234.8h1v1h-1zM73.8 196.2h1v1h-1zM97.1 236.5h1v1h-1zM103.7 233.7h1v1h-1zM100.5 234.2h1v1h-1zM116.9 220.4h1v1h-1zM94.0 234.9h1v1h-1zM113.6 178.8h1v1h-1zM86.9 230.5h1v1h-1zM75.0 201.3h1v1h-1zM113.9 228.8h1v1h-1zM107.0 232.0h1v1h-1zM120.8 190.6h1v1h-1zM101.8 233.7h1v1h-1zM92.5 235.9h1v1h-1zM92.9 175.0h1v1h-1zM74.6 214.2h1v1h-1zM70.7 221.2h1v1h-1zM76.0 224.5h1v1h-1zM82.3 227.5h1v1h-1zM107.1 232.2h1v1h-1zM121.6 218.9h1v1h-1zM111.5 179.8h1v1h-1zM95.9 235.2h1v1h-1zM123.0 216.5h1v1h-1zM105.4 233.8h1v1h-1zM97.0 169.1h1v1h-1zM118.2 215.7h1v1h-1zM80.8 182.1h1v1h-1zM72.4 219.4h1v1h-1zM92.2 234.8h1v1h-1zM94.0 236.4h1v1h-1zM103.8 176.4h1v1h-1zM106.5 234.3h1v1h-1zM77.7 224.4h1v1h-1zM122.5 197.8h1v1h-1zM123.6 196.8h1v1h-1zM117.6 184.0h1v1h-1zM101.1 175.3h1v1h-1zM109.3 178.4h1v1h-1zM120.0 188.8h1v1h-1zM102.4 174.0h1v1h-1zM118.0 227.3h1v1h-1zM78.3 224.0h1v1h-1zM121.0 206.4h1v1h-1zM74.6 189.7h1v1h-1zM110.3 232.3h1v1h-1zM121.1 218.5h1v1h-1zM120.3 211.4h1v1h-1zM104.8 235.3h1v1h-1zM88.8 177.7h1v1h-1zM114.6 228.6h1v1h-1zM105.2 232.1h1v1h-1zM122.6 184.6h1v1h-1zM97.4 236.9h1v1h-1zM121.8 209.2h1v1h-1zM81.0 233.4h1v1h-1zM90.7 233.6h1v1h-1zM75.8 186.4h1v1h-1zM90.8 170.5h1v1h-1zM76.0 194.0h1v1h-1zM95.7 171.7h1v1h-1zM116.1 187.8h1v1h-1zM74.1 206.9h1v1h-1zM121.2 190.8h1v1h-1zM117.6 218.0h1v1h-1zM114.2 181.9h1v1h-1zM120.5 199.7h1v1h-1zM98.1 235.9h1v1h-1zM79.6 186.1h1v1h-1zM109.0 176.5h1v1h-1zM73.5 214.0h1v1h-1zM76.2 212.4h1v1h-1zM127.3 212.1h1v1h-1zM91.8 234.6h1v1h-1zM82.8 230.1h1v1h-1zM116.5 220.6h1v1h-1zM115.3 180.4h1v1h-1zM90.2 234.8h1v1h-1zM113.9 226.0h1v1h-1zM70.9 195.9h1v1h-1zM85.8 179.1h1v1h-1zM86.4 174.3h1v1h-1zM105.8 233.0h1v1h-1zM111.3 177.3h1v1h-1zM101.4 234.2h1v1h-1zM95.0 169.6h1v1h-1zM118.0 225.2h1v1h-1zM102.7 237.1h1v1h-1zM123.8 209.2h1v1h-1zM108.6 176.1h1v1h-1zM92.1 173.6h1v1h-1zM119.0 190.7h1v1h-1zM95.0 234.8h1v1h-1zM77.5 190.8h1v1h-1zM87.8 174.7h1v1h-1zM119.2 212.6h1v1h-1zM79.4 178.7h1v1h-1zM80.2 183.8h1v1h-1zM113.9 180.0h1v1h-1zM92.3 237.4h1v1h-1zM121.5 192.5h1v1h-1zM79.5 225.2h1v1h-1zM111.4 177.9h1v1h-1zM78.5 183.5h1v1h-1zM103.0 174.0h1v1h-1zM119.3 197.3h1v1h-1zM91.9 237.5h1v1h-1zM106.9 175.6h1v1h-1zM84.7 230.0h1v1h-1zM71.9 208.5h1v1h-1zM79.3 221.3h1v1h-1zM118.2 192.2h1v1h-1zM82.3 231.1h1v1h-1zM116.5 224.4h1v1h-1zM107.9 232.0h1v1h-1zM116.4 223.1h1v1h-1zM100.0 173.6h1v1h-1zM75.4 201.5h1v1h-1zM87.4 176.5h1v1h-1zM103.6 235.5h1v1h-1zM122.4 212.0h1v1h-1zM121.9 203.3h1v1h-1zM98.0 237.2h1v1h-1zM89.6 175.8h1v1h-1zM99.8 233.7h1v1h-1zM111.2 178.6h1v1h-1zM77.4 191.0h1v1h-1zM96.8 236.5h1v1h-1zM122.2 209.0h1v1h-1zM86.8 235.5h1v1h-1zM84.0 230.5h1v1h-1zM90.7 175.6h1v1h-1zM118.4 188.8h1v1h-1zM86.3 235.8h1v1h-1zM120.8 200.5h1v1h-1zM89.7 175.5h1v1h-1zM81.7 233.5h1v1h-1zM110.5 230.4h1v1h-1zM101.3 234.9h1v1h-1zM74.9 213.5h1v1h-1zM102.6 235.9h1v1h-1zM122.1 214.2h1v1h-1zM103.5 173.7h1v1h-1zM102.9 175.1h1v1h-1zM87.3 237.6h1v1h-1zM90.3 171.8h1v1h-1zM77.9 220.6h1v1h-1zM115.2 183.6h1v1h-1zM119.5 191.5h1v1h-1zM82.9 235.4h1v1h-1zM127.2 224.6h1v1h-1zM78.0 187.2h1v1h-1zM110.2 177.9h1v1h-1zM72.8 206.9h1v1h-1zM99.1 239.7h1v1h-1zM121.7 188.1h1v1h-1zM80.2 185.0h1v1h-1zM82.2 179.4h1v1h-1zM122.0 183.1h1v1h-1zM109.8 233.7h1v1h-1zM122.0 213.5h1v1h-1zM96.0 174.9h1v1h-1zM99.1 238.6h1v1h-1zM113.1 228.2h1v1h-1zM102.1 174.7h1v1h-1zM123.4 214.9h1v1h-1zM105.3 174.0h1v1h-1zM121.3 218.5h1v1h-1zM74.0 204.4h1v1h-1zM76.9 218.6h1v1h-1zM127.3 197.9h1v1h-1zM84.6 230.4h1v1h-1zM105.6 175.4h1v1h-1zM78.3 182.2h1v1h-1zM124.8 197.9h1v1h-1zM73.6 207.8h1v1h-1zM86.8 232.0h1v1h-1zM118.9 195.8h1v1h-1zM96.6 172.3h1v1h-1zM124.9 213.1h1v1h-1zM92.4 170.7h1v1h-1zM118.1 189.5h1v1h-1zM90.0 176.1h1v1h-1zM123.8 188.7h1v1h-1zM81.6 226.9h1v1h-1zM117.4 223.8h1v1h-1zM122.5 183.5h1v1h-1zM117.7 225.2h1v1h-1zM73.8 212.8h1v1h-1zM91.6 174.4h1v1h-1zM95.0 239.9h1v1h-1zM74.8 197.3h1v1h-1zM87.3 230.6h1v1h-1zM89.8 233.2h1v1h-1zM72.8 205.8h1v1h-1zM72.8 212.3h1v1h-1zM80.1 181.6h1v1h-1zM106.7 232.4h1v1h-1zM74.5 197.1h1v1h-1zM84.6 178.4h1v1h-1zM76.4 213.4h1v1h-1zM119.6 199.3h1v1h-1zM111.3 177.9h1v1h-1zM72.5 208.8h1v1h-1zM127.0 197.2h1v1h-1zM84.0 180.7h1v1h-1zM84.3 178.4h1v1h-1zM74.4 205.5h1v1h-1zM75.7 191.5h1v1h-1zM75.0 188.0h1v1h-1zM120.1 189.5h1v1h-1zM75.7 195.3h1v1h-1zM120.6 204.9h1v1h-1zM113.7 184.2h1v1h-1zM112.6 182.8h1v1h-1zM79.0 183.6h1v1h-1zM112.8 231.1h1v1h-1zM87.4 177.4h1v1h-1zM116.4 227.2h1v1h-1zM121.7 204.1h1v1h-1zM116.9 220.8h1v1h-1zM125.6 202.9h1v1h-1zM99.8 236.5h1v1h-1zM88.8 171.1h1v1h-1zM116.2 224.5h1v1h-1zM104.9 175.1h1v1h-1zM115.6 222.6h1v1h-1zM111.4 231.5h1v1h-1zM97.1 235.9h1v1h-1zM126.5 196.6h1v1h-1zM122.3 212.4h1v1h-1zM78.2 224.9h1v1h-1zM119.9 211.6h1v1h-1zM103.1 236.6h1v1h-1zM69.4 196.6h1v1h-1zM112.4 177.5h1v1h-1zM95.1 173.5h1v1h-1zM75.4 207.3h1v1h-1zM122.5 195.2h1v1h-1zM116.6 224.7h1v1h-1zM71.7 205.5h1v1h-1zM92.2 234.0h1v1h-1zM101.6 233.8h1v1h-1zM121.4 197.1h1v1h-1zM109.7 231.9h1v1h-1zM119.0 231.8h1v1h-1zM122.4 211.1h1v1h-1zM84.0 177.9h1v1h-1zM112.9 182.6h1v1h-1zM104.7 176.5h1v1h-1zM102.7 237.5h1v1h-1zM116.4 227.1h1v1h-1zM73.3 196.0h1v1h-1zM82.5 180.9h1v1h-1zM100.0 174.5h1v1h-1zM89.5 176.0h1v1h-1zM122.8 208.9h1v1h-1zM75.1 194.2h1v1h-1zM113.6 229.7h1v1h-1zM84.4 179.9h1v1h-1zM116.9 220.9h1v1h-1zM101.3 171.8h1v1h-1zM82.0 173.3h1v1h-1zM79.0 223.0h1v1h-1zM79.2 177.8h1v1h-1zM83.1 227.3h1v1h-1zM96.7 237.2h1v1h-1zM112.5 226.3h1v1h-1zM79.7 185.1h1v1h-1zM79.9 183.8h1v1h-1zM74.6 197.1h1v1h-1zM116.0 231.2h1v1h-1zM103.0 169.9h1v1h-1zM94.1 236.2h1v1h-1zM89.5 174.6h1v1h-1zM101.1 171.5h1v1h-1zM94.1 237.2h1v1h-1zM92.0 174.6h1v1h-1zM76.6 221.6h1v1h-1zM119.1 222.3h1v1h-1zM72.3 196.1h1v1h-1zM85.9 232.6h1v1h-1zM119.3 214.8h1v1h-1zM120.0 218.1h1v1h-1zM122.4 213.3h1v1h-1zM112.5 227.7h1v1h-1zM121.0 217.0h1v1h-1zM120.0 213.1h1v1h-1zM72.1 195.6h1v1h-1zM115.0 222.9h1v1h-1zM119.9 205.5h1v1h-1zM75.3 202.7h1v1h-1zM78.5 224.7h1v1h-1zM112.7 230.0h1v1h-1zM111.8 228.2h1v1h-1zM77.5 186.8h1v1h-1zM83.8 228.7h1v1h-1zM79.3 182.6h1v1h-1zM82.4 228.0h1v1h-1zM112.1 178.7h1v1h-1zM119.9 200.0h1v1h-1zM77.4 227.9h1v1h-1zM94.0 171.2h1v1h-1zM99.3 241.8h1v1h-1zM124.8 204.8h1v1h-1zM88.3 231.3h1v1h-1zM120.9 199.2h1v1h-1zM113.5 177.6h1v1h-1zM123.6 201.3h1v1h-1zM113.5 229.8h1v1h-1zM71.7 204.4h1v1h-1zM71.9 197.2h1v1h-1zM121.8 215.9h1v1h-1zM111.5 180.8h1v1h-1zM119.4 188.6h1v1h-1zM87.3 176.5h1v1h-1zM75.3 204.7h1v1h-1zM99.6 175.3h1v1h-1zM117.6 189.4h1v1h-1zM111.4 176.4h1v1h-1zM86.2 230.7h1v1h-1zM118.3 181.4h1v1h-1zM72.8 192.4h1v1h-1zM80.0 223.6h1v1h-1zM74.4 219.3h1v1h-1zM105.7 175.3h1v1h-1zM83.3 228.9h1v1h-1zM87.2 173.0h1v1h-1zM109.7 233.9h1v1h-1zM115.1 183.8h1v1h-1zM121.3 208.5h1v1h-1zM103.8 175.1h1v1h-1zM111.3 230.9h1v1h-1zM89.7 176.6h1v1h-1zM77.2 217.6h1v1h-1zM117.9 183.7h1v1h-1zM115.3 178.6h1v1h-1zM118.3 190.4h1v1h-1zM90.9 172.3h1v1h-1zM117.2 225.9h1v1h-1zM77.3 191.7h1v1h-1zM119.9 221.2h1v1h-1zM91.3 238.4h1v1h-1zM120.2 200.6h1v1h-1zM123.7 199.2h1v1h-1zM77.3 225.5h1v1h-1zM114.9 225.6h1v1h-1zM73.0 191.5h1v1h-1zM115.2 224.0h1v1h-1zM122.7 192.1h1v1h-1zM70.4 216.6h1v1h-1zM96.2 174.6h1v1h-1zM84.7 173.6h1v1h-1zM86.7 231.7h1v1h-1zM120.2 214.6h1v1h-1zM119.2 224.1h1v1h-1zM121.5 192.5h1v1h-1zM117.9 218.6h1v1h-1zM111.9 229.2h1v1h-1zM73.3 190.0h1v1h-1zM72.4 198.3h1v1h-1zM124.0 199.8h1v1h-1zM117.0 219.9h1v1h-1zM87.4 172.3h1v1h-1zM102.5 173.8h1v1h-1zM73.3 210.2h1v1h-1zM121.3 208.8h1v1h-1zM74.6 204.5h1v1h-1zM100.7 169.2h1v1h-1zM97.2 171.2h1v1h-1zM80.5 229.5h1v1h-1zM75.0 217.7h1v1h-1zM124.1 203.6h1v1h-1zM85.4 229.8h1v1h-1zM112.0 229.2h1v1h-1zM74.2 203.3h1v1h-1zM97.7 234.5h1v1h-1zM85.1 172.7h1v1h-1zM91.8 237.7h1v1h-1zM78.2 222.5h1v1h-1zM122.7 199.6h1v1h-1zM113.4 179.3h1v1h-1zM88.8 233.3h1v1h-1zM121.2 207.5h1v1h-1zM123.9 196.5h1v1h-1zM123.3 205.3h1v1h-1zM120.5 183.9h1v1h-1zM89.9 232.2h1v1h-1zM100.2 236.5h1v1h-1zM86.3 230.4h1v1h-1zM107.7 231.1h1v1h-1zM111.2 227.6h1v1h-1zM104.5 234.6h1v1h-1zM73.2 192.0h1v1h-1zM120.3 218.6h1v1h-1zM120.8 182.1h1v1h-1zM117.8 185.2h1v1h-1zM97.5 237.1h1v1h-1zM81.1 178.4h1v1h-1zM119.4 214.3h1v1h-1zM100.2 234.1h1v1h-1zM87.9 234.9h1v1h-1zM79.0 227.9h1v1h-1zM83.6 227.1h1v1h-1zM82.7 231.7h1v1h-1zM96.1 173.4h1v1h-1zM80.8 181.7h1v1h-1zM82.0 180.5h1v1h-1zM91.4 171.9h1v1h-1zM77.2 185.9h1v1h-1zM80.2 185.4h1v1h-1zM80.1 229.3h1v1h-1zM85.8 230.8h1v1h-1zM127.1 196.9h1v1h-1zM89.5 232.8h1v1h-1zM108.2 178.7h1v1h-1zM95.0 234.7h1v1h-1zM73.6 201.8h1v1h-1zM87.3 172.0h1v1h-1zM95.0 171.5h1v1h-1zM73.1 208.5h1v1h-1zM74.3 213.2h1v1h-1zM109.0 176.2h1v1h-1zM90.4 176.3h1v1h-1zM115.5 223.4h1v1h-1zM116.3 183.1h1v1h-1zM99.5 234.3h1v1h-1zM84.5 235.8h1v1h-1zM76.1 192.4h1v1h-1zM71.0 188.1h1v1h-1zM120.2 182.3h1v1h-1zM105.3 237.5h1v1h-1zM73.0 213.2h1v1h-1zM117.7 223.6h1v1h-1zM74.7 189.6h1v1h-1zM107.8 232.5h1v1h-1zM88.7 234.2h1v1h-1zM118.4 219.8h1v1h-1zM92.4 234.5h1v1h-1zM74.6 206.1h1v1h-1zM74.2 207.6h1v1h-1zM106.8 233.4h1v1h-1zM74.3 211.0h1v1h-1zM77.3 224.8h1v1h-1zM111.7 179.7h1v1h-1zM93.0 236.6h1v1h-1zM113.7 228.6h1v1h-1zM72.5 200.5h1v1h-1zM80.9 184.3h1v1h-1zM120.5 198.8h1v1h-1zM118.2 193.2h1v1h-1zM104.2 174.6h1v1h-1zM118.3 220.0h1v1h-1zM121.3 197.5h1v1h-1zM113.5 227.4h1v1h-1zM113.0 225.5h1v1h-1zM92.9 175.5h1v1h-1zM121.6 203.1h1v1h-1zM111.1 228.5h1v1h-1zM97.0 235.8h1v1h-1zM74.7 184.4h1v1h-1zM106.7 177.4h1v1h-1zM119.9 196.2h1v1h-1zM91.9 234.0h1v1h-1zM115.5 228.6h1v1h-1zM92.4 174.2h1v1h-1zM100.0 175.4h1v1h-1zM110.1 238.7h1v1h-1zM80.0 229.4h1v1h-1zM74.7 204.3h1v1h-1zM97.6 235.4h1v1h-1zM121.2 219.8h1v1h-1zM109.2 176.1h1v1h-1zM114.4 182.4h1v1h-1z" fill="#111" opacity="0.55"/>
<ellipse cx="68.8" cy="234" rx="16.9" ry="16.0" fill="url(#sg2)"/>
<ellipse cx="68.8" cy="234" rx="2.6" ry="2.5" fill="none" stroke="#555" stroke-width="0.5"/>
<ellipse cx="68.8" cy="234" rx="4.5" ry="4.2" fill="none" stroke="#555" stroke-width="0.5"/>
<ellipse cx="68.8" cy="234" rx="6.3" ry="6.0" fill="none" stroke="#555" stroke-width="0.5"/>
<g transform="rotate(6 95.3 205)">
<ellipse cx="95.3" cy="205" rx="15.7" ry="21.2" fill="url(#ig2)" stroke="#f4f4f4" stroke-width="1.3"/>
<ellipse cx="95.3" cy="206.8" rx="1.6" ry="2.1" fill="none" stroke="#3a3a3a" stroke-width="0.45" opacity="0.8"/>
<ellipse cx="95.3" cy="206.6" rx="3.1" ry="4.2" fill="none" stroke="#3a3a3a" stroke-width="0.45" opacity="0.8"/>
<ellipse cx="95.3" cy="206.4" rx="4.7" ry="6.4" fill="none" stroke="#3a3a3a" stroke-width="0.45" opacity="0.8"/>
<ellipse cx="95.3" cy="206.2" rx="6.3" ry="8.5" fill="none" stroke="#3a3a3a" stroke-width="0.45" opacity="0.8"/>
<ellipse cx="95.3" cy="206.0" rx="7.8" ry="10.6" fill="none" stroke="#3a3a3a" stroke-width="0.45" opacity="0.8"/>
<ellipse cx="95.3" cy="205.8" rx="9.4" ry="12.7" fill="none" stroke="#3a3a3a" stroke-width="0.45" opacity="0.8"/>
<ellipse cx="95.3" cy="205.6" rx="11.0" ry="14.8" fill="none" stroke="#3a3a3a" stroke-width="0.45" opacity="0.8"/>
<ellipse cx="95.3" cy="205.4" rx="12.6" ry="17.0" fill="none" stroke="#3a3a3a" stroke-width="0.45" opacity="0.8"/>
<ellipse cx="95.3" cy="205.2" rx="14.1" ry="19.1" fill="none" stroke="#3a3a3a" stroke-width="0.45" opacity="0.8"/>
</g>
<ellipse cx="94.3" cy="208.3" rx="1.7" ry="1.7" fill="#fff" stroke="#222" stroke-width="0.9"/>
<ellipse cx="97.6" cy="204.4" rx="21.2" ry="28.1" fill="none" stroke="#2a80c0" stroke-width="2.1" transform="rotate(6 97.6 204.4)"/>
<path d="M119.5 216.6H285.4" stroke="#1a6fab" stroke-width="1.5"/>
<path d="M293.4 216.6L285.0 212.4V220.79999999999998Z" fill="#1a6fab"/>
<path d="M53.8 251.7v2.5M56.9 251.7v1.5M60.0 251.7v1.5M63.1 251.7v1.5M66.2 251.7v1.5M69.3 251.7v2.5M72.4 251.7v1.5M75.5 251.7v1.5M78.7 251.7v1.5M81.8 251.7v1.5M84.9 251.7v2.5M88.0 251.7v1.5M91.1 251.7v1.5M94.2 251.7v1.5M97.3 251.7v1.5M100.4 251.7v2.5M103.5 251.7v1.5M106.6 251.7v1.5M109.7 251.7v1.5M112.8 251.7v1.5M115.9 251.7v2.5M119.0 251.7v1.5M122.2 251.7v1.5M125.3 251.7v1.5M128.4 251.7v1.5M131.5 251.7v2.5M134.6 251.7v1.5M137.7 251.7v1.5M140.8 251.7v1.5M143.9 251.7v1.5M50.8 159.2h-2.5M50.8 163.9h-1.5M50.8 168.6h-1.5M50.8 173.3h-1.5M50.8 178.0h-1.5M50.8 182.8h-2.5M50.8 187.5h-1.5M50.8 192.2h-1.5M50.8 196.9h-1.5M50.8 201.6h-1.5M50.8 206.3h-2.5M50.8 211.0h-1.5M50.8 215.7h-1.5M50.8 220.4h-1.5M50.8 225.1h-1.5M50.8 229.9h-2.5M50.8 234.6h-1.5M50.8 239.3h-1.5M50.8 244.0h-1.5M50.8 248.7h-1.5" stroke="#555" stroke-width="0.6"/>
<rect x="65.8" y="250.2" width="7" height="2.5" fill="#333"/>
<text x="44.8" y="69.7" font-size="10.5" text-anchor="middle" fill="#111" stroke="#111" stroke-width="0.28" transform="rotate(-90 44.8 69.7)">CD5</text>
<text x="100.1" y="130" font-size="10.6" text-anchor="middle" fill="#111" stroke="#111" stroke-width="0.28">CD3</text>
<text x="44.8" y="204.7" font-size="10.5" text-anchor="middle" fill="#111" stroke="#111" stroke-width="0.28" transform="rotate(-90 44.8 204.7)">CD5</text>
<text x="98.2" y="265.5" font-size="10.6" text-anchor="middle" fill="#111" stroke="#111" stroke-width="0.28">CD3</text>
<text x="221" y="78.6" font-size="10.5" text-anchor="middle" fill="#111" stroke="#111" stroke-width="0.28">normal T cells</text>
<text x="220" y="199.6" font-size="10.6" text-anchor="middle" fill="#111" stroke="#111" stroke-width="0.28">tumor infiltrating</text>
<text x="220.5" y="211.6" font-size="10.6" text-anchor="middle" fill="#111" stroke="#111" stroke-width="0.28">T cells (TILs)</text>
<defs><linearGradient id="cb" x1="0" x2="1" y1="0" y2="0"><stop offset="0" stop-color="#000"/><stop offset="0.1" stop-color="#141400"/><stop offset="0.25" stop-color="#5e5e00"/><stop offset="0.38" stop-color="#dede00"/><stop offset="0.5" stop-color="#ffff10"/><stop offset="0.72" stop-color="#ffff60"/><stop offset="1" stop-color="#ffffd8"/></linearGradient></defs>
<rect x="188.6" y="23.9" width="68" height="12" fill="url(#cb)" stroke="#000" stroke-width="1"/>
<path d="M188.8 36v2.5M222.7 36v2.5M256.4 36v2.5" stroke="#000" stroke-width="0.8"/>
<text x="224.3" y="9.1" font-size="9.7" text-anchor="middle" fill="#111" stroke="#111" stroke-width="0.28">Phosphorylation</text>
<text x="223.6" y="19.5" font-size="9.7" text-anchor="middle" fill="#111" stroke="#111" stroke-width="0.28">(fold change)</text>
<text x="190.1" y="47.6" font-size="9.3" text-anchor="middle" fill="#111" stroke="#111" stroke-width="0.28">0</text>
<text x="227.5" y="47.6" font-size="9.3" text-anchor="middle" fill="#111" stroke="#111" stroke-width="0.28">1.25</text>
<text x="255.7" y="47.6" font-size="9.3" text-anchor="middle" fill="#111" stroke="#111" stroke-width="0.28">2.5</text>
<rect x="298" y="2" width="82.19999999999999" height="121.2" fill="none" stroke="#888" stroke-width="1.1"/>
<path d="M300.8 123.2v2.6M303.6 123.2v2.6M305.9 123.2v2.6M307.8 123.2v2.6M309.4 123.2v2.6M310.9 123.2v2.6M312.2 123.2v4.5M320.8 123.2v2.6M325.8 123.2v2.6M329.4 123.2v2.6M332.2 123.2v2.6M334.5 123.2v2.6M336.4 123.2v2.6M338.0 123.2v2.6M339.5 123.2v2.6M340.8 123.2v4.5M349.4 123.2v2.6M354.4 123.2v2.6M358.0 123.2v2.6M360.8 123.2v2.6M363.1 123.2v2.6M365.0 123.2v2.6M366.6 123.2v2.6M368.1 123.2v2.6M369.4 123.2v4.5M378.0 123.2v2.6" stroke="#444" stroke-width="0.8"/>
<rect x="308.8" y="125.2" width="10.4" height="3" fill="#222"/>
<path d="M303.3 83.4L305.0 81.5L307.0 77.0L310.0 67.0L312.7 57.7L315.0 47.0L317.0 38.5L319.0 28.0L320.8 19.2L322.3 14.0L323.5 11.8L324.5 12.5L325.2 14.0L326.2 19.2L327.5 28.0L328.5 38.5L329.6 48.0L330.8 57.7L332.5 68.0L334.2 76.9L335.8 81.5L337.3 83.4Z" fill="#000" stroke="none" stroke-width="0.8" stroke-linejoin="round"/>
<path d="M298 83.4H380.2" stroke="#888" stroke-width="1.1"/>
<path d="M307.5 103.4L309.5 101.4L312.0 100.8L318.0 100.8L326.0 100.4L331.0 97.5L334.2 95.8L337.0 92.0L340.0 85.0L342.9 76.9L345.5 67.0L347.7 57.7L349.7 48.0L351.5 38.5L353.5 34.0L355.6 32.4L357.0 33.5L357.9 38.5L358.8 48.0L359.6 57.7L360.5 67.0L361.5 76.9L362.7 86.0L364.0 96.2L365.0 101.0L366.2 103.4Z" fill="#fffaa8" stroke="#4a4a20" stroke-width="0.9" stroke-linejoin="round"/>
<path d="M298 103.4H380.2" stroke="#888" stroke-width="1.1"/>
<path d="M301.3 123.2L303.0 121.0L305.4 115.4L308.5 106.0L311.5 96.2L314.0 86.0L316.0 76.9L318.5 68.0L321.0 61.0L322.5 57.2L324.2 55.5L325.5 57.2L327.0 63.0L328.2 70.0L329.4 76.9L331.0 87.0L332.3 96.2L333.8 106.0L335.2 115.4L336.5 121.0L338.2 123.2Z" fill="#141408" stroke="none" stroke-width="0.8" stroke-linejoin="round"/>
<rect x="387.7" y="2" width="82.5" height="121.2" fill="none" stroke="#888" stroke-width="1.1"/>
<path d="M390.5 123.2v2.6M393.3 123.2v2.6M395.6 123.2v2.6M397.5 123.2v2.6M399.1 123.2v2.6M400.6 123.2v2.6M401.9 123.2v4.5M410.5 123.2v2.6M415.5 123.2v2.6M419.1 123.2v2.6M421.9 123.2v2.6M424.2 123.2v2.6M426.1 123.2v2.6M427.7 123.2v2.6M429.2 123.2v2.6M430.5 123.2v4.5M439.1 123.2v2.6M444.1 123.2v2.6M447.7 123.2v2.6M450.5 123.2v2.6M452.8 123.2v2.6M454.7 123.2v2.6M456.3 123.2v2.6M457.8 123.2v2.6M459.1 123.2v4.5M467.7 123.2v2.6" stroke="#444" stroke-width="0.8"/>
<rect x="398.5" y="125.2" width="10.4" height="3" fill="#222"/>
<path d="M396.3 83.4L398.3 76.9L401.0 67.0L404.0 57.7L406.5 48.0L408.8 38.5L410.6 29.0L412.3 19.2L413.4 14.0L414.2 12.3L415.2 14.0L416.5 19.2L418.0 29.0L419.4 38.5L421.0 46.0L423.0 52.0L425.2 57.7L427.0 62.5L429.0 67.3L431.5 72.0L433.8 76.9L435.8 80.3L437.6 83.4Z" fill="#000" stroke="none" stroke-width="0.8" stroke-linejoin="round"/>
<path d="M387.7 83.4H470.2" stroke="#888" stroke-width="1.1"/>
<path d="M396.0 103.4L397.5 99.0L399.8 92.3L402.7 84.6L406.0 76.0L409.0 70.0L412.0 66.0L414.5 64.5L417.0 66.0L420.0 70.0L423.0 74.0L426.0 77.0L429.0 80.0L431.0 84.6L432.3 92.3L433.2 99.0L433.8 103.4Z" fill="#000" stroke="none" stroke-width="0.8" stroke-linejoin="round"/>
<path d="M387.7 103.4H470.2" stroke="#888" stroke-width="1.1"/>
<path d="M395.5 123.2L398.0 121.8L402.0 120.2L406.0 118.3L410.0 116.4L414.6 115.3L418.0 116.3L420.4 117.1L423.5 115.8L426.2 113.5L428.5 111.0L430.4 107.7L432.2 102.5L433.8 96.2L435.0 90.5L436.2 84.6L437.2 79.0L438.1 73.1L438.9 67.0L439.6 61.5L440.4 56.0L441.2 53.3L442.0 56.0L442.5 61.5L443.2 69.0L444.0 76.9L444.7 84.6L445.4 92.3L446.1 100.0L446.9 107.7L447.6 113.0L448.3 117.3L449.5 120.8L451.0 123.2Z" fill="#f4f030" stroke="#5a5a10" stroke-width="0.9" stroke-linejoin="round"/>
<rect x="298" y="132.3" width="82.19999999999999" height="121.1" fill="none" stroke="#888" stroke-width="1.1"/>
<path d="M300.8 253.4v2.6M303.6 253.4v2.6M305.9 253.4v2.6M307.8 253.4v2.6M309.4 253.4v2.6M310.9 253.4v2.6M312.2 253.4v4.5M320.8 253.4v2.6M325.8 253.4v2.6M329.4 253.4v2.6M332.2 253.4v2.6M334.5 253.4v2.6M336.4 253.4v2.6M338.0 253.4v2.6M339.5 253.4v2.6M340.8 253.4v4.5M349.4 253.4v2.6M354.4 253.4v2.6M358.0 253.4v2.6M360.8 253.4v2.6M363.1 253.4v2.6M365.0 253.4v2.6M366.6 253.4v2.6M368.1 253.4v2.6M369.4 253.4v4.5M378.0 253.4v2.6" stroke="#444" stroke-width="0.8"/>
<rect x="308.8" y="255.4" width="10.4" height="3" fill="#222"/>
<path d="M305.4 214.1L306.3 212.7L308.5 205.0L310.8 197.3L312.8 187.5L314.6 178.0L316.3 168.0L317.9 158.8L319.3 151.0L320.4 145.4L321.2 143.0L321.7 142.8L322.3 144.0L323.3 150.0L324.5 160.0L325.5 172.0L326.5 185.0L327.5 200.0L328.5 214.1Z" fill="#000" stroke="none" stroke-width="0.8" stroke-linejoin="round"/>
<path d="M298 214.1H380.2" stroke="#888" stroke-width="1.1"/>
<path d="M306.3 234.0L308.0 229.0L309.5 225.0L311.5 219.0L313.5 212.0L315.5 204.0L317.5 196.0L319.0 186.0L320.0 178.0L321.7 168.5L323.2 166.0L324.2 164.8L325.5 166.5L326.5 169.4L328.5 174.2L330.4 176.7L332.5 177.4L335.2 176.2L337.0 175.6L338.3 174.8L339.6 173.8L341.0 176.2L342.9 179.0L344.8 184.5L346.7 185.8L347.7 191.5L349.6 199.2L351.2 206.9L352.5 216.5L354.4 226.2L356.3 231.0L358.3 234.0Z" fill="#cbc300" stroke="#333300" stroke-width="0.9" stroke-linejoin="round"/>
<path d="M298 234H380.2" stroke="#888" stroke-width="1.1"/>
<path d="M305.0 253.4L307.3 245.4L309.2 235.8L312.7 226.2L314.6 216.5L316.0 206.9L317.3 197.3L318.5 192.0L319.8 187.7L321.0 185.0L322.5 183.6L323.8 186.0L324.7 192.0L325.6 200.0L326.5 206.9L327.5 216.0L328.5 226.2L329.8 236.0L331.3 245.4L333.0 250.5L335.4 253.4Z" fill="#050505" stroke="none" stroke-width="0.8" stroke-linejoin="round"/>
<rect x="387.7" y="132.3" width="82.5" height="121.1" fill="none" stroke="#888" stroke-width="1.1"/>
<path d="M390.5 253.4v2.6M393.3 253.4v2.6M395.6 253.4v2.6M397.5 253.4v2.6M399.1 253.4v2.6M400.6 253.4v2.6M401.9 253.4v4.5M410.5 253.4v2.6M415.5 253.4v2.6M419.1 253.4v2.6M421.9 253.4v2.6M424.2 253.4v2.6M426.1 253.4v2.6M427.7 253.4v2.6M429.2 253.4v2.6M430.5 253.4v4.5M439.1 253.4v2.6M444.1 253.4v2.6M447.7 253.4v2.6M450.5 253.4v2.6M452.8 253.4v2.6M454.7 253.4v2.6M456.3 253.4v2.6M457.8 253.4v2.6M459.1 253.4v4.5M467.7 253.4v2.6" stroke="#444" stroke-width="0.8"/>
<rect x="398.5" y="255.4" width="10.4" height="3" fill="#222"/>
<path d="M399.2 214.1L400.3 210.0L402.1 197.3L403.5 187.5L404.6 178.0L405.8 168.0L406.9 158.8L408.5 149.2L409.3 145.0L409.8 143.3L410.4 145.0L411.2 149.2L412.0 158.0L412.7 168.5L413.5 178.0L414.2 187.7L416.2 197.3L417.5 206.9L418.5 214.1Z" fill="#000" stroke="none" stroke-width="0.8" stroke-linejoin="round"/>
<path d="M387.7 214.1H470.2" stroke="#888" stroke-width="1.1"/>
<path d="M399.2 234.0L400.8 224.0L402.1 216.0L403.5 207.0L404.6 198.0L405.8 188.0L406.9 180.0L408.5 171.0L409.8 168.0L411.2 171.0L412.7 186.0L414.2 200.0L416.2 212.0L417.5 224.0L418.5 234.0Z" fill="#000" stroke="none" stroke-width="0.8" stroke-linejoin="round"/>
<path d="M387.7 234H470.2" stroke="#888" stroke-width="1.1"/>
<path d="M401.2 253.4L402.7 249.2L405.0 243.5L406.9 237.7L408.8 230.0L410.4 222.3L411.7 214.6L413.1 211.7L414.3 212.3L416.5 210.8L418.5 208.8L420.4 206.9L422.3 201.2L423.8 195.4L425.2 189.6L426.7 184.8L427.7 183.3L428.4 186.0L429.0 189.6L430.0 190.0L431.0 195.4L432.3 203.1L433.8 212.7L435.8 226.2L437.3 237.7L439.2 247.3L441.5 251.8L445.4 253.4Z" fill="#eeea00" stroke="#333300" stroke-width="0.9" stroke-linejoin="round"/>
<text x="472.9" y="77.5" font-size="10.2" text-anchor="start" fill="#111" stroke="#111" stroke-width="0.28">unstim</text>
<text x="472.9" y="98.6" font-size="10.2" text-anchor="start" fill="#111" stroke="#111" stroke-width="0.28">IL-4</text>
<text x="472.9" y="119.8" font-size="10.2" text-anchor="start" fill="#111" stroke="#111" stroke-width="0.28">IL-21</text>
<text x="472.9" y="207.8" font-size="10.2" text-anchor="start" fill="#111" stroke="#111" stroke-width="0.28">unstim</text>
<text x="472.9" y="228.9" font-size="10.2" text-anchor="start" fill="#111" stroke="#111" stroke-width="0.28">IL-4</text>
<text x="472.9" y="250.60000000000002" font-size="10.2" text-anchor="start" fill="#111" stroke="#111" stroke-width="0.28">IL-21</text>
<text x="339.3" y="270.2" font-size="10.3" text-anchor="middle" fill="#111" stroke="#111" stroke-width="0.28">p-STAT6</text>
<text x="426.6" y="270.2" font-size="10.3" text-anchor="middle" fill="#111" stroke="#111" stroke-width="0.28">p-STAT3</text>
<text x="3" y="304" font-size="24" text-anchor="start" fill="#000" font-weight="bold">B</text>
<path d="M50.3 304.1V511.4" stroke="#111" stroke-width="1.6" fill="none"/>
<path d="M44.3 511.4H247.4" stroke="#111" stroke-width="1.6" fill="none"/>
<path d="M44.3 511.4H50.3" stroke="#111" stroke-width="1.4"/>
<text x="41.2" y="514.6999999999999" font-size="9.4" text-anchor="end" fill="#222" stroke="#222" stroke-width="0.12">0.0</text>
<path d="M44.3 478.0H50.3" stroke="#111" stroke-width="1.4"/>
<text x="41.2" y="481.3" font-size="9.4" text-anchor="end" fill="#222" stroke="#222" stroke-width="0.12">0.5</text>
<path d="M44.3 444.6H50.3" stroke="#111" stroke-width="1.4"/>
<text x="41.2" y="447.9" font-size="9.4" text-anchor="end" fill="#222" stroke="#222" stroke-width="0.12">1.0</text>
<path d="M44.3 411.2H50.3" stroke="#111" stroke-width="1.4"/>
<text x="41.2" y="414.5" font-size="9.4" text-anchor="end" fill="#222" stroke="#222" stroke-width="0.12">1.5</text>
<path d="M44.3 377.8H50.3" stroke="#111" stroke-width="1.4"/>
<text x="41.2" y="381.09999999999997" font-size="9.4" text-anchor="end" fill="#222" stroke="#222" stroke-width="0.12">2.0</text>
<path d="M44.3 344.4H50.3" stroke="#111" stroke-width="1.4"/>
<text x="41.2" y="347.7" font-size="9.4" text-anchor="end" fill="#222" stroke="#222" stroke-width="0.12">2.5</text>
<path d="M44.3 311.0H50.3" stroke="#111" stroke-width="1.4"/>
<text x="41.2" y="314.3" font-size="9.4" text-anchor="end" fill="#222" stroke="#222" stroke-width="0.12">3.0</text>
<path d="M70.2 511.4V517.4" stroke="#111" stroke-width="1.4"/>
<text x="77.5" y="520.4" font-size="10.5" text-anchor="end" fill="#222" stroke="#222" stroke-width="0.28" transform="rotate(-90 77.5 520.4)">DLBCL</text>
<path d="M109.4 511.4V517.4" stroke="#111" stroke-width="1.4"/>
<text x="115.8" y="520.4" font-size="10.5" text-anchor="end" fill="#222" stroke="#222" stroke-width="0.28" transform="rotate(-90 115.8 520.4)">MCL</text>
<path d="M148.7 511.4V517.4" stroke="#111" stroke-width="1.4"/>
<text x="156.6" y="520.4" font-size="10.5" text-anchor="end" fill="#222" stroke="#222" stroke-width="0.28" transform="rotate(-90 156.6 520.4)">FL</text>
<path d="M188 511.4V517.4" stroke="#111" stroke-width="1.4"/>
<text x="193.8" y="520.4" font-size="10.5" text-anchor="end" fill="#222" stroke="#222" stroke-width="0.28" transform="rotate(-90 193.8 520.4)">CLL</text>
<path d="M227.3 511.4V517.4" stroke="#111" stroke-width="1.4"/>
<text x="226" y="520.4" font-size="10.5" text-anchor="end" fill="#222" stroke="#222" stroke-width="0.28" transform="rotate(-90 226 520.4)">normal</text>
<text x="238.2" y="520.4" font-size="10.5" text-anchor="end" fill="#222" stroke="#222" stroke-width="0.28" transform="rotate(-90 238.2 520.4)">PBMC</text>
<text x="19.7" y="402" font-size="12.45" text-anchor="middle" fill="#222" stroke="#222" stroke-width="0.28" transform="rotate(-90 19.7 402)">IL-4-induced p-STAT6 (FC)</text>
<path d="M79.7 352.9L84.2 357.4L79.7 361.9L75.2 357.4ZM79.7 365.2L84.2 369.7L79.7 374.2L75.2 369.7ZM69.7 360.0L74.2 364.5L69.7 369.0L65.2 364.5ZM65.4 364.1L69.9 368.6L65.4 373.1L60.9 368.6ZM61.2 368.1L65.7 372.6L61.2 377.1L56.7 372.6ZM69.7 371.3L74.2 375.8L69.7 380.3L65.2 375.8ZM69.7 382.3L74.2 386.8L69.7 391.3L65.2 386.8ZM79.7 381.5L84.2 386.0L79.7 390.5L75.2 386.0ZM60.5 401.5L65.0 406.0L60.5 410.5L56.0 406.0ZM79.7 400.2L84.2 404.7L79.7 409.2L75.2 404.7ZM69.7 409.2L74.2 413.7L69.7 418.2L65.2 413.7ZM69.7 468.4L74.2 472.9L69.7 477.4L65.2 472.9ZM118.9 335.9L123.4 340.4L118.9 344.9L114.4 340.4ZM109.4 341.3L113.9 345.8L109.4 350.3L104.9 345.8ZM104.9 351.0L109.4 355.5L104.9 360.0L100.4 355.5ZM99.9 358.0L104.4 362.5L99.9 367.0L95.4 362.5ZM109.4 359.4L113.9 363.9L109.4 368.4L104.9 363.9ZM118.9 356.4L123.4 360.9L118.9 365.4L114.4 360.9ZM118.9 363.4L123.4 367.9L118.9 372.4L114.4 367.9ZM109.4 369.3L113.9 373.8L109.4 378.3L104.9 373.8ZM99.9 377.4L104.4 381.9L99.9 386.4L95.4 381.9ZM109.4 382.0L113.9 386.5L109.4 391.0L104.9 386.5ZM114.2 386.5L118.7 391.0L114.2 395.5L109.7 391.0ZM118.9 392.5L123.4 397.0L118.9 401.5L114.4 397.0ZM99.9 392.5L104.4 397.0L99.9 401.5L95.4 397.0ZM109.4 395.2L113.9 399.7L109.4 404.2L104.9 399.7ZM104.5 405.9L109.0 410.4L104.5 414.9L100.0 410.4ZM99.9 410.8L104.4 415.3L99.9 419.8L95.4 415.3ZM109.4 414.5L113.9 419.0L109.4 423.5L104.9 419.0ZM118.9 410.2L123.4 414.7L118.9 419.2L114.4 414.7ZM109.5 447.6L114.0 452.1L109.5 456.6L105.0 452.1ZM148.4 398.7L152.9 403.2L148.4 407.7L143.9 403.2ZM148.4 425.2L152.9 429.7L148.4 434.2L143.9 429.7ZM139.2 437.6L143.7 442.1L139.2 446.6L134.7 442.1ZM153.7 433.7L158.2 438.2L153.7 442.7L149.2 438.2ZM157.6 438.9L162.1 443.4L157.6 447.9L153.1 443.4ZM148.4 442.1L152.9 446.6L148.4 451.1L143.9 446.6ZM157.6 450.0L162.1 454.5L157.6 459.0L153.1 454.5ZM139.2 457.9L143.7 462.4L139.2 466.9L134.7 462.4ZM148.4 459.2L152.9 463.7L148.4 468.2L143.9 463.7ZM157.6 462.1L162.1 466.6L157.6 471.1L153.1 466.6ZM148.4 471.3L152.9 475.8L148.4 480.3L143.9 475.8ZM139.2 482.9L143.7 487.4L139.2 491.9L134.7 487.4ZM148.4 485.8L152.9 490.3L148.4 494.8L143.9 490.3ZM148.4 496.8L152.9 501.3L148.4 505.8L143.9 501.3ZM188.0 318.4L192.5 322.9L188.0 327.4L183.5 322.9ZM178.7 330.4L183.2 334.9L178.7 339.4L174.2 334.9ZM197.4 331.4L201.9 335.9L197.4 340.4L192.9 335.9ZM188.0 336.2L192.5 340.7L188.0 345.2L183.5 340.7ZM192.8 340.8L197.3 345.3L192.8 349.8L188.3 345.3ZM183.3 343.0L187.8 347.5L183.3 352.0L178.8 347.5ZM178.7 347.3L183.2 351.8L178.7 356.3L174.2 351.8ZM197.4 347.3L201.9 351.8L197.4 356.3L192.9 351.8ZM188.0 350.9L192.5 355.4L188.0 359.9L183.5 355.4ZM188.0 363.2L192.5 367.7L188.0 372.2L183.5 367.7ZM197.4 361.0L201.9 365.5L197.4 370.0L192.9 365.5ZM188.0 373.7L192.5 378.2L188.0 382.7L183.5 378.2ZM197.4 380.1L201.9 384.6L197.4 389.1L192.9 384.6ZM188.0 387.7L192.5 392.2L188.0 396.7L183.5 392.2ZM218.0 350.2L222.5 354.7L218.0 359.2L213.5 354.7ZM218.0 362.5L222.5 367.0L218.0 371.5L213.5 367.0ZM227.4 358.5L231.9 363.0L227.4 367.5L222.9 363.0ZM232.3 359.6L236.8 364.1L232.3 368.6L227.8 364.1ZM236.7 362.5L241.2 367.0L236.7 371.5L232.2 367.0ZM227.4 368.9L231.9 373.4L227.4 377.9L222.9 373.4Z" fill="#000"/>
<path d="M57 380.5H83.5" stroke="#111" stroke-width="1.5"/>
<path d="M96.5 387H122.3" stroke="#111" stroke-width="1.5"/>
<path d="M135.3 458.4H162.1" stroke="#111" stroke-width="1.5"/>
<path d="M180 350.5H196.7" stroke="#111" stroke-width="1.5"/>
<path d="M220 365.5H240" stroke="#111" stroke-width="1.5"/>
<path d="M68 310.4H147.3M68 305.9V314.9M147.3 305.9V314.9" stroke="#999" stroke-width="1.1" fill="none"/>
<text x="58.4" y="304.4" font-size="9.6" text-anchor="start" fill="#222" stroke="#222" stroke-width="0.35" font-style="italic">p&lt;0.0003</text>
<path d="M107 298H146.5M107 293.5V302.5M146.5 293.5V302.5" stroke="#999" stroke-width="1.1" fill="none"/>
<text x="100.4" y="291.3" font-size="9.6" text-anchor="start" fill="#222" stroke="#222" stroke-width="0.35" font-style="italic">p&lt;0.0001</text>
<path d="M149.5 310.4H187.8M149.5 305.9V314.9M187.8 305.9V314.9" stroke="#999" stroke-width="1.1" fill="none"/>
<text x="152.3" y="304.6" font-size="9.6" text-anchor="start" fill="#222" stroke="#222" stroke-width="0.35" font-style="italic">p&lt;0.0001</text>
<text x="265" y="304" font-size="24" text-anchor="start" fill="#000" font-weight="bold">C</text>
<path d="M311.8 304.4V511.5" stroke="#111" stroke-width="1.6" fill="none"/>
<path d="M305.8 511.5H509" stroke="#111" stroke-width="1.6" fill="none"/>
<path d="M305.8 511.5H311.8" stroke="#111" stroke-width="1.4"/>
<text x="304.5" y="514.8" font-size="9.4" text-anchor="end" fill="#222" stroke="#222" stroke-width="0.12">0.0</text>
<path d="M305.8 478.1H311.8" stroke="#111" stroke-width="1.4"/>
<text x="304.5" y="481.3833333333333" font-size="9.4" text-anchor="end" fill="#222" stroke="#222" stroke-width="0.12">0.5</text>
<path d="M305.8 444.7H311.8" stroke="#111" stroke-width="1.4"/>
<text x="304.5" y="447.9666666666667" font-size="9.4" text-anchor="end" fill="#222" stroke="#222" stroke-width="0.12">1.0</text>
<path d="M305.8 411.2H311.8" stroke="#111" stroke-width="1.4"/>
<text x="304.5" y="414.55" font-size="9.4" text-anchor="end" fill="#222" stroke="#222" stroke-width="0.12">1.5</text>
<path d="M305.8 377.8H311.8" stroke="#111" stroke-width="1.4"/>
<text x="304.5" y="381.1333333333334" font-size="9.4" text-anchor="end" fill="#222" stroke="#222" stroke-width="0.12">2.0</text>
<path d="M305.8 344.4H311.8" stroke="#111" stroke-width="1.4"/>
<text x="304.5" y="347.7166666666667" font-size="9.4" text-anchor="end" fill="#222" stroke="#222" stroke-width="0.12">2.5</text>
<path d="M305.8 311.0H311.8" stroke="#111" stroke-width="1.4"/>
<text x="304.5" y="314.3" font-size="9.4" text-anchor="end" fill="#222" stroke="#222" stroke-width="0.12">3.0</text>
<path d="M331.7 511.5V517.5" stroke="#111" stroke-width="1.4"/>
<text x="337.3" y="520.5" font-size="10.5" text-anchor="end" fill="#222" stroke="#222" stroke-width="0.28" transform="rotate(-90 337.3 520.5)">DLBCL</text>
<path d="M371 511.5V517.5" stroke="#111" stroke-width="1.4"/>
<text x="375.8" y="520.5" font-size="10.5" text-anchor="end" fill="#222" stroke="#222" stroke-width="0.28" transform="rotate(-90 375.8 520.5)">MCL</text>
<path d="M410.8 511.5V517.5" stroke="#111" stroke-width="1.4"/>
<text x="416.1" y="520.5" font-size="10.5" text-anchor="end" fill="#222" stroke="#222" stroke-width="0.28" transform="rotate(-90 416.1 520.5)">FL</text>
<path d="M450.2 511.5V517.5" stroke="#111" stroke-width="1.4"/>
<text x="453.7" y="520.5" font-size="10.5" text-anchor="end" fill="#222" stroke="#222" stroke-width="0.28" transform="rotate(-90 453.7 520.5)">CLL</text>
<path d="M489.5 511.5V517.5" stroke="#111" stroke-width="1.4"/>
<text x="486.4" y="520.5" font-size="10.5" text-anchor="end" fill="#222" stroke="#222" stroke-width="0.28" transform="rotate(-90 486.4 520.5)">normal</text>
<text x="498.6" y="520.5" font-size="10.5" text-anchor="end" fill="#222" stroke="#222" stroke-width="0.28" transform="rotate(-90 498.6 520.5)">PBMC</text>
<text x="282" y="414.2" font-size="12.45" text-anchor="middle" fill="#222" stroke="#222" stroke-width="0.28" transform="rotate(-90 282 414.2)">IL-10-induced p-STAT3&#160; (FC)</text>
<path d="M331.3 360.8L335.8 365.3L331.3 369.8L326.8 365.3ZM341.0 368.1L345.5 372.6L341.0 377.1L336.5 372.6ZM322.1 372.3L326.6 376.8L322.1 381.3L317.6 376.8ZM331.3 372.3L335.8 376.8L331.3 381.3L326.8 376.8ZM331.3 385.5L335.8 390.0L331.3 394.5L326.8 390.0ZM322.1 395.0L326.6 399.5L322.1 404.0L317.6 399.5ZM331.3 395.5L335.8 400.0L331.3 404.5L326.8 400.0ZM331.3 425.2L335.8 429.7L331.3 434.2L326.8 429.7ZM331.3 452.9L335.8 457.4L331.3 461.9L326.8 457.4ZM322.1 482.3L326.6 486.8L322.1 491.3L317.6 486.8ZM341.0 482.9L345.5 487.4L341.0 491.9L336.5 487.4ZM331.3 486.8L335.8 491.3L331.3 495.8L326.8 491.3ZM371.1 362.5L375.6 367.0L371.1 371.5L366.6 367.0ZM380.4 362.1L384.9 366.6L380.4 371.1L375.9 366.6ZM366.4 368.4L370.9 372.9L366.4 377.4L361.9 372.9ZM361.6 375.0L366.1 379.5L361.6 384.0L357.1 379.5ZM380.4 374.4L384.9 378.9L380.4 383.4L375.9 378.9ZM371.1 377.5L375.6 382.0L371.1 386.5L366.6 382.0ZM371.1 388.2L375.6 392.7L371.1 397.2L366.6 392.7ZM380.4 390.5L384.9 395.0L380.4 399.5L375.9 395.0ZM361.6 394.3L366.1 398.8L361.6 403.3L357.1 398.8ZM371.1 398.9L375.6 403.4L371.1 407.9L366.6 403.4ZM361.6 407.4L366.1 411.9L361.6 416.4L357.1 411.9ZM375.8 405.8L380.3 410.3L375.8 414.8L371.3 410.3ZM380.4 412.1L384.9 416.6L380.4 421.1L375.9 416.6ZM371.1 413.4L375.6 417.9L371.1 422.4L366.6 417.9ZM361.6 428.5L366.1 433.0L361.6 437.5L357.1 433.0ZM371.1 429.7L375.6 434.2L371.1 438.7L366.6 434.2ZM380.4 438.3L384.9 442.8L380.4 447.3L375.9 442.8ZM371.1 447.1L375.6 451.6L371.1 456.1L366.6 451.6ZM410.5 407.3L415.0 411.8L410.5 416.3L406.0 411.8ZM401.0 420.5L405.5 425.0L401.0 429.5L396.5 425.0ZM401.0 427.9L405.5 432.4L401.0 436.9L396.5 432.4ZM410.5 425.0L415.0 429.5L410.5 434.0L406.0 429.5ZM410.5 434.2L415.0 438.7L410.5 443.2L406.0 438.7ZM420.3 434.5L424.8 439.0L420.3 443.5L415.8 439.0ZM401.0 442.3L405.5 446.8L401.0 451.3L396.5 446.8ZM410.5 445.5L415.0 450.0L410.5 454.5L406.0 450.0ZM420.3 450.8L424.8 455.3L420.3 459.8L415.8 455.3ZM410.5 457.3L415.0 461.8L410.5 466.3L406.0 461.8ZM410.5 469.2L415.0 473.7L410.5 478.2L406.0 473.7ZM401.0 485.0L405.5 489.5L401.0 494.0L396.5 489.5ZM410.5 490.8L415.0 495.3L410.5 499.8L406.0 495.3ZM420.3 490.2L424.8 494.7L420.3 499.2L415.8 494.7ZM449.5 370.9L454.0 375.4L449.5 379.9L445.0 375.4ZM454.6 373.2L459.1 377.7L454.6 382.2L450.1 377.7ZM441.5 376.0L446.0 380.5L441.5 385.0L437.0 380.5ZM449.5 380.1L454.0 384.6L449.5 389.1L445.0 384.6ZM459.2 380.1L463.7 384.6L459.2 389.1L454.7 384.6ZM441.5 386.3L446.0 390.8L441.5 395.3L437.0 390.8ZM459.2 385.2L463.7 389.7L459.2 394.2L454.7 389.7ZM450.0 393.2L454.5 397.7L450.0 402.2L445.5 397.7ZM454.6 395.5L459.1 400.0L454.6 404.5L450.1 400.0ZM459.2 398.5L463.7 403.0L459.2 407.5L454.7 403.0ZM441.5 397.8L446.0 402.3L441.5 406.8L437.0 402.3ZM449.5 404.0L454.0 408.5L449.5 413.0L445.0 408.5ZM449.5 416.3L454.0 420.8L449.5 425.3L445.0 420.8ZM449.5 429.3L454.0 433.8L449.5 438.3L445.0 433.8ZM484.6 385.5L489.1 390.0L484.6 394.5L480.1 390.0ZM498.5 385.8L503.0 390.3L498.5 394.8L494.0 390.3ZM480.0 394.4L484.5 398.9L480.0 403.4L475.5 398.9ZM489.2 394.4L493.7 398.9L489.2 403.4L484.7 398.9ZM489.2 416.0L493.7 420.5L489.2 425.0L484.7 420.5ZM498.5 416.0L503.0 420.5L498.5 425.0L494.0 420.5Z" fill="#000"/>
<path d="M320 399.5H345" stroke="#111" stroke-width="1.5"/>
<path d="M358.2 400.9H384.2" stroke="#111" stroke-width="1.5"/>
<path d="M405.8 448.7H423.7" stroke="#111" stroke-width="1.5"/>
<path d="M437 394.6H463" stroke="#111" stroke-width="1.5"/>
<path d="M478 398.8H502.3" stroke="#111" stroke-width="1.5"/>
<path d="M375 330.2H412.9M375 325.7V334.7M412.9 325.7V334.7" stroke="#999" stroke-width="1.1" fill="none"/>
<text x="368.7" y="325" font-size="9.6" text-anchor="start" fill="#222" stroke="#222" stroke-width="0.35" font-style="italic">p&lt;0.0001</text>
<path d="M413.5 344.6H451.9M413.5 340.1V349.1M451.9 340.1V349.1" stroke="#999" stroke-width="1.1" fill="none"/>
<text x="417.7" y="337.1" font-size="9.6" text-anchor="start" fill="#222" stroke="#222" stroke-width="0.35" font-style="italic">p&lt;0.0001</text>
<text x="4" y="578.5" font-size="24" text-anchor="start" fill="#000" font-weight="bold">D</text>
<path d="M50.6 579.4V786.9" stroke="#111" stroke-width="1.6" fill="none"/>
<path d="M44.6 786.9H248" stroke="#111" stroke-width="1.6" fill="none"/>
<path d="M44.6 786.9H50.6" stroke="#111" stroke-width="1.4"/>
<text x="40.3" y="790.1999999999999" font-size="9.4" text-anchor="end" fill="#222" stroke="#222" stroke-width="0.12">0.0</text>
<path d="M44.6 753.5H50.6" stroke="#111" stroke-width="1.4"/>
<text x="40.3" y="756.7666666666667" font-size="9.4" text-anchor="end" fill="#222" stroke="#222" stroke-width="0.12">0.5</text>
<path d="M44.6 720.0H50.6" stroke="#111" stroke-width="1.4"/>
<text x="40.3" y="723.3333333333333" font-size="9.4" text-anchor="end" fill="#222" stroke="#222" stroke-width="0.12">1.0</text>
<path d="M44.6 686.6H50.6" stroke="#111" stroke-width="1.4"/>
<text x="40.3" y="689.8999999999999" font-size="9.4" text-anchor="end" fill="#222" stroke="#222" stroke-width="0.12">1.5</text>
<path d="M44.6 653.2H50.6" stroke="#111" stroke-width="1.4"/>
<text x="40.3" y="656.4666666666666" font-size="9.4" text-anchor="end" fill="#222" stroke="#222" stroke-width="0.12">2.0</text>
<path d="M44.6 619.7H50.6" stroke="#111" stroke-width="1.4"/>
<text x="40.3" y="623.0333333333333" font-size="9.4" text-anchor="end" fill="#222" stroke="#222" stroke-width="0.12">2.5</text>
<path d="M44.6 586.3H50.6" stroke="#111" stroke-width="1.4"/>
<text x="40.3" y="589.5999999999999" font-size="9.4" text-anchor="end" fill="#222" stroke="#222" stroke-width="0.12">3.0</text>
<path d="M70.2 786.9V792.9" stroke="#111" stroke-width="1.4"/>
<text x="77.1" y="795.9" font-size="10.5" text-anchor="end" fill="#222" stroke="#222" stroke-width="0.28" transform="rotate(-90 77.1 795.9)">DLBCL</text>
<path d="M109.5 786.9V792.9" stroke="#111" stroke-width="1.4"/>
<text x="115.3" y="795.9" font-size="10.5" text-anchor="end" fill="#222" stroke="#222" stroke-width="0.28" transform="rotate(-90 115.3 795.9)">MCL</text>
<path d="M149.3 786.9V792.9" stroke="#111" stroke-width="1.4"/>
<text x="156.0" y="795.9" font-size="10.5" text-anchor="end" fill="#222" stroke="#222" stroke-width="0.28" transform="rotate(-90 156.0 795.9)">FL</text>
<path d="M188.6 786.9V792.9" stroke="#111" stroke-width="1.4"/>
<text x="193.2" y="795.9" font-size="10.5" text-anchor="end" fill="#222" stroke="#222" stroke-width="0.28" transform="rotate(-90 193.2 795.9)">CLL</text>
<path d="M228 786.9V792.9" stroke="#111" stroke-width="1.4"/>
<text x="226" y="795.9" font-size="10.5" text-anchor="end" fill="#222" stroke="#222" stroke-width="0.28" transform="rotate(-90 226 795.9)">normal</text>
<text x="238.2" y="795.9" font-size="10.5" text-anchor="end" fill="#222" stroke="#222" stroke-width="0.28" transform="rotate(-90 238.2 795.9)">PBMC</text>
<text x="19.6" y="685.2" font-size="12.45" text-anchor="middle" fill="#222" stroke="#222" stroke-width="0.28" transform="rotate(-90 19.6 685.2)">IL-21-induced p-STAT3 (FC)</text>
<path d="M70.0 634.7L74.5 639.2L70.0 643.7L65.5 639.2ZM60.8 649.7L65.3 654.2L60.8 658.7L56.3 654.2ZM70.0 650.2L74.5 654.7L70.0 659.2L65.5 654.7ZM79.7 649.7L84.2 654.2L79.7 658.7L75.2 654.2ZM70.0 674.7L74.5 679.2L70.0 683.7L65.5 679.2ZM60.8 678.9L65.3 683.4L60.8 687.9L56.3 683.4ZM70.0 688.7L74.5 693.2L70.0 697.7L65.5 693.2ZM79.7 685.2L84.2 689.7L79.7 694.2L75.2 689.7ZM60.8 702.3L65.3 706.8L60.8 711.3L56.3 706.8ZM70.0 708.4L74.5 712.9L70.0 717.4L65.5 712.9ZM79.7 737.1L84.2 741.6L79.7 746.1L75.2 741.6ZM70.0 741.8L74.5 746.3L70.0 750.8L65.5 746.3ZM109.8 649.8L114.3 654.3L109.8 658.8L105.3 654.3ZM100.1 656.8L104.6 661.3L100.1 665.8L95.6 661.3ZM118.9 657.8L123.4 662.3L118.9 666.8L114.4 662.3ZM109.8 662.7L114.3 667.2L109.8 671.7L105.3 667.2ZM114.1 666.6L118.6 671.1L114.1 675.6L109.6 671.1ZM105.2 668.9L109.7 673.4L105.2 677.9L100.7 673.4ZM100.1 675.1L104.6 679.6L100.1 684.1L95.6 679.6ZM118.9 673.6L123.4 678.1L118.9 682.6L114.4 678.1ZM109.8 676.3L114.3 680.8L109.8 685.3L105.3 680.8ZM100.1 686.0L104.6 690.5L100.1 695.0L95.6 690.5ZM118.9 686.0L123.4 690.5L118.9 695.0L114.4 690.5ZM109.8 686.0L114.3 690.5L109.8 695.0L105.3 690.5ZM100.1 696.1L104.6 700.6L100.1 705.1L95.6 700.6ZM105.2 691.1L109.7 695.6L105.2 700.1L100.7 695.6ZM114.1 690.3L118.6 694.8L114.1 699.3L109.6 694.8ZM118.9 695.0L123.4 699.5L118.9 704.0L114.4 699.5ZM109.8 697.3L114.3 701.8L109.8 706.3L105.3 701.8ZM109.5 726.5L114.0 731.0L109.5 735.5L105.0 731.0ZM149.1 688.9L153.6 693.4L149.1 697.9L144.6 693.4ZM149.1 706.6L153.6 711.1L149.1 715.6L144.6 711.1ZM158.6 705.2L163.1 709.7L158.6 714.2L154.1 709.7ZM144.0 714.7L148.5 719.2L144.0 723.7L139.5 719.2ZM139.3 719.4L143.8 723.9L139.3 728.4L134.8 723.9ZM153.7 713.2L158.2 717.7L153.7 722.2L149.2 717.7ZM158.6 716.7L163.1 721.2L158.6 725.7L154.1 721.2ZM149.1 721.0L153.6 725.5L149.1 730.0L144.6 725.5ZM139.3 727.2L143.8 731.7L139.3 736.2L134.8 731.7ZM158.6 727.2L163.1 731.7L158.6 736.2L154.1 731.7ZM149.1 732.5L153.6 737.0L149.1 741.5L144.6 737.0ZM149.0 761.5L153.5 766.0L149.0 770.5L144.5 766.0ZM158.4 767.6L162.9 772.1L158.4 776.6L153.9 772.1ZM149.0 772.1L153.5 776.6L149.0 781.1L144.5 776.6ZM188.5 652.0L193.0 656.5L188.5 661.0L184.0 656.5ZM188.5 668.2L193.0 672.7L188.5 677.2L184.0 672.7ZM179.2 674.0L183.7 678.5L179.2 683.0L174.7 678.5ZM198.2 674.0L202.7 678.5L198.2 683.0L193.7 678.5ZM188.5 677.4L193.0 681.9L188.5 686.4L184.0 681.9ZM183.8 679.7L188.3 684.2L183.8 688.7L179.3 684.2ZM179.2 681.3L183.7 685.8L179.2 690.3L174.7 685.8ZM198.2 680.2L202.7 684.7L198.2 689.2L193.7 684.7ZM188.5 689.0L193.0 693.5L188.5 698.0L184.0 693.5ZM179.2 697.1L183.7 701.6L179.2 706.1L174.7 701.6ZM188.5 700.2L193.0 704.7L188.5 709.2L184.0 704.7ZM198.2 699.4L202.7 703.9L198.2 708.4L193.7 703.9ZM188.5 715.9L193.0 720.4L188.5 724.9L184.0 720.4ZM188.5 732.8L193.0 737.3L188.5 741.8L184.0 737.3ZM228.2 667.0L232.7 671.5L228.2 676.0L223.7 671.5ZM237.4 674.7L241.9 679.2L237.4 683.7L232.9 679.2ZM218.9 679.7L223.4 684.2L218.9 688.7L214.4 684.2ZM228.2 680.2L232.7 684.7L228.2 689.2L223.7 684.7ZM237.4 687.9L241.9 692.4L237.4 696.9L232.9 692.4ZM228.2 694.3L232.7 698.8L228.2 703.3L223.7 698.8Z" fill="#000"/>
<path d="M56.8 686.6H83.2" stroke="#111" stroke-width="1.5"/>
<path d="M96.6 685.6H122.7" stroke="#111" stroke-width="1.5"/>
<path d="M144 725.1H162.3" stroke="#111" stroke-width="1.5"/>
<path d="M178 684.2H196" stroke="#111" stroke-width="1.5"/>
<path d="M222 684.2H241.5" stroke="#111" stroke-width="1.5"/>
<path d="M70.2 620.2H149.4M70.2 615.7V624.7M149.4 615.7V624.7" stroke="#999" stroke-width="1.1" fill="none"/>
<text x="63.8" y="613.8" font-size="9.6" text-anchor="start" fill="#222" stroke="#222" stroke-width="0.35" font-style="italic">p&lt;0.004</text>
<path d="M109.7 608H148.8M109.7 603.5V612.5M148.8 603.5V612.5" stroke="#999" stroke-width="1.1" fill="none"/>
<text x="106.8" y="600.9" font-size="9.6" text-anchor="start" fill="#222" stroke="#222" stroke-width="0.35" font-style="italic">p&lt;0.0001</text>
<path d="M151.7 620.2H189.8M151.7 615.7V624.7M189.8 615.7V624.7" stroke="#999" stroke-width="1.1" fill="none"/>
<text x="155.2" y="613.8" font-size="9.6" text-anchor="start" fill="#222" stroke="#222" stroke-width="0.35" font-style="italic">p&lt;0.0002</text>
<text x="265" y="578.5" font-size="24" text-anchor="start" fill="#000" font-weight="bold">E</text>
<path d="M312.4 579.7V787.3" stroke="#111" stroke-width="1.6" fill="none"/>
<path d="M306.4 787.3H509.9" stroke="#111" stroke-width="1.6" fill="none"/>
<path d="M306.4 787.3H312.4" stroke="#111" stroke-width="1.4"/>
<text x="305.5" y="790.5999999999999" font-size="9.4" text-anchor="end" fill="#222" stroke="#222" stroke-width="0.12">0.0</text>
<path d="M306.4 753.8H312.4" stroke="#111" stroke-width="1.4"/>
<text x="305.5" y="757.0999999999999" font-size="9.4" text-anchor="end" fill="#222" stroke="#222" stroke-width="0.12">0.5</text>
<path d="M306.4 720.3H312.4" stroke="#111" stroke-width="1.4"/>
<text x="305.5" y="723.5999999999999" font-size="9.4" text-anchor="end" fill="#222" stroke="#222" stroke-width="0.12">1.0</text>
<path d="M306.4 686.8H312.4" stroke="#111" stroke-width="1.4"/>
<text x="305.5" y="690.0999999999999" font-size="9.4" text-anchor="end" fill="#222" stroke="#222" stroke-width="0.12">1.5</text>
<path d="M306.4 653.3H312.4" stroke="#111" stroke-width="1.4"/>
<text x="305.5" y="656.5999999999999" font-size="9.4" text-anchor="end" fill="#222" stroke="#222" stroke-width="0.12">2.0</text>
<path d="M306.4 619.8H312.4" stroke="#111" stroke-width="1.4"/>
<text x="305.5" y="623.0999999999999" font-size="9.4" text-anchor="end" fill="#222" stroke="#222" stroke-width="0.12">2.5</text>
<path d="M306.4 586.3H312.4" stroke="#111" stroke-width="1.4"/>
<text x="305.5" y="589.5999999999999" font-size="9.4" text-anchor="end" fill="#222" stroke="#222" stroke-width="0.12">3.0</text>
<path d="M332.2 787.3V793.3" stroke="#111" stroke-width="1.4"/>
<text x="338.0" y="796.3" font-size="10.5" text-anchor="end" fill="#222" stroke="#222" stroke-width="0.28" transform="rotate(-90 338.0 796.3)">DLBCL</text>
<path d="M371.5 787.3V793.3" stroke="#111" stroke-width="1.4"/>
<text x="376.7" y="796.3" font-size="10.5" text-anchor="end" fill="#222" stroke="#222" stroke-width="0.28" transform="rotate(-90 376.7 796.3)">MCL</text>
<path d="M410.8 787.3V793.3" stroke="#111" stroke-width="1.4"/>
<text x="416.9" y="796.3" font-size="10.5" text-anchor="end" fill="#222" stroke="#222" stroke-width="0.28" transform="rotate(-90 416.9 796.3)">FL</text>
<path d="M450.3 787.3V793.3" stroke="#111" stroke-width="1.4"/>
<text x="454.4" y="796.3" font-size="10.5" text-anchor="end" fill="#222" stroke="#222" stroke-width="0.28" transform="rotate(-90 454.4 796.3)">CLL</text>
<path d="M489.7 787.3V793.3" stroke="#111" stroke-width="1.4"/>
<text x="487" y="796.3" font-size="10.5" text-anchor="end" fill="#222" stroke="#222" stroke-width="0.28" transform="rotate(-90 487 796.3)">normal</text>
<text x="499.2" y="796.3" font-size="10.5" text-anchor="end" fill="#222" stroke="#222" stroke-width="0.28" transform="rotate(-90 499.2 796.3)">PBMC</text>
<text x="282" y="682.2" font-size="12.45" text-anchor="middle" fill="#222" stroke="#222" stroke-width="0.28" transform="rotate(-90 282 682.2)">IL-7-induced p-STAT5 (FC)</text>
<path d="M322.6 625.0L327.1 629.5L322.6 634.0L318.1 629.5ZM331.9 625.0L336.4 629.5L331.9 634.0L327.4 629.5ZM341.2 625.0L345.7 629.5L341.2 634.0L336.7 629.5ZM322.6 634.3L327.1 638.8L322.6 643.3L318.1 638.8ZM331.9 636.5L336.4 641.0L331.9 645.5L327.4 641.0ZM331.9 664.7L336.4 669.2L331.9 673.7L327.4 669.2ZM341.2 663.4L345.7 667.9L341.2 672.4L336.7 667.9ZM331.9 710.2L336.4 714.7L331.9 719.2L327.4 714.7ZM331.9 719.7L336.4 724.2L331.9 728.7L327.4 724.2ZM331.9 743.8L336.4 748.3L331.9 752.8L327.4 748.3ZM331.9 754.9L336.4 759.4L331.9 763.9L327.4 759.4ZM380.8 616.2L385.3 620.7L380.8 625.2L376.3 620.7ZM371.4 622.7L375.9 627.2L371.4 631.7L366.9 627.2ZM366.8 626.5L371.3 631.0L366.8 635.5L362.3 631.0ZM362.2 631.1L366.7 635.6L362.2 640.1L357.7 635.6ZM380.8 628.0L385.3 632.5L380.8 637.0L376.3 632.5ZM371.4 633.8L375.9 638.3L371.4 642.8L366.9 638.3ZM362.2 639.0L366.7 643.5L362.2 648.0L357.7 643.5ZM380.8 642.8L385.3 647.3L380.8 651.8L376.3 647.3ZM371.4 648.1L375.9 652.6L371.4 657.1L366.9 652.6ZM380.8 665.9L385.3 670.4L380.8 674.9L376.3 670.4ZM362.2 668.4L366.7 672.9L362.2 677.4L357.7 672.9ZM371.4 670.5L375.9 675.0L371.4 679.5L366.9 675.0ZM371.3 683.4L375.8 687.9L371.3 692.4L366.8 687.9ZM361.6 704.2L366.1 708.7L361.6 713.2L357.1 708.7ZM371.3 712.1L375.8 716.6L371.3 721.1L366.8 716.6ZM371.3 729.5L375.8 734.0L371.3 738.5L366.8 734.0ZM371.3 747.1L375.8 751.6L371.3 756.1L366.8 751.6ZM381.3 747.6L385.8 752.1L381.3 756.6L376.8 752.1ZM371.3 757.6L375.8 762.1L371.3 766.6L366.8 762.1ZM401.8 643.1L406.3 647.6L401.8 652.1L397.3 647.6ZM411.0 650.5L415.5 655.0L411.0 659.5L406.5 655.0ZM411.0 680.0L415.5 684.5L411.0 689.0L406.5 684.5ZM420.3 679.5L424.8 684.0L420.3 688.5L415.8 684.0ZM401.8 695.8L406.3 700.3L401.8 704.8L397.3 700.3ZM411.0 697.1L415.5 701.6L411.0 706.1L406.5 701.6ZM420.3 706.3L424.8 710.8L420.3 715.3L415.8 710.8ZM411.0 707.1L415.5 711.6L411.0 716.1L406.5 711.6ZM401.8 712.9L406.3 717.4L401.8 721.9L397.3 717.4ZM411.0 718.1L415.5 722.6L411.0 727.1L406.5 722.6ZM411.0 727.9L415.5 732.4L411.0 736.9L406.5 732.4ZM411.0 740.0L415.5 744.5L411.0 749.0L406.5 744.5ZM420.3 750.5L424.8 755.0L420.3 759.5L415.8 755.0ZM411.0 756.8L415.5 761.3L411.0 765.8L406.5 761.3ZM441.3 617.6L445.8 622.1L441.3 626.6L436.8 622.1ZM450.5 626.8L455.0 631.3L450.5 635.8L446.0 631.3ZM441.3 638.7L445.8 643.2L441.3 647.7L436.8 643.2ZM459.7 641.8L464.2 646.3L459.7 650.8L455.2 646.3ZM450.5 645.8L455.0 650.3L450.5 654.8L446.0 650.3ZM459.7 651.0L464.2 655.5L459.7 660.0L455.2 655.5ZM441.3 656.8L445.8 661.3L441.3 665.8L436.8 661.3ZM450.5 658.9L455.0 663.4L450.5 667.9L446.0 663.4ZM450.5 671.5L455.0 676.0L450.5 680.5L446.0 676.0ZM441.3 688.4L445.8 692.9L441.3 697.4L436.8 692.9ZM450.5 694.5L455.0 699.0L450.5 703.5L446.0 699.0ZM450.5 719.5L455.0 724.0L450.5 728.5L446.0 724.0ZM450.5 757.6L455.0 762.1L450.5 766.6L446.0 762.1ZM450.5 773.4L455.0 777.9L450.5 782.4L446.0 777.9ZM489.8 623.7L494.3 628.2L489.8 632.7L485.3 628.2ZM480.5 639.9L485.0 644.4L480.5 648.9L476.0 644.4ZM484.8 639.2L489.3 643.7L484.8 648.2L480.3 643.7ZM489.8 643.6L494.3 648.1L489.8 652.6L485.3 648.1ZM499.2 639.9L503.7 644.4L499.2 648.9L494.7 644.4ZM489.8 673.9L494.3 678.4L489.8 682.9L485.3 678.4Z" fill="#000"/>
<path d="M318.9 668.3H341" stroke="#111" stroke-width="1.5"/>
<path d="M358.4 670H380.2" stroke="#111" stroke-width="1.5"/>
<path d="M397.9 710.8H415" stroke="#111" stroke-width="1.5"/>
<path d="M444 662.3H463.7" stroke="#111" stroke-width="1.5"/>
<path d="M480 644H499.2" stroke="#111" stroke-width="1.5"/>
<path d="M372.9 601H410.3M372.9 596.5V605.5M410.3 596.5V605.5" stroke="#999" stroke-width="1.1" fill="none"/>
<text x="379.5" y="596.3" font-size="9.6" text-anchor="start" fill="#222" stroke="#222" stroke-width="0.35" font-style="italic">p&lt;0.04</text>
</svg>
</body></html>
